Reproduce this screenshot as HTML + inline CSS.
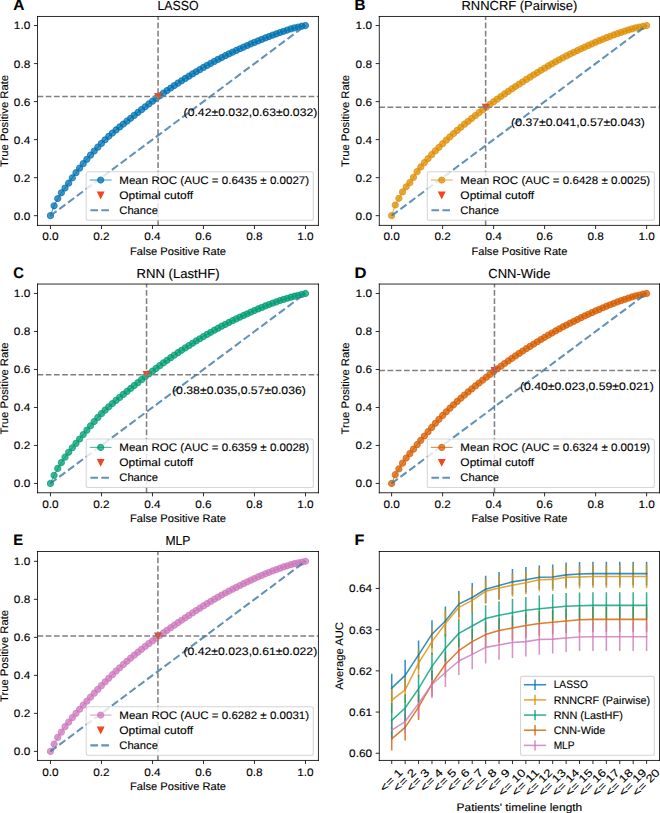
<!DOCTYPE html>
<html><head><meta charset="utf-8"><style>html,body{margin:0;padding:0;background:#fff;overflow:hidden}svg{display:block}text{stroke:#000;stroke-width:0.12px;text-rendering:geometricPrecision}</style></head><body>
<svg width="660" height="813" viewBox="0 0 660 813" version="1.1"> 
<defs> 
<style type="text/css">*{stroke-linejoin: round; stroke-linecap: butt}</style> 
</defs> 
<g id="figure_1"> 
<g id="patch_1"> 
<path d="M 0 813 L 660 813 L 660 0 L 0 0 z 
" style="fill: #ffffff"/> 
</g> 
<g id="axes_1"> 
<g id="patch_2"> 
<path d="M 37.53 225.4 L 318.45 225.4 L 318.45 16.47 L 37.53 16.47 z 
" style="fill: #ffffff"/> 
</g> 
<g id="matplotlib.axis_1"> 
<g id="xtick_1"> 
<g id="line2d_1"> 
<defs> 
<path id="m2a7deeeb55" d="M 0 0 L 0 3.6155 " style="stroke: #000000; stroke-width: 0.8264"/> 
</defs> 
<g> 
<use href="#m2a7deeeb55" x="50.459052" y="225.4" style="stroke: #000000; stroke-width: 0.8264"/> 
</g> 
</g> 
<g id="text_1"> 
<text style="font-family:&quot;Liberation Sans&quot;,sans-serif;font-size:10.929px;text-anchor:middle" x="50.459052" y="240.480186" textLength="16.43" lengthAdjust="spacingAndGlyphs">0.0</text> 
</g> 
</g> 
<g id="xtick_2"> 
<g id="line2d_2"> 
<g> 
<use href="#m2a7deeeb55" x="101.461231" y="225.4" style="stroke: #000000; stroke-width: 0.8264"/> 
</g> 
</g> 
<g id="text_2"> 
<text style="font-family:&quot;Liberation Sans&quot;,sans-serif;font-size:10.929px;text-anchor:middle" x="101.461231" y="240.480186" textLength="16.43" lengthAdjust="spacingAndGlyphs">0.2</text> 
</g> 
</g> 
<g id="xtick_3"> 
<g id="line2d_3"> 
<g> 
<use href="#m2a7deeeb55" x="152.46341" y="225.4" style="stroke: #000000; stroke-width: 0.8264"/> 
</g> 
</g> 
<g id="text_3"> 
<text style="font-family:&quot;Liberation Sans&quot;,sans-serif;font-size:10.929px;text-anchor:middle" x="152.46341" y="240.480186" textLength="16.43" lengthAdjust="spacingAndGlyphs">0.4</text> 
</g> 
</g> 
<g id="xtick_4"> 
<g id="line2d_4"> 
<g> 
<use href="#m2a7deeeb55" x="203.465588" y="225.4" style="stroke: #000000; stroke-width: 0.8264"/> 
</g> 
</g> 
<g id="text_4"> 
<text style="font-family:&quot;Liberation Sans&quot;,sans-serif;font-size:10.929px;text-anchor:middle" x="203.465588" y="240.480186" textLength="16.43" lengthAdjust="spacingAndGlyphs">0.6</text> 
</g> 
</g> 
<g id="xtick_5"> 
<g id="line2d_5"> 
<g> 
<use href="#m2a7deeeb55" x="254.467767" y="225.4" style="stroke: #000000; stroke-width: 0.8264"/> 
</g> 
</g> 
<g id="text_5"> 
<text style="font-family:&quot;Liberation Sans&quot;,sans-serif;font-size:10.929px;text-anchor:middle" x="254.467767" y="240.480186" textLength="16.43" lengthAdjust="spacingAndGlyphs">0.8</text> 
</g> 
</g> 
<g id="xtick_6"> 
<g id="line2d_6"> 
<g> 
<use href="#m2a7deeeb55" x="305.469946" y="225.4" style="stroke: #000000; stroke-width: 0.8264"/> 
</g> 
</g> 
<g id="text_6"> 
<text style="font-family:&quot;Liberation Sans&quot;,sans-serif;font-size:10.929px;text-anchor:middle" x="305.469946" y="240.480186" textLength="16.43" lengthAdjust="spacingAndGlyphs">1.0</text> 
</g> 
</g> 
<g id="text_7"> 
<text style="font-family:&quot;Liberation Sans&quot;,sans-serif;font-size:10.929px;text-anchor:middle" x="177.99" y="254.609689" textLength="96.01" lengthAdjust="spacingAndGlyphs">False Positive Rate</text> 
</g> 
</g> 
<g id="matplotlib.axis_2"> 
<g id="ytick_1"> 
<g id="line2d_7"> 
<defs> 
<path id="m3db1927b41" d="M 0 0 L -3.6155 0 " style="stroke: #000000; stroke-width: 0.8264"/> 
</defs> 
<g> 
<use href="#m3db1927b41" x="37.53" y="215.666409" style="stroke: #000000; stroke-width: 0.8264"/> 
</g> 
</g> 
<g id="text_8"> 
<text style="font-family:&quot;Liberation Sans&quot;,sans-serif;font-size:10.929px;text-anchor:end" x="30.299" y="219.591002" textLength="16.43" lengthAdjust="spacingAndGlyphs">0.0</text> 
</g> 
</g> 
<g id="ytick_2"> 
<g id="line2d_8"> 
<g> 
<use href="#m3db1927b41" x="37.53" y="177.644571" style="stroke: #000000; stroke-width: 0.8264"/> 
</g> 
</g> 
<g id="text_9"> 
<text style="font-family:&quot;Liberation Sans&quot;,sans-serif;font-size:10.929px;text-anchor:end" x="30.299" y="181.569164" textLength="16.43" lengthAdjust="spacingAndGlyphs">0.2</text> 
</g> 
</g> 
<g id="ytick_3"> 
<g id="line2d_9"> 
<g> 
<use href="#m3db1927b41" x="37.53" y="139.622733" style="stroke: #000000; stroke-width: 0.8264"/> 
</g> 
</g> 
<g id="text_10"> 
<text style="font-family:&quot;Liberation Sans&quot;,sans-serif;font-size:10.929px;text-anchor:end" x="30.299" y="143.547326" textLength="16.43" lengthAdjust="spacingAndGlyphs">0.4</text> 
</g> 
</g> 
<g id="ytick_4"> 
<g id="line2d_10"> 
<g> 
<use href="#m3db1927b41" x="37.53" y="101.600895" style="stroke: #000000; stroke-width: 0.8264"/> 
</g> 
</g> 
<g id="text_11"> 
<text style="font-family:&quot;Liberation Sans&quot;,sans-serif;font-size:10.929px;text-anchor:end" x="30.299" y="105.525488" textLength="16.43" lengthAdjust="spacingAndGlyphs">0.6</text> 
</g> 
</g> 
<g id="ytick_5"> 
<g id="line2d_11"> 
<g> 
<use href="#m3db1927b41" x="37.53" y="63.579057" style="stroke: #000000; stroke-width: 0.8264"/> 
</g> 
</g> 
<g id="text_12"> 
<text style="font-family:&quot;Liberation Sans&quot;,sans-serif;font-size:10.929px;text-anchor:end" x="30.299" y="67.50365" textLength="16.43" lengthAdjust="spacingAndGlyphs">0.8</text> 
</g> 
</g> 
<g id="ytick_6"> 
<g id="line2d_12"> 
<g> 
<use href="#m3db1927b41" x="37.53" y="25.557219" style="stroke: #000000; stroke-width: 0.8264"/> 
</g> 
</g> 
<g id="text_13"> 
<text style="font-family:&quot;Liberation Sans&quot;,sans-serif;font-size:10.929px;text-anchor:end" x="30.299" y="29.481812" textLength="16.43" lengthAdjust="spacingAndGlyphs">1.0</text> 
</g> 
</g> 
<g id="text_14"> 
<text style="font-family:&quot;Liberation Sans&quot;,sans-serif;font-size:10.929px;text-anchor:middle" x="7.590755" y="120.935" transform="rotate(-90 7.590755 120.935)" textLength="92.02" lengthAdjust="spacingAndGlyphs">True Positive Rate</text> 
</g> 
</g> 
<g id="line2d_13"> 
<path d="M 50.459052 215.666409 L 54.102065 205.78368 L 57.745078 198.505882 L 61.388091 192.792713 L 65.031103 188.013017 L 68.674116 183.131305 L 72.317129 177.911015 L 75.960142 172.739564 L 79.603154 168.101426 L 83.246167 163.61425 L 86.88918 159.269654 L 90.532193 155.069276 L 94.175205 151.014754 L 97.818218 147.107726 L 101.461231 143.349832 L 105.104244 139.742708 L 108.747256 136.300394 L 112.390269 133.051923 L 116.033282 129.958525 L 119.676295 126.975627 L 123.319308 124.058654 L 126.96232 121.163032 L 130.605333 118.26162 L 134.248346 115.368085 L 137.891359 112.487788 L 141.534371 109.625759 L 145.177384 106.787026 L 148.820397 103.976619 L 152.46341 101.199567 L 156.106422 98.460899 L 159.749435 95.765645 L 163.392448 93.118835 L 167.035461 90.525496 L 170.678473 87.99066 L 174.321486 85.519354 L 177.964499 83.116608 L 181.607512 80.771889 L 185.250524 78.461542 L 188.893537 76.186546 L 192.53655 73.948321 L 196.179563 71.748284 L 199.822575 69.587855 L 203.465588 67.468452 L 207.108601 65.391493 L 210.751614 63.358397 L 214.394627 61.370582 L 218.037639 59.429466 L 221.680652 57.536469 L 225.323665 55.693009 L 228.966678 53.900504 L 232.60969 52.152996 L 236.252703 50.438639 L 239.895716 48.757508 L 243.538729 47.109889 L 247.181741 45.496066 L 250.824754 43.916324 L 254.467767 42.370948 L 258.11078 40.860223 L 261.753792 39.384434 L 265.396805 37.943865 L 269.039818 36.538802 L 272.682831 35.16953 L 276.325843 33.836333 L 279.968856 32.539496 L 283.611869 31.273036 L 287.254882 30.049025 L 290.897894 28.906691 L 294.540907 27.885585 L 298.18392 27.002722 L 301.826933 26.224539 L 305.469946 25.557219 " clip-path="url(#p35fcb42cb3)" style="fill: none; stroke: #0173b2; stroke-opacity: 0.75; stroke-width: 1.033; stroke-linecap: square"/> 
<defs> 
<path id="mb3023d647e" d="M 0 3.099 C 0.821864 3.099 1.610178 2.77247 2.191324 2.191324 C 2.77247 1.610178 3.099 0.821864 3.099 0 C 3.099 -0.821864 2.77247 -1.610178 2.191324 -2.191324 C 1.610178 -2.77247 0.821864 -3.099 0 -3.099 C -0.821864 -3.099 -1.610178 -2.77247 -2.191324 -2.191324 C -2.77247 -1.610178 -3.099 -0.821864 -3.099 0 C -3.099 0.821864 -2.77247 1.610178 -2.191324 2.191324 C -1.610178 2.77247 -0.821864 3.099 0 3.099 z 
" style="stroke: #0173b2; stroke-opacity: 0.75; stroke-width: 1.033"/> 
</defs> 
<g clip-path="url(#p35fcb42cb3)"> 
<use href="#mb3023d647e" x="50.459052" y="215.666409" style="fill: #0173b2; fill-opacity: 0.75; stroke: #0173b2; stroke-opacity: 0.75; stroke-width: 1.033"/> 
<use href="#mb3023d647e" x="54.102065" y="205.78368" style="fill: #0173b2; fill-opacity: 0.75; stroke: #0173b2; stroke-opacity: 0.75; stroke-width: 1.033"/> 
<use href="#mb3023d647e" x="57.745078" y="198.505882" style="fill: #0173b2; fill-opacity: 0.75; stroke: #0173b2; stroke-opacity: 0.75; stroke-width: 1.033"/> 
<use href="#mb3023d647e" x="61.388091" y="192.792713" style="fill: #0173b2; fill-opacity: 0.75; stroke: #0173b2; stroke-opacity: 0.75; stroke-width: 1.033"/> 
<use href="#mb3023d647e" x="65.031103" y="188.013017" style="fill: #0173b2; fill-opacity: 0.75; stroke: #0173b2; stroke-opacity: 0.75; stroke-width: 1.033"/> 
<use href="#mb3023d647e" x="68.674116" y="183.131305" style="fill: #0173b2; fill-opacity: 0.75; stroke: #0173b2; stroke-opacity: 0.75; stroke-width: 1.033"/> 
<use href="#mb3023d647e" x="72.317129" y="177.911015" style="fill: #0173b2; fill-opacity: 0.75; stroke: #0173b2; stroke-opacity: 0.75; stroke-width: 1.033"/> 
<use href="#mb3023d647e" x="75.960142" y="172.739564" style="fill: #0173b2; fill-opacity: 0.75; stroke: #0173b2; stroke-opacity: 0.75; stroke-width: 1.033"/> 
<use href="#mb3023d647e" x="79.603154" y="168.101426" style="fill: #0173b2; fill-opacity: 0.75; stroke: #0173b2; stroke-opacity: 0.75; stroke-width: 1.033"/> 
<use href="#mb3023d647e" x="83.246167" y="163.61425" style="fill: #0173b2; fill-opacity: 0.75; stroke: #0173b2; stroke-opacity: 0.75; stroke-width: 1.033"/> 
<use href="#mb3023d647e" x="86.88918" y="159.269654" style="fill: #0173b2; fill-opacity: 0.75; stroke: #0173b2; stroke-opacity: 0.75; stroke-width: 1.033"/> 
<use href="#mb3023d647e" x="90.532193" y="155.069276" style="fill: #0173b2; fill-opacity: 0.75; stroke: #0173b2; stroke-opacity: 0.75; stroke-width: 1.033"/> 
<use href="#mb3023d647e" x="94.175205" y="151.014754" style="fill: #0173b2; fill-opacity: 0.75; stroke: #0173b2; stroke-opacity: 0.75; stroke-width: 1.033"/> 
<use href="#mb3023d647e" x="97.818218" y="147.107726" style="fill: #0173b2; fill-opacity: 0.75; stroke: #0173b2; stroke-opacity: 0.75; stroke-width: 1.033"/> 
<use href="#mb3023d647e" x="101.461231" y="143.349832" style="fill: #0173b2; fill-opacity: 0.75; stroke: #0173b2; stroke-opacity: 0.75; stroke-width: 1.033"/> 
<use href="#mb3023d647e" x="105.104244" y="139.742708" style="fill: #0173b2; fill-opacity: 0.75; stroke: #0173b2; stroke-opacity: 0.75; stroke-width: 1.033"/> 
<use href="#mb3023d647e" x="108.747256" y="136.300394" style="fill: #0173b2; fill-opacity: 0.75; stroke: #0173b2; stroke-opacity: 0.75; stroke-width: 1.033"/> 
<use href="#mb3023d647e" x="112.390269" y="133.051923" style="fill: #0173b2; fill-opacity: 0.75; stroke: #0173b2; stroke-opacity: 0.75; stroke-width: 1.033"/> 
<use href="#mb3023d647e" x="116.033282" y="129.958525" style="fill: #0173b2; fill-opacity: 0.75; stroke: #0173b2; stroke-opacity: 0.75; stroke-width: 1.033"/> 
<use href="#mb3023d647e" x="119.676295" y="126.975627" style="fill: #0173b2; fill-opacity: 0.75; stroke: #0173b2; stroke-opacity: 0.75; stroke-width: 1.033"/> 
<use href="#mb3023d647e" x="123.319308" y="124.058654" style="fill: #0173b2; fill-opacity: 0.75; stroke: #0173b2; stroke-opacity: 0.75; stroke-width: 1.033"/> 
<use href="#mb3023d647e" x="126.96232" y="121.163032" style="fill: #0173b2; fill-opacity: 0.75; stroke: #0173b2; stroke-opacity: 0.75; stroke-width: 1.033"/> 
<use href="#mb3023d647e" x="130.605333" y="118.26162" style="fill: #0173b2; fill-opacity: 0.75; stroke: #0173b2; stroke-opacity: 0.75; stroke-width: 1.033"/> 
<use href="#mb3023d647e" x="134.248346" y="115.368085" style="fill: #0173b2; fill-opacity: 0.75; stroke: #0173b2; stroke-opacity: 0.75; stroke-width: 1.033"/> 
<use href="#mb3023d647e" x="137.891359" y="112.487788" style="fill: #0173b2; fill-opacity: 0.75; stroke: #0173b2; stroke-opacity: 0.75; stroke-width: 1.033"/> 
<use href="#mb3023d647e" x="141.534371" y="109.625759" style="fill: #0173b2; fill-opacity: 0.75; stroke: #0173b2; stroke-opacity: 0.75; stroke-width: 1.033"/> 
<use href="#mb3023d647e" x="145.177384" y="106.787026" style="fill: #0173b2; fill-opacity: 0.75; stroke: #0173b2; stroke-opacity: 0.75; stroke-width: 1.033"/> 
<use href="#mb3023d647e" x="148.820397" y="103.976619" style="fill: #0173b2; fill-opacity: 0.75; stroke: #0173b2; stroke-opacity: 0.75; stroke-width: 1.033"/> 
<use href="#mb3023d647e" x="152.46341" y="101.199567" style="fill: #0173b2; fill-opacity: 0.75; stroke: #0173b2; stroke-opacity: 0.75; stroke-width: 1.033"/> 
<use href="#mb3023d647e" x="156.106422" y="98.460899" style="fill: #0173b2; fill-opacity: 0.75; stroke: #0173b2; stroke-opacity: 0.75; stroke-width: 1.033"/> 
<use href="#mb3023d647e" x="159.749435" y="95.765645" style="fill: #0173b2; fill-opacity: 0.75; stroke: #0173b2; stroke-opacity: 0.75; stroke-width: 1.033"/> 
<use href="#mb3023d647e" x="163.392448" y="93.118835" style="fill: #0173b2; fill-opacity: 0.75; stroke: #0173b2; stroke-opacity: 0.75; stroke-width: 1.033"/> 
<use href="#mb3023d647e" x="167.035461" y="90.525496" style="fill: #0173b2; fill-opacity: 0.75; stroke: #0173b2; stroke-opacity: 0.75; stroke-width: 1.033"/> 
<use href="#mb3023d647e" x="170.678473" y="87.99066" style="fill: #0173b2; fill-opacity: 0.75; stroke: #0173b2; stroke-opacity: 0.75; stroke-width: 1.033"/> 
<use href="#mb3023d647e" x="174.321486" y="85.519354" style="fill: #0173b2; fill-opacity: 0.75; stroke: #0173b2; stroke-opacity: 0.75; stroke-width: 1.033"/> 
<use href="#mb3023d647e" x="177.964499" y="83.116608" style="fill: #0173b2; fill-opacity: 0.75; stroke: #0173b2; stroke-opacity: 0.75; stroke-width: 1.033"/> 
<use href="#mb3023d647e" x="181.607512" y="80.771889" style="fill: #0173b2; fill-opacity: 0.75; stroke: #0173b2; stroke-opacity: 0.75; stroke-width: 1.033"/> 
<use href="#mb3023d647e" x="185.250524" y="78.461542" style="fill: #0173b2; fill-opacity: 0.75; stroke: #0173b2; stroke-opacity: 0.75; stroke-width: 1.033"/> 
<use href="#mb3023d647e" x="188.893537" y="76.186546" style="fill: #0173b2; fill-opacity: 0.75; stroke: #0173b2; stroke-opacity: 0.75; stroke-width: 1.033"/> 
<use href="#mb3023d647e" x="192.53655" y="73.948321" style="fill: #0173b2; fill-opacity: 0.75; stroke: #0173b2; stroke-opacity: 0.75; stroke-width: 1.033"/> 
<use href="#mb3023d647e" x="196.179563" y="71.748284" style="fill: #0173b2; fill-opacity: 0.75; stroke: #0173b2; stroke-opacity: 0.75; stroke-width: 1.033"/> 
<use href="#mb3023d647e" x="199.822575" y="69.587855" style="fill: #0173b2; fill-opacity: 0.75; stroke: #0173b2; stroke-opacity: 0.75; stroke-width: 1.033"/> 
<use href="#mb3023d647e" x="203.465588" y="67.468452" style="fill: #0173b2; fill-opacity: 0.75; stroke: #0173b2; stroke-opacity: 0.75; stroke-width: 1.033"/> 
<use href="#mb3023d647e" x="207.108601" y="65.391493" style="fill: #0173b2; fill-opacity: 0.75; stroke: #0173b2; stroke-opacity: 0.75; stroke-width: 1.033"/> 
<use href="#mb3023d647e" x="210.751614" y="63.358397" style="fill: #0173b2; fill-opacity: 0.75; stroke: #0173b2; stroke-opacity: 0.75; stroke-width: 1.033"/> 
<use href="#mb3023d647e" x="214.394627" y="61.370582" style="fill: #0173b2; fill-opacity: 0.75; stroke: #0173b2; stroke-opacity: 0.75; stroke-width: 1.033"/> 
<use href="#mb3023d647e" x="218.037639" y="59.429466" style="fill: #0173b2; fill-opacity: 0.75; stroke: #0173b2; stroke-opacity: 0.75; stroke-width: 1.033"/> 
<use href="#mb3023d647e" x="221.680652" y="57.536469" style="fill: #0173b2; fill-opacity: 0.75; stroke: #0173b2; stroke-opacity: 0.75; stroke-width: 1.033"/> 
<use href="#mb3023d647e" x="225.323665" y="55.693009" style="fill: #0173b2; fill-opacity: 0.75; stroke: #0173b2; stroke-opacity: 0.75; stroke-width: 1.033"/> 
<use href="#mb3023d647e" x="228.966678" y="53.900504" style="fill: #0173b2; fill-opacity: 0.75; stroke: #0173b2; stroke-opacity: 0.75; stroke-width: 1.033"/> 
<use href="#mb3023d647e" x="232.60969" y="52.152996" style="fill: #0173b2; fill-opacity: 0.75; stroke: #0173b2; stroke-opacity: 0.75; stroke-width: 1.033"/> 
<use href="#mb3023d647e" x="236.252703" y="50.438639" style="fill: #0173b2; fill-opacity: 0.75; stroke: #0173b2; stroke-opacity: 0.75; stroke-width: 1.033"/> 
<use href="#mb3023d647e" x="239.895716" y="48.757508" style="fill: #0173b2; fill-opacity: 0.75; stroke: #0173b2; stroke-opacity: 0.75; stroke-width: 1.033"/> 
<use href="#mb3023d647e" x="243.538729" y="47.109889" style="fill: #0173b2; fill-opacity: 0.75; stroke: #0173b2; stroke-opacity: 0.75; stroke-width: 1.033"/> 
<use href="#mb3023d647e" x="247.181741" y="45.496066" style="fill: #0173b2; fill-opacity: 0.75; stroke: #0173b2; stroke-opacity: 0.75; stroke-width: 1.033"/> 
<use href="#mb3023d647e" x="250.824754" y="43.916324" style="fill: #0173b2; fill-opacity: 0.75; stroke: #0173b2; stroke-opacity: 0.75; stroke-width: 1.033"/> 
<use href="#mb3023d647e" x="254.467767" y="42.370948" style="fill: #0173b2; fill-opacity: 0.75; stroke: #0173b2; stroke-opacity: 0.75; stroke-width: 1.033"/> 
<use href="#mb3023d647e" x="258.11078" y="40.860223" style="fill: #0173b2; fill-opacity: 0.75; stroke: #0173b2; stroke-opacity: 0.75; stroke-width: 1.033"/> 
<use href="#mb3023d647e" x="261.753792" y="39.384434" style="fill: #0173b2; fill-opacity: 0.75; stroke: #0173b2; stroke-opacity: 0.75; stroke-width: 1.033"/> 
<use href="#mb3023d647e" x="265.396805" y="37.943865" style="fill: #0173b2; fill-opacity: 0.75; stroke: #0173b2; stroke-opacity: 0.75; stroke-width: 1.033"/> 
<use href="#mb3023d647e" x="269.039818" y="36.538802" style="fill: #0173b2; fill-opacity: 0.75; stroke: #0173b2; stroke-opacity: 0.75; stroke-width: 1.033"/> 
<use href="#mb3023d647e" x="272.682831" y="35.16953" style="fill: #0173b2; fill-opacity: 0.75; stroke: #0173b2; stroke-opacity: 0.75; stroke-width: 1.033"/> 
<use href="#mb3023d647e" x="276.325843" y="33.836333" style="fill: #0173b2; fill-opacity: 0.75; stroke: #0173b2; stroke-opacity: 0.75; stroke-width: 1.033"/> 
<use href="#mb3023d647e" x="279.968856" y="32.539496" style="fill: #0173b2; fill-opacity: 0.75; stroke: #0173b2; stroke-opacity: 0.75; stroke-width: 1.033"/> 
<use href="#mb3023d647e" x="283.611869" y="31.273036" style="fill: #0173b2; fill-opacity: 0.75; stroke: #0173b2; stroke-opacity: 0.75; stroke-width: 1.033"/> 
<use href="#mb3023d647e" x="287.254882" y="30.049025" style="fill: #0173b2; fill-opacity: 0.75; stroke: #0173b2; stroke-opacity: 0.75; stroke-width: 1.033"/> 
<use href="#mb3023d647e" x="290.897894" y="28.906691" style="fill: #0173b2; fill-opacity: 0.75; stroke: #0173b2; stroke-opacity: 0.75; stroke-width: 1.033"/> 
<use href="#mb3023d647e" x="294.540907" y="27.885585" style="fill: #0173b2; fill-opacity: 0.75; stroke: #0173b2; stroke-opacity: 0.75; stroke-width: 1.033"/> 
<use href="#mb3023d647e" x="298.18392" y="27.002722" style="fill: #0173b2; fill-opacity: 0.75; stroke: #0173b2; stroke-opacity: 0.75; stroke-width: 1.033"/> 
<use href="#mb3023d647e" x="301.826933" y="26.224539" style="fill: #0173b2; fill-opacity: 0.75; stroke: #0173b2; stroke-opacity: 0.75; stroke-width: 1.033"/> 
<use href="#mb3023d647e" x="305.469946" y="25.557219" style="fill: #0173b2; fill-opacity: 0.75; stroke: #0173b2; stroke-opacity: 0.75; stroke-width: 1.033"/> 
</g> 
</g> 
<g id="line2d_14"> 
<defs> 
<path id="m56142252ae" d="M -0 3.099 L 3.099 -3.099 L -3.099 -3.099 z 
" style="stroke: #f0461e; stroke-width: 1.033; stroke-linejoin: miter"/> 
</defs> 
<g clip-path="url(#p35fcb42cb3)"> 
<use href="#m56142252ae" x="158.073649" y="96.582013" style="fill: #f0461e; stroke: #f0461e; stroke-width: 1.033; stroke-linejoin: miter"/> 
</g> 
</g> 
<g id="line2d_15"> 
<path d="M 158.073649 225.4 L 158.073649 16.47 " clip-path="url(#p35fcb42cb3)" style="fill: none; stroke-dasharray: 5.73315,2.4792; stroke-dashoffset: 0; stroke: #808080; stroke-width: 1.5495"/> 
</g> 
<g id="line2d_16"> 
<path d="M 37.53 96.582013 L 318.45 96.582013 " clip-path="url(#p35fcb42cb3)" style="fill: none; stroke-dasharray: 5.73315,2.4792; stroke-dashoffset: 0; stroke: #808080; stroke-width: 1.5495"/> 
</g> 
<g id="line2d_17"> 
<path d="M 50.459052 215.666409 L 305.469946 25.557219 " clip-path="url(#p35fcb42cb3)" style="fill: none; stroke-dasharray: 7.6442,3.3056; stroke-dashoffset: 0; stroke: #3a77a5; stroke-opacity: 0.8; stroke-width: 2.066"/> 
</g> 
<g id="patch_3"> 
<path d="M 37.53 225.4 L 37.53 16.47 " style="fill: none; stroke: #000000; stroke-width: 0.8264; stroke-linejoin: miter; stroke-linecap: square"/> 
</g> 
<g id="patch_4"> 
<path d="M 318.45 225.4 L 318.45 16.47 " style="fill: none; stroke: #000000; stroke-width: 0.8264; stroke-linejoin: miter; stroke-linecap: square"/> 
</g> 
<g id="patch_5"> 
<path d="M 37.53 225.4 L 318.45 225.4 " style="fill: none; stroke: #000000; stroke-width: 0.8264; stroke-linejoin: miter; stroke-linecap: square"/> 
</g> 
<g id="patch_6"> 
<path d="M 37.53 16.47 L 318.45 16.47 " style="fill: none; stroke: #000000; stroke-width: 0.8264; stroke-linejoin: miter; stroke-linecap: square"/> 
</g> 
<g id="text_15"> 
<text style="font-family:&quot;Liberation Sans&quot;,sans-serif;font-size:10.929px;text-anchor:start" x="183.574739" y="115.592932" textLength="133.80" lengthAdjust="spacingAndGlyphs">(0.42±0.032,0.63±0.032)</text> 
</g> 
<g id="text_16"> 
<text style="font-family:&quot;Liberation Sans&quot;,sans-serif;font-size:13.115px;text-anchor:middle" x="177.99" y="10.272" textLength="41.16" lengthAdjust="spacingAndGlyphs">LASSO</text> 
</g> 
<g id="legend_1"> 
<g id="patch_7"> 
<path d="M 88.292758 220.235 L 311.219 220.235 Q 313.285 220.235 313.285 218.169 L 313.285 173.714491 Q 313.285 171.648491 311.219 171.648491 L 88.292758 171.648491 Q 86.226758 171.648491 86.226758 173.714491 L 86.226758 218.169 Q 86.226758 220.235 88.292758 220.235 z 
" style="fill: #ffffff; opacity: 0.8; stroke: #cccccc; stroke-width: 1.033; stroke-linejoin: miter"/> 
</g> 
<g id="line2d_18"> 
<path d="M 90.358758 180.014177 L 100.688758 180.014177 L 111.018758 180.014177 " style="fill: none; stroke: #0173b2; stroke-opacity: 0.75; stroke-width: 1.033; stroke-linecap: square"/> 
<g> 
<use href="#mb3023d647e" x="100.688758" y="180.014177" style="fill: #0173b2; fill-opacity: 0.75; stroke: #0173b2; stroke-opacity: 0.75; stroke-width: 1.033"/> 
</g> 
</g> 
<g id="text_17"> 
<text style="font-family:&quot;Liberation Sans&quot;,sans-serif;font-size:10.929px;text-anchor:start" x="119.282758" y="183.629677" textLength="189.87" lengthAdjust="spacingAndGlyphs">Mean ROC (AUC = 0.6435 ± 0.0027)</text> 
</g> 
<g id="line2d_19"> 
<g> 
<use href="#m56142252ae" x="100.688758" y="195.17668" style="fill: #f0461e; stroke: #f0461e; stroke-width: 1.033; stroke-linejoin: miter"/> 
</g> 
</g> 
<g id="text_18"> 
<text style="font-family:&quot;Liberation Sans&quot;,sans-serif;font-size:10.929px;text-anchor:start" x="119.282758" y="198.79218" textLength="73.87" lengthAdjust="spacingAndGlyphs">Optimal cutoff</text> 
</g> 
<g id="line2d_20"> 
<path d="M 90.358758 210.339183 L 100.688758 210.339183 L 111.018758 210.339183 " style="fill: none; stroke-dasharray: 7.6442,3.3056; stroke-dashoffset: 0; stroke: #3a77a5; stroke-opacity: 0.8; stroke-width: 2.066"/> 
</g> 
<g id="text_19"> 
<text style="font-family:&quot;Liberation Sans&quot;,sans-serif;font-size:10.929px;text-anchor:start" x="119.282758" y="213.954683" textLength="38.67" lengthAdjust="spacingAndGlyphs">Chance</text> 
</g> 
</g> 
</g> 
<g id="axes_2"> 
<g id="patch_8"> 
<path d="M 379.3 225.4 L 659.5 225.4 L 659.5 16.47 L 379.3 16.47 z 
" style="fill: #ffffff"/> 
</g> 
<g id="matplotlib.axis_3"> 
<g id="xtick_7"> 
<g id="line2d_21"> 
<g> 
<use href="#m2a7deeeb55" x="391.616764" y="225.4" style="stroke: #000000; stroke-width: 0.8264"/> 
</g> 
</g> 
<g id="text_20"> 
<text style="font-family:&quot;Liberation Sans&quot;,sans-serif;font-size:10.929px;text-anchor:middle" x="391.616764" y="240.480186" textLength="16.43" lengthAdjust="spacingAndGlyphs">0.0</text> 
</g> 
</g> 
<g id="xtick_8"> 
<g id="line2d_22"> 
<g> 
<use href="#m2a7deeeb55" x="442.617856" y="225.4" style="stroke: #000000; stroke-width: 0.8264"/> 
</g> 
</g> 
<g id="text_21"> 
<text style="font-family:&quot;Liberation Sans&quot;,sans-serif;font-size:10.929px;text-anchor:middle" x="442.617856" y="240.480186" textLength="16.43" lengthAdjust="spacingAndGlyphs">0.2</text> 
</g> 
</g> 
<g id="xtick_9"> 
<g id="line2d_23"> 
<g> 
<use href="#m2a7deeeb55" x="493.618948" y="225.4" style="stroke: #000000; stroke-width: 0.8264"/> 
</g> 
</g> 
<g id="text_22"> 
<text style="font-family:&quot;Liberation Sans&quot;,sans-serif;font-size:10.929px;text-anchor:middle" x="493.618948" y="240.480186" textLength="16.43" lengthAdjust="spacingAndGlyphs">0.4</text> 
</g> 
</g> 
<g id="xtick_10"> 
<g id="line2d_24"> 
<g> 
<use href="#m2a7deeeb55" x="544.62004" y="225.4" style="stroke: #000000; stroke-width: 0.8264"/> 
</g> 
</g> 
<g id="text_23"> 
<text style="font-family:&quot;Liberation Sans&quot;,sans-serif;font-size:10.929px;text-anchor:middle" x="544.62004" y="240.480186" textLength="16.43" lengthAdjust="spacingAndGlyphs">0.6</text> 
</g> 
</g> 
<g id="xtick_11"> 
<g id="line2d_25"> 
<g> 
<use href="#m2a7deeeb55" x="595.621132" y="225.4" style="stroke: #000000; stroke-width: 0.8264"/> 
</g> 
</g> 
<g id="text_24"> 
<text style="font-family:&quot;Liberation Sans&quot;,sans-serif;font-size:10.929px;text-anchor:middle" x="595.621132" y="240.480186" textLength="16.43" lengthAdjust="spacingAndGlyphs">0.8</text> 
</g> 
</g> 
<g id="xtick_12"> 
<g id="line2d_26"> 
<g> 
<use href="#m2a7deeeb55" x="646.622224" y="225.4" style="stroke: #000000; stroke-width: 0.8264"/> 
</g> 
</g> 
<g id="text_25"> 
<text style="font-family:&quot;Liberation Sans&quot;,sans-serif;font-size:10.929px;text-anchor:middle" x="646.622224" y="240.480186" textLength="16.43" lengthAdjust="spacingAndGlyphs">1.0</text> 
</g> 
</g> 
<g id="text_26"> 
<text style="font-family:&quot;Liberation Sans&quot;,sans-serif;font-size:10.929px;text-anchor:middle" x="519.4" y="254.609689" textLength="96.01" lengthAdjust="spacingAndGlyphs">False Positive Rate</text> 
</g> 
</g> 
<g id="matplotlib.axis_4"> 
<g id="ytick_7"> 
<g id="line2d_27"> 
<g> 
<use href="#m3db1927b41" x="379.3" y="215.666409" style="stroke: #000000; stroke-width: 0.8264"/> 
</g> 
</g> 
<g id="text_27"> 
<text style="font-family:&quot;Liberation Sans&quot;,sans-serif;font-size:10.929px;text-anchor:end" x="372.069" y="219.591002" textLength="16.43" lengthAdjust="spacingAndGlyphs">0.0</text> 
</g> 
</g> 
<g id="ytick_8"> 
<g id="line2d_28"> 
<g> 
<use href="#m3db1927b41" x="379.3" y="177.644571" style="stroke: #000000; stroke-width: 0.8264"/> 
</g> 
</g> 
<g id="text_28"> 
<text style="font-family:&quot;Liberation Sans&quot;,sans-serif;font-size:10.929px;text-anchor:end" x="372.069" y="181.569164" textLength="16.43" lengthAdjust="spacingAndGlyphs">0.2</text> 
</g> 
</g> 
<g id="ytick_9"> 
<g id="line2d_29"> 
<g> 
<use href="#m3db1927b41" x="379.3" y="139.622733" style="stroke: #000000; stroke-width: 0.8264"/> 
</g> 
</g> 
<g id="text_29"> 
<text style="font-family:&quot;Liberation Sans&quot;,sans-serif;font-size:10.929px;text-anchor:end" x="372.069" y="143.547326" textLength="16.43" lengthAdjust="spacingAndGlyphs">0.4</text> 
</g> 
</g> 
<g id="ytick_10"> 
<g id="line2d_30"> 
<g> 
<use href="#m3db1927b41" x="379.3" y="101.600895" style="stroke: #000000; stroke-width: 0.8264"/> 
</g> 
</g> 
<g id="text_30"> 
<text style="font-family:&quot;Liberation Sans&quot;,sans-serif;font-size:10.929px;text-anchor:end" x="372.069" y="105.525488" textLength="16.43" lengthAdjust="spacingAndGlyphs">0.6</text> 
</g> 
</g> 
<g id="ytick_11"> 
<g id="line2d_31"> 
<g> 
<use href="#m3db1927b41" x="379.3" y="63.579057" style="stroke: #000000; stroke-width: 0.8264"/> 
</g> 
</g> 
<g id="text_31"> 
<text style="font-family:&quot;Liberation Sans&quot;,sans-serif;font-size:10.929px;text-anchor:end" x="372.069" y="67.50365" textLength="16.43" lengthAdjust="spacingAndGlyphs">0.8</text> 
</g> 
</g> 
<g id="ytick_12"> 
<g id="line2d_32"> 
<g> 
<use href="#m3db1927b41" x="379.3" y="25.557219" style="stroke: #000000; stroke-width: 0.8264"/> 
</g> 
</g> 
<g id="text_32"> 
<text style="font-family:&quot;Liberation Sans&quot;,sans-serif;font-size:10.929px;text-anchor:end" x="372.069" y="29.481812" textLength="16.43" lengthAdjust="spacingAndGlyphs">1.0</text> 
</g> 
</g> 
<g id="text_33"> 
<text style="font-family:&quot;Liberation Sans&quot;,sans-serif;font-size:10.929px;text-anchor:middle" x="349.360755" y="120.935" transform="rotate(-90 349.360755 120.935)" textLength="92.02" lengthAdjust="spacingAndGlyphs">True Positive Rate</text> 
</g> 
</g> 
<g id="line2d_33"> 
<path d="M 391.616764 215.666409 L 395.259699 205.020971 L 398.902634 198.282568 L 402.545569 191.979802 L 406.188504 186.794924 L 409.831439 182.679438 L 413.474375 177.343578 L 417.11731 171.629995 L 420.760245 166.967446 L 424.40318 162.616288 L 428.046115 158.51844 L 431.68905 154.62715 L 435.331986 150.895662 L 438.974921 147.277225 L 442.617856 143.725083 L 446.260791 140.227701 L 449.903726 136.841072 L 453.546661 133.558685 L 457.189596 130.37082 L 460.832532 127.267753 L 464.475467 124.239764 L 468.118402 121.27713 L 471.761337 118.365419 L 475.404272 115.493743 L 479.047207 112.661987 L 482.690142 109.870118 L 486.333078 107.118101 L 489.976013 104.405902 L 493.618948 101.733487 L 497.261883 99.100823 L 500.904818 96.507875 L 504.547753 93.95461 L 508.190689 91.440994 L 511.833624 88.966993 L 515.476559 86.532572 L 519.119494 84.137699 L 522.762429 81.773175 L 526.405364 79.427594 L 530.048299 77.104435 L 533.691235 74.807309 L 537.33417 72.539828 L 540.977105 70.3056 L 544.62004 68.108239 L 548.262975 65.951353 L 551.90591 63.838553 L 555.548845 61.773452 L 559.191781 59.759658 L 562.834716 57.800783 L 566.477651 55.900438 L 570.120586 54.062233 L 573.763521 52.274477 L 577.406456 50.516944 L 581.049392 48.791038 L 584.692327 47.098366 L 588.335262 45.440538 L 591.978197 43.819161 L 595.621132 42.235844 L 599.264067 40.692194 L 602.907002 39.18982 L 606.549938 37.73033 L 610.192873 36.315333 L 613.835808 34.946435 L 617.478743 33.625246 L 621.121678 32.353374 L 624.764613 31.134838 L 628.407548 29.98228 L 632.050484 28.909779 L 635.693419 27.931406 L 639.336354 27.052067 L 642.979289 26.259791 L 646.622224 25.557219 " clip-path="url(#pb8ad8e4391)" style="fill: none; stroke: #de8f05; stroke-opacity: 0.75; stroke-width: 1.033; stroke-linecap: square"/> 
<defs> 
<path id="m3898667962" d="M 0 3.099 C 0.821864 3.099 1.610178 2.77247 2.191324 2.191324 C 2.77247 1.610178 3.099 0.821864 3.099 0 C 3.099 -0.821864 2.77247 -1.610178 2.191324 -2.191324 C 1.610178 -2.77247 0.821864 -3.099 0 -3.099 C -0.821864 -3.099 -1.610178 -2.77247 -2.191324 -2.191324 C -2.77247 -1.610178 -3.099 -0.821864 -3.099 0 C -3.099 0.821864 -2.77247 1.610178 -2.191324 2.191324 C -1.610178 2.77247 -0.821864 3.099 0 3.099 z 
" style="stroke: #de8f05; stroke-opacity: 0.75; stroke-width: 1.033"/> 
</defs> 
<g clip-path="url(#pb8ad8e4391)"> 
<use href="#m3898667962" x="391.616764" y="215.666409" style="fill: #de8f05; fill-opacity: 0.75; stroke: #de8f05; stroke-opacity: 0.75; stroke-width: 1.033"/> 
<use href="#m3898667962" x="395.259699" y="205.020971" style="fill: #de8f05; fill-opacity: 0.75; stroke: #de8f05; stroke-opacity: 0.75; stroke-width: 1.033"/> 
<use href="#m3898667962" x="398.902634" y="198.282568" style="fill: #de8f05; fill-opacity: 0.75; stroke: #de8f05; stroke-opacity: 0.75; stroke-width: 1.033"/> 
<use href="#m3898667962" x="402.545569" y="191.979802" style="fill: #de8f05; fill-opacity: 0.75; stroke: #de8f05; stroke-opacity: 0.75; stroke-width: 1.033"/> 
<use href="#m3898667962" x="406.188504" y="186.794924" style="fill: #de8f05; fill-opacity: 0.75; stroke: #de8f05; stroke-opacity: 0.75; stroke-width: 1.033"/> 
<use href="#m3898667962" x="409.831439" y="182.679438" style="fill: #de8f05; fill-opacity: 0.75; stroke: #de8f05; stroke-opacity: 0.75; stroke-width: 1.033"/> 
<use href="#m3898667962" x="413.474375" y="177.343578" style="fill: #de8f05; fill-opacity: 0.75; stroke: #de8f05; stroke-opacity: 0.75; stroke-width: 1.033"/> 
<use href="#m3898667962" x="417.11731" y="171.629995" style="fill: #de8f05; fill-opacity: 0.75; stroke: #de8f05; stroke-opacity: 0.75; stroke-width: 1.033"/> 
<use href="#m3898667962" x="420.760245" y="166.967446" style="fill: #de8f05; fill-opacity: 0.75; stroke: #de8f05; stroke-opacity: 0.75; stroke-width: 1.033"/> 
<use href="#m3898667962" x="424.40318" y="162.616288" style="fill: #de8f05; fill-opacity: 0.75; stroke: #de8f05; stroke-opacity: 0.75; stroke-width: 1.033"/> 
<use href="#m3898667962" x="428.046115" y="158.51844" style="fill: #de8f05; fill-opacity: 0.75; stroke: #de8f05; stroke-opacity: 0.75; stroke-width: 1.033"/> 
<use href="#m3898667962" x="431.68905" y="154.62715" style="fill: #de8f05; fill-opacity: 0.75; stroke: #de8f05; stroke-opacity: 0.75; stroke-width: 1.033"/> 
<use href="#m3898667962" x="435.331986" y="150.895662" style="fill: #de8f05; fill-opacity: 0.75; stroke: #de8f05; stroke-opacity: 0.75; stroke-width: 1.033"/> 
<use href="#m3898667962" x="438.974921" y="147.277225" style="fill: #de8f05; fill-opacity: 0.75; stroke: #de8f05; stroke-opacity: 0.75; stroke-width: 1.033"/> 
<use href="#m3898667962" x="442.617856" y="143.725083" style="fill: #de8f05; fill-opacity: 0.75; stroke: #de8f05; stroke-opacity: 0.75; stroke-width: 1.033"/> 
<use href="#m3898667962" x="446.260791" y="140.227701" style="fill: #de8f05; fill-opacity: 0.75; stroke: #de8f05; stroke-opacity: 0.75; stroke-width: 1.033"/> 
<use href="#m3898667962" x="449.903726" y="136.841072" style="fill: #de8f05; fill-opacity: 0.75; stroke: #de8f05; stroke-opacity: 0.75; stroke-width: 1.033"/> 
<use href="#m3898667962" x="453.546661" y="133.558685" style="fill: #de8f05; fill-opacity: 0.75; stroke: #de8f05; stroke-opacity: 0.75; stroke-width: 1.033"/> 
<use href="#m3898667962" x="457.189596" y="130.37082" style="fill: #de8f05; fill-opacity: 0.75; stroke: #de8f05; stroke-opacity: 0.75; stroke-width: 1.033"/> 
<use href="#m3898667962" x="460.832532" y="127.267753" style="fill: #de8f05; fill-opacity: 0.75; stroke: #de8f05; stroke-opacity: 0.75; stroke-width: 1.033"/> 
<use href="#m3898667962" x="464.475467" y="124.239764" style="fill: #de8f05; fill-opacity: 0.75; stroke: #de8f05; stroke-opacity: 0.75; stroke-width: 1.033"/> 
<use href="#m3898667962" x="468.118402" y="121.27713" style="fill: #de8f05; fill-opacity: 0.75; stroke: #de8f05; stroke-opacity: 0.75; stroke-width: 1.033"/> 
<use href="#m3898667962" x="471.761337" y="118.365419" style="fill: #de8f05; fill-opacity: 0.75; stroke: #de8f05; stroke-opacity: 0.75; stroke-width: 1.033"/> 
<use href="#m3898667962" x="475.404272" y="115.493743" style="fill: #de8f05; fill-opacity: 0.75; stroke: #de8f05; stroke-opacity: 0.75; stroke-width: 1.033"/> 
<use href="#m3898667962" x="479.047207" y="112.661987" style="fill: #de8f05; fill-opacity: 0.75; stroke: #de8f05; stroke-opacity: 0.75; stroke-width: 1.033"/> 
<use href="#m3898667962" x="482.690142" y="109.870118" style="fill: #de8f05; fill-opacity: 0.75; stroke: #de8f05; stroke-opacity: 0.75; stroke-width: 1.033"/> 
<use href="#m3898667962" x="486.333078" y="107.118101" style="fill: #de8f05; fill-opacity: 0.75; stroke: #de8f05; stroke-opacity: 0.75; stroke-width: 1.033"/> 
<use href="#m3898667962" x="489.976013" y="104.405902" style="fill: #de8f05; fill-opacity: 0.75; stroke: #de8f05; stroke-opacity: 0.75; stroke-width: 1.033"/> 
<use href="#m3898667962" x="493.618948" y="101.733487" style="fill: #de8f05; fill-opacity: 0.75; stroke: #de8f05; stroke-opacity: 0.75; stroke-width: 1.033"/> 
<use href="#m3898667962" x="497.261883" y="99.100823" style="fill: #de8f05; fill-opacity: 0.75; stroke: #de8f05; stroke-opacity: 0.75; stroke-width: 1.033"/> 
<use href="#m3898667962" x="500.904818" y="96.507875" style="fill: #de8f05; fill-opacity: 0.75; stroke: #de8f05; stroke-opacity: 0.75; stroke-width: 1.033"/> 
<use href="#m3898667962" x="504.547753" y="93.95461" style="fill: #de8f05; fill-opacity: 0.75; stroke: #de8f05; stroke-opacity: 0.75; stroke-width: 1.033"/> 
<use href="#m3898667962" x="508.190689" y="91.440994" style="fill: #de8f05; fill-opacity: 0.75; stroke: #de8f05; stroke-opacity: 0.75; stroke-width: 1.033"/> 
<use href="#m3898667962" x="511.833624" y="88.966993" style="fill: #de8f05; fill-opacity: 0.75; stroke: #de8f05; stroke-opacity: 0.75; stroke-width: 1.033"/> 
<use href="#m3898667962" x="515.476559" y="86.532572" style="fill: #de8f05; fill-opacity: 0.75; stroke: #de8f05; stroke-opacity: 0.75; stroke-width: 1.033"/> 
<use href="#m3898667962" x="519.119494" y="84.137699" style="fill: #de8f05; fill-opacity: 0.75; stroke: #de8f05; stroke-opacity: 0.75; stroke-width: 1.033"/> 
<use href="#m3898667962" x="522.762429" y="81.773175" style="fill: #de8f05; fill-opacity: 0.75; stroke: #de8f05; stroke-opacity: 0.75; stroke-width: 1.033"/> 
<use href="#m3898667962" x="526.405364" y="79.427594" style="fill: #de8f05; fill-opacity: 0.75; stroke: #de8f05; stroke-opacity: 0.75; stroke-width: 1.033"/> 
<use href="#m3898667962" x="530.048299" y="77.104435" style="fill: #de8f05; fill-opacity: 0.75; stroke: #de8f05; stroke-opacity: 0.75; stroke-width: 1.033"/> 
<use href="#m3898667962" x="533.691235" y="74.807309" style="fill: #de8f05; fill-opacity: 0.75; stroke: #de8f05; stroke-opacity: 0.75; stroke-width: 1.033"/> 
<use href="#m3898667962" x="537.33417" y="72.539828" style="fill: #de8f05; fill-opacity: 0.75; stroke: #de8f05; stroke-opacity: 0.75; stroke-width: 1.033"/> 
<use href="#m3898667962" x="540.977105" y="70.3056" style="fill: #de8f05; fill-opacity: 0.75; stroke: #de8f05; stroke-opacity: 0.75; stroke-width: 1.033"/> 
<use href="#m3898667962" x="544.62004" y="68.108239" style="fill: #de8f05; fill-opacity: 0.75; stroke: #de8f05; stroke-opacity: 0.75; stroke-width: 1.033"/> 
<use href="#m3898667962" x="548.262975" y="65.951353" style="fill: #de8f05; fill-opacity: 0.75; stroke: #de8f05; stroke-opacity: 0.75; stroke-width: 1.033"/> 
<use href="#m3898667962" x="551.90591" y="63.838553" style="fill: #de8f05; fill-opacity: 0.75; stroke: #de8f05; stroke-opacity: 0.75; stroke-width: 1.033"/> 
<use href="#m3898667962" x="555.548845" y="61.773452" style="fill: #de8f05; fill-opacity: 0.75; stroke: #de8f05; stroke-opacity: 0.75; stroke-width: 1.033"/> 
<use href="#m3898667962" x="559.191781" y="59.759658" style="fill: #de8f05; fill-opacity: 0.75; stroke: #de8f05; stroke-opacity: 0.75; stroke-width: 1.033"/> 
<use href="#m3898667962" x="562.834716" y="57.800783" style="fill: #de8f05; fill-opacity: 0.75; stroke: #de8f05; stroke-opacity: 0.75; stroke-width: 1.033"/> 
<use href="#m3898667962" x="566.477651" y="55.900438" style="fill: #de8f05; fill-opacity: 0.75; stroke: #de8f05; stroke-opacity: 0.75; stroke-width: 1.033"/> 
<use href="#m3898667962" x="570.120586" y="54.062233" style="fill: #de8f05; fill-opacity: 0.75; stroke: #de8f05; stroke-opacity: 0.75; stroke-width: 1.033"/> 
<use href="#m3898667962" x="573.763521" y="52.274477" style="fill: #de8f05; fill-opacity: 0.75; stroke: #de8f05; stroke-opacity: 0.75; stroke-width: 1.033"/> 
<use href="#m3898667962" x="577.406456" y="50.516944" style="fill: #de8f05; fill-opacity: 0.75; stroke: #de8f05; stroke-opacity: 0.75; stroke-width: 1.033"/> 
<use href="#m3898667962" x="581.049392" y="48.791038" style="fill: #de8f05; fill-opacity: 0.75; stroke: #de8f05; stroke-opacity: 0.75; stroke-width: 1.033"/> 
<use href="#m3898667962" x="584.692327" y="47.098366" style="fill: #de8f05; fill-opacity: 0.75; stroke: #de8f05; stroke-opacity: 0.75; stroke-width: 1.033"/> 
<use href="#m3898667962" x="588.335262" y="45.440538" style="fill: #de8f05; fill-opacity: 0.75; stroke: #de8f05; stroke-opacity: 0.75; stroke-width: 1.033"/> 
<use href="#m3898667962" x="591.978197" y="43.819161" style="fill: #de8f05; fill-opacity: 0.75; stroke: #de8f05; stroke-opacity: 0.75; stroke-width: 1.033"/> 
<use href="#m3898667962" x="595.621132" y="42.235844" style="fill: #de8f05; fill-opacity: 0.75; stroke: #de8f05; stroke-opacity: 0.75; stroke-width: 1.033"/> 
<use href="#m3898667962" x="599.264067" y="40.692194" style="fill: #de8f05; fill-opacity: 0.75; stroke: #de8f05; stroke-opacity: 0.75; stroke-width: 1.033"/> 
<use href="#m3898667962" x="602.907002" y="39.18982" style="fill: #de8f05; fill-opacity: 0.75; stroke: #de8f05; stroke-opacity: 0.75; stroke-width: 1.033"/> 
<use href="#m3898667962" x="606.549938" y="37.73033" style="fill: #de8f05; fill-opacity: 0.75; stroke: #de8f05; stroke-opacity: 0.75; stroke-width: 1.033"/> 
<use href="#m3898667962" x="610.192873" y="36.315333" style="fill: #de8f05; fill-opacity: 0.75; stroke: #de8f05; stroke-opacity: 0.75; stroke-width: 1.033"/> 
<use href="#m3898667962" x="613.835808" y="34.946435" style="fill: #de8f05; fill-opacity: 0.75; stroke: #de8f05; stroke-opacity: 0.75; stroke-width: 1.033"/> 
<use href="#m3898667962" x="617.478743" y="33.625246" style="fill: #de8f05; fill-opacity: 0.75; stroke: #de8f05; stroke-opacity: 0.75; stroke-width: 1.033"/> 
<use href="#m3898667962" x="621.121678" y="32.353374" style="fill: #de8f05; fill-opacity: 0.75; stroke: #de8f05; stroke-opacity: 0.75; stroke-width: 1.033"/> 
<use href="#m3898667962" x="624.764613" y="31.134838" style="fill: #de8f05; fill-opacity: 0.75; stroke: #de8f05; stroke-opacity: 0.75; stroke-width: 1.033"/> 
<use href="#m3898667962" x="628.407548" y="29.98228" style="fill: #de8f05; fill-opacity: 0.75; stroke: #de8f05; stroke-opacity: 0.75; stroke-width: 1.033"/> 
<use href="#m3898667962" x="632.050484" y="28.909779" style="fill: #de8f05; fill-opacity: 0.75; stroke: #de8f05; stroke-opacity: 0.75; stroke-width: 1.033"/> 
<use href="#m3898667962" x="635.693419" y="27.931406" style="fill: #de8f05; fill-opacity: 0.75; stroke: #de8f05; stroke-opacity: 0.75; stroke-width: 1.033"/> 
<use href="#m3898667962" x="639.336354" y="27.052067" style="fill: #de8f05; fill-opacity: 0.75; stroke: #de8f05; stroke-opacity: 0.75; stroke-width: 1.033"/> 
<use href="#m3898667962" x="642.979289" y="26.259791" style="fill: #de8f05; fill-opacity: 0.75; stroke: #de8f05; stroke-opacity: 0.75; stroke-width: 1.033"/> 
<use href="#m3898667962" x="646.622224" y="25.557219" style="fill: #de8f05; fill-opacity: 0.75; stroke: #de8f05; stroke-opacity: 0.75; stroke-width: 1.033"/> 
</g> 
</g> 
<g id="line2d_34"> 
<g clip-path="url(#pb8ad8e4391)"> 
<use href="#m56142252ae" x="485.637277" y="107.266149" style="fill: #f0461e; stroke: #f0461e; stroke-width: 1.033; stroke-linejoin: miter"/> 
</g> 
</g> 
<g id="line2d_35"> 
<path d="M 485.637277 225.4 L 485.637277 16.47 " clip-path="url(#pb8ad8e4391)" style="fill: none; stroke-dasharray: 5.73315,2.4792; stroke-dashoffset: 0; stroke: #808080; stroke-width: 1.5495"/> 
</g> 
<g id="line2d_36"> 
<path d="M 379.3 107.266149 L 659.5 107.266149 " clip-path="url(#pb8ad8e4391)" style="fill: none; stroke-dasharray: 5.73315,2.4792; stroke-dashoffset: 0; stroke: #808080; stroke-width: 1.5495"/> 
</g> 
<g id="line2d_37"> 
<path d="M 391.616764 215.666409 L 646.622224 25.557219 " clip-path="url(#pb8ad8e4391)" style="fill: none; stroke-dasharray: 7.6442,3.3056; stroke-dashoffset: 0; stroke: #3a77a5; stroke-opacity: 0.8; stroke-width: 2.066"/> 
</g> 
<g id="patch_9"> 
<path d="M 379.3 225.4 L 379.3 16.47 " style="fill: none; stroke: #000000; stroke-width: 0.8264; stroke-linejoin: miter; stroke-linecap: square"/> 
</g> 
<g id="patch_10"> 
<path d="M 659.5 225.4 L 659.5 16.47 " style="fill: none; stroke: #000000; stroke-width: 0.8264; stroke-linejoin: miter; stroke-linecap: square"/> 
</g> 
<g id="patch_11"> 
<path d="M 379.3 225.4 L 659.5 225.4 " style="fill: none; stroke: #000000; stroke-width: 0.8264; stroke-linejoin: miter; stroke-linecap: square"/> 
</g> 
<g id="patch_12"> 
<path d="M 379.3 16.47 L 659.5 16.47 " style="fill: none; stroke: #000000; stroke-width: 0.8264; stroke-linejoin: miter; stroke-linecap: square"/> 
</g> 
<g id="text_34"> 
<text style="font-family:&quot;Liberation Sans&quot;,sans-serif;font-size:10.929px;text-anchor:start" x="511.137823" y="126.277068" textLength="133.80" lengthAdjust="spacingAndGlyphs">(0.37±0.041,0.57±0.043)</text> 
</g> 
<g id="text_35"> 
<text style="font-family:&quot;Liberation Sans&quot;,sans-serif;font-size:13.115px;text-anchor:middle" x="519.4" y="10.272" textLength="115.89" lengthAdjust="spacingAndGlyphs">RNNCRF (Pairwise)</text> 
</g> 
<g id="legend_2"> 
<g id="patch_13"> 
<path d="M 429.342758 220.235 L 652.269 220.235 Q 654.335 220.235 654.335 218.169 L 654.335 173.714491 Q 654.335 171.648491 652.269 171.648491 L 429.342758 171.648491 Q 427.276758 171.648491 427.276758 173.714491 L 427.276758 218.169 Q 427.276758 220.235 429.342758 220.235 z 
" style="fill: #ffffff; opacity: 0.8; stroke: #cccccc; stroke-width: 1.033; stroke-linejoin: miter"/> 
</g> 
<g id="line2d_38"> 
<path d="M 431.408758 180.014177 L 441.738758 180.014177 L 452.068758 180.014177 " style="fill: none; stroke: #de8f05; stroke-opacity: 0.75; stroke-width: 1.033; stroke-linecap: square"/> 
<g> 
<use href="#m3898667962" x="441.738758" y="180.014177" style="fill: #de8f05; fill-opacity: 0.75; stroke: #de8f05; stroke-opacity: 0.75; stroke-width: 1.033"/> 
</g> 
</g> 
<g id="text_36"> 
<text style="font-family:&quot;Liberation Sans&quot;,sans-serif;font-size:10.929px;text-anchor:start" x="460.332758" y="183.629677" textLength="189.87" lengthAdjust="spacingAndGlyphs">Mean ROC (AUC = 0.6428 ± 0.0025)</text> 
</g> 
<g id="line2d_39"> 
<g> 
<use href="#m56142252ae" x="441.738758" y="195.17668" style="fill: #f0461e; stroke: #f0461e; stroke-width: 1.033; stroke-linejoin: miter"/> 
</g> 
</g> 
<g id="text_37"> 
<text style="font-family:&quot;Liberation Sans&quot;,sans-serif;font-size:10.929px;text-anchor:start" x="460.332758" y="198.79218" textLength="73.87" lengthAdjust="spacingAndGlyphs">Optimal cutoff</text> 
</g> 
<g id="line2d_40"> 
<path d="M 431.408758 210.339183 L 441.738758 210.339183 L 452.068758 210.339183 " style="fill: none; stroke-dasharray: 7.6442,3.3056; stroke-dashoffset: 0; stroke: #3a77a5; stroke-opacity: 0.8; stroke-width: 2.066"/> 
</g> 
<g id="text_38"> 
<text style="font-family:&quot;Liberation Sans&quot;,sans-serif;font-size:10.929px;text-anchor:start" x="460.332758" y="213.954683" textLength="38.67" lengthAdjust="spacingAndGlyphs">Chance</text> 
</g> 
</g> 
</g> 
<g id="axes_3"> 
<g id="patch_14"> 
<path d="M 37.53 492.76 L 318.45 492.76 L 318.45 284.06 L 37.53 284.06 z 
" style="fill: #ffffff"/> 
</g> 
<g id="matplotlib.axis_5"> 
<g id="xtick_13"> 
<g id="line2d_41"> 
<g> 
<use href="#m2a7deeeb55" x="50.459052" y="492.76" style="stroke: #000000; stroke-width: 0.8264"/> 
</g> 
</g> 
<g id="text_39"> 
<text style="font-family:&quot;Liberation Sans&quot;,sans-serif;font-size:10.929px;text-anchor:middle" x="50.459052" y="507.840186" textLength="16.43" lengthAdjust="spacingAndGlyphs">0.0</text> 
</g> 
</g> 
<g id="xtick_14"> 
<g id="line2d_42"> 
<g> 
<use href="#m2a7deeeb55" x="101.461231" y="492.76" style="stroke: #000000; stroke-width: 0.8264"/> 
</g> 
</g> 
<g id="text_40"> 
<text style="font-family:&quot;Liberation Sans&quot;,sans-serif;font-size:10.929px;text-anchor:middle" x="101.461231" y="507.840186" textLength="16.43" lengthAdjust="spacingAndGlyphs">0.2</text> 
</g> 
</g> 
<g id="xtick_15"> 
<g id="line2d_43"> 
<g> 
<use href="#m2a7deeeb55" x="152.46341" y="492.76" style="stroke: #000000; stroke-width: 0.8264"/> 
</g> 
</g> 
<g id="text_41"> 
<text style="font-family:&quot;Liberation Sans&quot;,sans-serif;font-size:10.929px;text-anchor:middle" x="152.46341" y="507.840186" textLength="16.43" lengthAdjust="spacingAndGlyphs">0.4</text> 
</g> 
</g> 
<g id="xtick_16"> 
<g id="line2d_44"> 
<g> 
<use href="#m2a7deeeb55" x="203.465588" y="492.76" style="stroke: #000000; stroke-width: 0.8264"/> 
</g> 
</g> 
<g id="text_42"> 
<text style="font-family:&quot;Liberation Sans&quot;,sans-serif;font-size:10.929px;text-anchor:middle" x="203.465588" y="507.840186" textLength="16.43" lengthAdjust="spacingAndGlyphs">0.6</text> 
</g> 
</g> 
<g id="xtick_17"> 
<g id="line2d_45"> 
<g> 
<use href="#m2a7deeeb55" x="254.467767" y="492.76" style="stroke: #000000; stroke-width: 0.8264"/> 
</g> 
</g> 
<g id="text_43"> 
<text style="font-family:&quot;Liberation Sans&quot;,sans-serif;font-size:10.929px;text-anchor:middle" x="254.467767" y="507.840186" textLength="16.43" lengthAdjust="spacingAndGlyphs">0.8</text> 
</g> 
</g> 
<g id="xtick_18"> 
<g id="line2d_46"> 
<g> 
<use href="#m2a7deeeb55" x="305.469946" y="492.76" style="stroke: #000000; stroke-width: 0.8264"/> 
</g> 
</g> 
<g id="text_44"> 
<text style="font-family:&quot;Liberation Sans&quot;,sans-serif;font-size:10.929px;text-anchor:middle" x="305.469946" y="507.840186" textLength="16.43" lengthAdjust="spacingAndGlyphs">1.0</text> 
</g> 
</g> 
<g id="text_45"> 
<text style="font-family:&quot;Liberation Sans&quot;,sans-serif;font-size:10.929px;text-anchor:middle" x="177.99" y="521.969689" textLength="96.01" lengthAdjust="spacingAndGlyphs">False Positive Rate</text> 
</g> 
</g> 
<g id="matplotlib.axis_6"> 
<g id="ytick_13"> 
<g id="line2d_47"> 
<g> 
<use href="#m3db1927b41" x="37.53" y="483.451516" style="stroke: #000000; stroke-width: 0.8264"/> 
</g> 
</g> 
<g id="text_46"> 
<text style="font-family:&quot;Liberation Sans&quot;,sans-serif;font-size:10.929px;text-anchor:end" x="30.299" y="487.376109" textLength="16.43" lengthAdjust="spacingAndGlyphs">0.0</text> 
</g> 
</g> 
<g id="ytick_14"> 
<g id="line2d_48"> 
<g> 
<use href="#m3db1927b41" x="37.53" y="445.457706" style="stroke: #000000; stroke-width: 0.8264"/> 
</g> 
</g> 
<g id="text_47"> 
<text style="font-family:&quot;Liberation Sans&quot;,sans-serif;font-size:10.929px;text-anchor:end" x="30.299" y="449.382299" textLength="16.43" lengthAdjust="spacingAndGlyphs">0.2</text> 
</g> 
</g> 
<g id="ytick_15"> 
<g id="line2d_49"> 
<g> 
<use href="#m3db1927b41" x="37.53" y="407.463896" style="stroke: #000000; stroke-width: 0.8264"/> 
</g> 
</g> 
<g id="text_48"> 
<text style="font-family:&quot;Liberation Sans&quot;,sans-serif;font-size:10.929px;text-anchor:end" x="30.299" y="411.388489" textLength="16.43" lengthAdjust="spacingAndGlyphs">0.4</text> 
</g> 
</g> 
<g id="ytick_16"> 
<g id="line2d_50"> 
<g> 
<use href="#m3db1927b41" x="37.53" y="369.470086" style="stroke: #000000; stroke-width: 0.8264"/> 
</g> 
</g> 
<g id="text_49"> 
<text style="font-family:&quot;Liberation Sans&quot;,sans-serif;font-size:10.929px;text-anchor:end" x="30.299" y="373.394679" textLength="16.43" lengthAdjust="spacingAndGlyphs">0.6</text> 
</g> 
</g> 
<g id="ytick_17"> 
<g id="line2d_51"> 
<g> 
<use href="#m3db1927b41" x="37.53" y="331.476275" style="stroke: #000000; stroke-width: 0.8264"/> 
</g> 
</g> 
<g id="text_50"> 
<text style="font-family:&quot;Liberation Sans&quot;,sans-serif;font-size:10.929px;text-anchor:end" x="30.299" y="335.400868" textLength="16.43" lengthAdjust="spacingAndGlyphs">0.8</text> 
</g> 
</g> 
<g id="ytick_18"> 
<g id="line2d_52"> 
<g> 
<use href="#m3db1927b41" x="37.53" y="293.482465" style="stroke: #000000; stroke-width: 0.8264"/> 
</g> 
</g> 
<g id="text_51"> 
<text style="font-family:&quot;Liberation Sans&quot;,sans-serif;font-size:10.929px;text-anchor:end" x="30.299" y="297.407058" textLength="16.43" lengthAdjust="spacingAndGlyphs">1.0</text> 
</g> 
</g> 
<g id="text_52"> 
<text style="font-family:&quot;Liberation Sans&quot;,sans-serif;font-size:10.929px;text-anchor:middle" x="7.590755" y="388.41" transform="rotate(-90 7.590755 388.41)" textLength="92.02" lengthAdjust="spacingAndGlyphs">True Positive Rate</text> 
</g> 
</g> 
<g id="line2d_53"> 
<path d="M 50.459052 483.451516 L 54.102065 475.260442 L 57.745078 468.387344 L 61.388091 462.538593 L 65.031103 457.172112 L 68.674116 452.288094 L 72.317129 447.761326 L 75.960142 443.403623 L 79.603154 439.015648 L 83.246167 434.566909 L 86.88918 430.121336 L 90.532193 425.743441 L 94.175205 421.497733 L 97.818218 417.448725 L 101.461231 413.660928 L 105.104244 410.123828 L 108.747256 406.760796 L 112.390269 403.540118 L 116.033282 400.430083 L 119.676295 397.398981 L 123.319308 394.415102 L 126.96232 391.446738 L 130.605333 388.477954 L 134.248346 385.52443 L 137.891359 382.590395 L 141.534371 379.679747 L 145.177384 376.796382 L 148.820397 373.944197 L 152.46341 371.127089 L 156.106422 368.348955 L 159.749435 365.613692 L 163.392448 362.925197 L 167.035461 360.287367 L 170.678473 357.704099 L 174.321486 355.17929 L 177.964499 352.716837 L 181.607512 350.306075 L 185.250524 347.925089 L 188.893537 345.575775 L 192.53655 343.260443 L 196.179563 340.981403 L 199.822575 338.740967 L 203.465588 336.541446 L 207.108601 334.385149 L 210.751614 332.274388 L 214.394627 330.211474 L 218.037639 328.198717 L 221.680652 326.238428 L 225.323665 324.332918 L 228.966678 322.484498 L 232.60969 320.682772 L 236.252703 318.908333 L 239.895716 317.163146 L 243.538729 315.449542 L 247.181741 313.769854 L 250.824754 312.126414 L 254.467767 310.521553 L 258.11078 308.957605 L 261.753792 307.4369 L 265.396805 305.961772 L 269.039818 304.534552 L 272.682831 303.157572 L 276.325843 301.833164 L 279.968856 300.563661 L 283.611869 299.365839 L 287.254882 298.253952 L 290.897894 297.208528 L 294.540907 296.2096 L 298.18392 295.248004 L 301.826933 294.339706 L 305.469946 293.482465 " clip-path="url(#p4486cd3914)" style="fill: none; stroke: #029e73; stroke-opacity: 0.75; stroke-width: 1.033; stroke-linecap: square"/> 
<defs> 
<path id="m4864f01f19" d="M 0 3.099 C 0.821864 3.099 1.610178 2.77247 2.191324 2.191324 C 2.77247 1.610178 3.099 0.821864 3.099 0 C 3.099 -0.821864 2.77247 -1.610178 2.191324 -2.191324 C 1.610178 -2.77247 0.821864 -3.099 0 -3.099 C -0.821864 -3.099 -1.610178 -2.77247 -2.191324 -2.191324 C -2.77247 -1.610178 -3.099 -0.821864 -3.099 0 C -3.099 0.821864 -2.77247 1.610178 -2.191324 2.191324 C -1.610178 2.77247 -0.821864 3.099 0 3.099 z 
" style="stroke: #029e73; stroke-opacity: 0.75; stroke-width: 1.033"/> 
</defs> 
<g clip-path="url(#p4486cd3914)"> 
<use href="#m4864f01f19" x="50.459052" y="483.451516" style="fill: #029e73; fill-opacity: 0.75; stroke: #029e73; stroke-opacity: 0.75; stroke-width: 1.033"/> 
<use href="#m4864f01f19" x="54.102065" y="475.260442" style="fill: #029e73; fill-opacity: 0.75; stroke: #029e73; stroke-opacity: 0.75; stroke-width: 1.033"/> 
<use href="#m4864f01f19" x="57.745078" y="468.387344" style="fill: #029e73; fill-opacity: 0.75; stroke: #029e73; stroke-opacity: 0.75; stroke-width: 1.033"/> 
<use href="#m4864f01f19" x="61.388091" y="462.538593" style="fill: #029e73; fill-opacity: 0.75; stroke: #029e73; stroke-opacity: 0.75; stroke-width: 1.033"/> 
<use href="#m4864f01f19" x="65.031103" y="457.172112" style="fill: #029e73; fill-opacity: 0.75; stroke: #029e73; stroke-opacity: 0.75; stroke-width: 1.033"/> 
<use href="#m4864f01f19" x="68.674116" y="452.288094" style="fill: #029e73; fill-opacity: 0.75; stroke: #029e73; stroke-opacity: 0.75; stroke-width: 1.033"/> 
<use href="#m4864f01f19" x="72.317129" y="447.761326" style="fill: #029e73; fill-opacity: 0.75; stroke: #029e73; stroke-opacity: 0.75; stroke-width: 1.033"/> 
<use href="#m4864f01f19" x="75.960142" y="443.403623" style="fill: #029e73; fill-opacity: 0.75; stroke: #029e73; stroke-opacity: 0.75; stroke-width: 1.033"/> 
<use href="#m4864f01f19" x="79.603154" y="439.015648" style="fill: #029e73; fill-opacity: 0.75; stroke: #029e73; stroke-opacity: 0.75; stroke-width: 1.033"/> 
<use href="#m4864f01f19" x="83.246167" y="434.566909" style="fill: #029e73; fill-opacity: 0.75; stroke: #029e73; stroke-opacity: 0.75; stroke-width: 1.033"/> 
<use href="#m4864f01f19" x="86.88918" y="430.121336" style="fill: #029e73; fill-opacity: 0.75; stroke: #029e73; stroke-opacity: 0.75; stroke-width: 1.033"/> 
<use href="#m4864f01f19" x="90.532193" y="425.743441" style="fill: #029e73; fill-opacity: 0.75; stroke: #029e73; stroke-opacity: 0.75; stroke-width: 1.033"/> 
<use href="#m4864f01f19" x="94.175205" y="421.497733" style="fill: #029e73; fill-opacity: 0.75; stroke: #029e73; stroke-opacity: 0.75; stroke-width: 1.033"/> 
<use href="#m4864f01f19" x="97.818218" y="417.448725" style="fill: #029e73; fill-opacity: 0.75; stroke: #029e73; stroke-opacity: 0.75; stroke-width: 1.033"/> 
<use href="#m4864f01f19" x="101.461231" y="413.660928" style="fill: #029e73; fill-opacity: 0.75; stroke: #029e73; stroke-opacity: 0.75; stroke-width: 1.033"/> 
<use href="#m4864f01f19" x="105.104244" y="410.123828" style="fill: #029e73; fill-opacity: 0.75; stroke: #029e73; stroke-opacity: 0.75; stroke-width: 1.033"/> 
<use href="#m4864f01f19" x="108.747256" y="406.760796" style="fill: #029e73; fill-opacity: 0.75; stroke: #029e73; stroke-opacity: 0.75; stroke-width: 1.033"/> 
<use href="#m4864f01f19" x="112.390269" y="403.540118" style="fill: #029e73; fill-opacity: 0.75; stroke: #029e73; stroke-opacity: 0.75; stroke-width: 1.033"/> 
<use href="#m4864f01f19" x="116.033282" y="400.430083" style="fill: #029e73; fill-opacity: 0.75; stroke: #029e73; stroke-opacity: 0.75; stroke-width: 1.033"/> 
<use href="#m4864f01f19" x="119.676295" y="397.398981" style="fill: #029e73; fill-opacity: 0.75; stroke: #029e73; stroke-opacity: 0.75; stroke-width: 1.033"/> 
<use href="#m4864f01f19" x="123.319308" y="394.415102" style="fill: #029e73; fill-opacity: 0.75; stroke: #029e73; stroke-opacity: 0.75; stroke-width: 1.033"/> 
<use href="#m4864f01f19" x="126.96232" y="391.446738" style="fill: #029e73; fill-opacity: 0.75; stroke: #029e73; stroke-opacity: 0.75; stroke-width: 1.033"/> 
<use href="#m4864f01f19" x="130.605333" y="388.477954" style="fill: #029e73; fill-opacity: 0.75; stroke: #029e73; stroke-opacity: 0.75; stroke-width: 1.033"/> 
<use href="#m4864f01f19" x="134.248346" y="385.52443" style="fill: #029e73; fill-opacity: 0.75; stroke: #029e73; stroke-opacity: 0.75; stroke-width: 1.033"/> 
<use href="#m4864f01f19" x="137.891359" y="382.590395" style="fill: #029e73; fill-opacity: 0.75; stroke: #029e73; stroke-opacity: 0.75; stroke-width: 1.033"/> 
<use href="#m4864f01f19" x="141.534371" y="379.679747" style="fill: #029e73; fill-opacity: 0.75; stroke: #029e73; stroke-opacity: 0.75; stroke-width: 1.033"/> 
<use href="#m4864f01f19" x="145.177384" y="376.796382" style="fill: #029e73; fill-opacity: 0.75; stroke: #029e73; stroke-opacity: 0.75; stroke-width: 1.033"/> 
<use href="#m4864f01f19" x="148.820397" y="373.944197" style="fill: #029e73; fill-opacity: 0.75; stroke: #029e73; stroke-opacity: 0.75; stroke-width: 1.033"/> 
<use href="#m4864f01f19" x="152.46341" y="371.127089" style="fill: #029e73; fill-opacity: 0.75; stroke: #029e73; stroke-opacity: 0.75; stroke-width: 1.033"/> 
<use href="#m4864f01f19" x="156.106422" y="368.348955" style="fill: #029e73; fill-opacity: 0.75; stroke: #029e73; stroke-opacity: 0.75; stroke-width: 1.033"/> 
<use href="#m4864f01f19" x="159.749435" y="365.613692" style="fill: #029e73; fill-opacity: 0.75; stroke: #029e73; stroke-opacity: 0.75; stroke-width: 1.033"/> 
<use href="#m4864f01f19" x="163.392448" y="362.925197" style="fill: #029e73; fill-opacity: 0.75; stroke: #029e73; stroke-opacity: 0.75; stroke-width: 1.033"/> 
<use href="#m4864f01f19" x="167.035461" y="360.287367" style="fill: #029e73; fill-opacity: 0.75; stroke: #029e73; stroke-opacity: 0.75; stroke-width: 1.033"/> 
<use href="#m4864f01f19" x="170.678473" y="357.704099" style="fill: #029e73; fill-opacity: 0.75; stroke: #029e73; stroke-opacity: 0.75; stroke-width: 1.033"/> 
<use href="#m4864f01f19" x="174.321486" y="355.17929" style="fill: #029e73; fill-opacity: 0.75; stroke: #029e73; stroke-opacity: 0.75; stroke-width: 1.033"/> 
<use href="#m4864f01f19" x="177.964499" y="352.716837" style="fill: #029e73; fill-opacity: 0.75; stroke: #029e73; stroke-opacity: 0.75; stroke-width: 1.033"/> 
<use href="#m4864f01f19" x="181.607512" y="350.306075" style="fill: #029e73; fill-opacity: 0.75; stroke: #029e73; stroke-opacity: 0.75; stroke-width: 1.033"/> 
<use href="#m4864f01f19" x="185.250524" y="347.925089" style="fill: #029e73; fill-opacity: 0.75; stroke: #029e73; stroke-opacity: 0.75; stroke-width: 1.033"/> 
<use href="#m4864f01f19" x="188.893537" y="345.575775" style="fill: #029e73; fill-opacity: 0.75; stroke: #029e73; stroke-opacity: 0.75; stroke-width: 1.033"/> 
<use href="#m4864f01f19" x="192.53655" y="343.260443" style="fill: #029e73; fill-opacity: 0.75; stroke: #029e73; stroke-opacity: 0.75; stroke-width: 1.033"/> 
<use href="#m4864f01f19" x="196.179563" y="340.981403" style="fill: #029e73; fill-opacity: 0.75; stroke: #029e73; stroke-opacity: 0.75; stroke-width: 1.033"/> 
<use href="#m4864f01f19" x="199.822575" y="338.740967" style="fill: #029e73; fill-opacity: 0.75; stroke: #029e73; stroke-opacity: 0.75; stroke-width: 1.033"/> 
<use href="#m4864f01f19" x="203.465588" y="336.541446" style="fill: #029e73; fill-opacity: 0.75; stroke: #029e73; stroke-opacity: 0.75; stroke-width: 1.033"/> 
<use href="#m4864f01f19" x="207.108601" y="334.385149" style="fill: #029e73; fill-opacity: 0.75; stroke: #029e73; stroke-opacity: 0.75; stroke-width: 1.033"/> 
<use href="#m4864f01f19" x="210.751614" y="332.274388" style="fill: #029e73; fill-opacity: 0.75; stroke: #029e73; stroke-opacity: 0.75; stroke-width: 1.033"/> 
<use href="#m4864f01f19" x="214.394627" y="330.211474" style="fill: #029e73; fill-opacity: 0.75; stroke: #029e73; stroke-opacity: 0.75; stroke-width: 1.033"/> 
<use href="#m4864f01f19" x="218.037639" y="328.198717" style="fill: #029e73; fill-opacity: 0.75; stroke: #029e73; stroke-opacity: 0.75; stroke-width: 1.033"/> 
<use href="#m4864f01f19" x="221.680652" y="326.238428" style="fill: #029e73; fill-opacity: 0.75; stroke: #029e73; stroke-opacity: 0.75; stroke-width: 1.033"/> 
<use href="#m4864f01f19" x="225.323665" y="324.332918" style="fill: #029e73; fill-opacity: 0.75; stroke: #029e73; stroke-opacity: 0.75; stroke-width: 1.033"/> 
<use href="#m4864f01f19" x="228.966678" y="322.484498" style="fill: #029e73; fill-opacity: 0.75; stroke: #029e73; stroke-opacity: 0.75; stroke-width: 1.033"/> 
<use href="#m4864f01f19" x="232.60969" y="320.682772" style="fill: #029e73; fill-opacity: 0.75; stroke: #029e73; stroke-opacity: 0.75; stroke-width: 1.033"/> 
<use href="#m4864f01f19" x="236.252703" y="318.908333" style="fill: #029e73; fill-opacity: 0.75; stroke: #029e73; stroke-opacity: 0.75; stroke-width: 1.033"/> 
<use href="#m4864f01f19" x="239.895716" y="317.163146" style="fill: #029e73; fill-opacity: 0.75; stroke: #029e73; stroke-opacity: 0.75; stroke-width: 1.033"/> 
<use href="#m4864f01f19" x="243.538729" y="315.449542" style="fill: #029e73; fill-opacity: 0.75; stroke: #029e73; stroke-opacity: 0.75; stroke-width: 1.033"/> 
<use href="#m4864f01f19" x="247.181741" y="313.769854" style="fill: #029e73; fill-opacity: 0.75; stroke: #029e73; stroke-opacity: 0.75; stroke-width: 1.033"/> 
<use href="#m4864f01f19" x="250.824754" y="312.126414" style="fill: #029e73; fill-opacity: 0.75; stroke: #029e73; stroke-opacity: 0.75; stroke-width: 1.033"/> 
<use href="#m4864f01f19" x="254.467767" y="310.521553" style="fill: #029e73; fill-opacity: 0.75; stroke: #029e73; stroke-opacity: 0.75; stroke-width: 1.033"/> 
<use href="#m4864f01f19" x="258.11078" y="308.957605" style="fill: #029e73; fill-opacity: 0.75; stroke: #029e73; stroke-opacity: 0.75; stroke-width: 1.033"/> 
<use href="#m4864f01f19" x="261.753792" y="307.4369" style="fill: #029e73; fill-opacity: 0.75; stroke: #029e73; stroke-opacity: 0.75; stroke-width: 1.033"/> 
<use href="#m4864f01f19" x="265.396805" y="305.961772" style="fill: #029e73; fill-opacity: 0.75; stroke: #029e73; stroke-opacity: 0.75; stroke-width: 1.033"/> 
<use href="#m4864f01f19" x="269.039818" y="304.534552" style="fill: #029e73; fill-opacity: 0.75; stroke: #029e73; stroke-opacity: 0.75; stroke-width: 1.033"/> 
<use href="#m4864f01f19" x="272.682831" y="303.157572" style="fill: #029e73; fill-opacity: 0.75; stroke: #029e73; stroke-opacity: 0.75; stroke-width: 1.033"/> 
<use href="#m4864f01f19" x="276.325843" y="301.833164" style="fill: #029e73; fill-opacity: 0.75; stroke: #029e73; stroke-opacity: 0.75; stroke-width: 1.033"/> 
<use href="#m4864f01f19" x="279.968856" y="300.563661" style="fill: #029e73; fill-opacity: 0.75; stroke: #029e73; stroke-opacity: 0.75; stroke-width: 1.033"/> 
<use href="#m4864f01f19" x="283.611869" y="299.365839" style="fill: #029e73; fill-opacity: 0.75; stroke: #029e73; stroke-opacity: 0.75; stroke-width: 1.033"/> 
<use href="#m4864f01f19" x="287.254882" y="298.253952" style="fill: #029e73; fill-opacity: 0.75; stroke: #029e73; stroke-opacity: 0.75; stroke-width: 1.033"/> 
<use href="#m4864f01f19" x="290.897894" y="297.208528" style="fill: #029e73; fill-opacity: 0.75; stroke: #029e73; stroke-opacity: 0.75; stroke-width: 1.033"/> 
<use href="#m4864f01f19" x="294.540907" y="296.2096" style="fill: #029e73; fill-opacity: 0.75; stroke: #029e73; stroke-opacity: 0.75; stroke-width: 1.033"/> 
<use href="#m4864f01f19" x="298.18392" y="295.248004" style="fill: #029e73; fill-opacity: 0.75; stroke: #029e73; stroke-opacity: 0.75; stroke-width: 1.033"/> 
<use href="#m4864f01f19" x="301.826933" y="294.339706" style="fill: #029e73; fill-opacity: 0.75; stroke: #029e73; stroke-opacity: 0.75; stroke-width: 1.033"/> 
<use href="#m4864f01f19" x="305.469946" y="293.482465" style="fill: #029e73; fill-opacity: 0.75; stroke: #029e73; stroke-opacity: 0.75; stroke-width: 1.033"/> 
</g> 
</g> 
<g id="line2d_54"> 
<g clip-path="url(#p4486cd3914)"> 
<use href="#m56142252ae" x="146.547157" y="374.675238" style="fill: #f0461e; stroke: #f0461e; stroke-width: 1.033; stroke-linejoin: miter"/> 
</g> 
</g> 
<g id="line2d_55"> 
<path d="M 146.547157 492.76 L 146.547157 284.06 " clip-path="url(#p4486cd3914)" style="fill: none; stroke-dasharray: 5.73315,2.4792; stroke-dashoffset: 0; stroke: #808080; stroke-width: 1.5495"/> 
</g> 
<g id="line2d_56"> 
<path d="M 37.53 374.675238 L 318.45 374.675238 " clip-path="url(#p4486cd3914)" style="fill: none; stroke-dasharray: 5.73315,2.4792; stroke-dashoffset: 0; stroke: #808080; stroke-width: 1.5495"/> 
</g> 
<g id="line2d_57"> 
<path d="M 50.459052 483.451516 L 305.469946 293.482465 " clip-path="url(#p4486cd3914)" style="fill: none; stroke-dasharray: 7.6442,3.3056; stroke-dashoffset: 0; stroke: #3a77a5; stroke-opacity: 0.8; stroke-width: 2.066"/> 
</g> 
<g id="patch_15"> 
<path d="M 37.53 492.76 L 37.53 284.06 " style="fill: none; stroke: #000000; stroke-width: 0.8264; stroke-linejoin: miter; stroke-linecap: square"/> 
</g> 
<g id="patch_16"> 
<path d="M 318.45 492.76 L 318.45 284.06 " style="fill: none; stroke: #000000; stroke-width: 0.8264; stroke-linejoin: miter; stroke-linecap: square"/> 
</g> 
<g id="patch_17"> 
<path d="M 37.53 492.76 L 318.45 492.76 " style="fill: none; stroke: #000000; stroke-width: 0.8264; stroke-linejoin: miter; stroke-linecap: square"/> 
</g> 
<g id="patch_18"> 
<path d="M 37.53 284.06 L 318.45 284.06 " style="fill: none; stroke: #000000; stroke-width: 0.8264; stroke-linejoin: miter; stroke-linecap: square"/> 
</g> 
<g id="text_53"> 
<text style="font-family:&quot;Liberation Sans&quot;,sans-serif;font-size:10.929px;text-anchor:start" x="172.048246" y="393.672143" textLength="133.80" lengthAdjust="spacingAndGlyphs">(0.38±0.035,0.57±0.036)</text> 
</g> 
<g id="text_54"> 
<text style="font-family:&quot;Liberation Sans&quot;,sans-serif;font-size:13.115px;text-anchor:middle" x="177.99" y="277.862" textLength="83.04" lengthAdjust="spacingAndGlyphs">RNN (LastHF)</text> 
</g> 
<g id="legend_3"> 
<g id="patch_19"> 
<path d="M 88.292758 487.595 L 311.219 487.595 Q 313.285 487.595 313.285 485.529 L 313.285 441.074491 Q 313.285 439.008491 311.219 439.008491 L 88.292758 439.008491 Q 86.226758 439.008491 86.226758 441.074491 L 86.226758 485.529 Q 86.226758 487.595 88.292758 487.595 z 
" style="fill: #ffffff; opacity: 0.8; stroke: #cccccc; stroke-width: 1.033; stroke-linejoin: miter"/> 
</g> 
<g id="line2d_58"> 
<path d="M 90.358758 447.374177 L 100.688758 447.374177 L 111.018758 447.374177 " style="fill: none; stroke: #029e73; stroke-opacity: 0.75; stroke-width: 1.033; stroke-linecap: square"/> 
<g> 
<use href="#m4864f01f19" x="100.688758" y="447.374177" style="fill: #029e73; fill-opacity: 0.75; stroke: #029e73; stroke-opacity: 0.75; stroke-width: 1.033"/> 
</g> 
</g> 
<g id="text_55"> 
<text style="font-family:&quot;Liberation Sans&quot;,sans-serif;font-size:10.929px;text-anchor:start" x="119.282758" y="450.989677" textLength="189.87" lengthAdjust="spacingAndGlyphs">Mean ROC (AUC = 0.6359 ± 0.0028)</text> 
</g> 
<g id="line2d_59"> 
<g> 
<use href="#m56142252ae" x="100.688758" y="462.53668" style="fill: #f0461e; stroke: #f0461e; stroke-width: 1.033; stroke-linejoin: miter"/> 
</g> 
</g> 
<g id="text_56"> 
<text style="font-family:&quot;Liberation Sans&quot;,sans-serif;font-size:10.929px;text-anchor:start" x="119.282758" y="466.15218" textLength="73.87" lengthAdjust="spacingAndGlyphs">Optimal cutoff</text> 
</g> 
<g id="line2d_60"> 
<path d="M 90.358758 477.699183 L 100.688758 477.699183 L 111.018758 477.699183 " style="fill: none; stroke-dasharray: 7.6442,3.3056; stroke-dashoffset: 0; stroke: #3a77a5; stroke-opacity: 0.8; stroke-width: 2.066"/> 
</g> 
<g id="text_57"> 
<text style="font-family:&quot;Liberation Sans&quot;,sans-serif;font-size:10.929px;text-anchor:start" x="119.282758" y="481.314683" textLength="38.67" lengthAdjust="spacingAndGlyphs">Chance</text> 
</g> 
</g> 
</g> 
<g id="axes_4"> 
<g id="patch_20"> 
<path d="M 379.3 492.76 L 659.5 492.76 L 659.5 284.06 L 379.3 284.06 z 
" style="fill: #ffffff"/> 
</g> 
<g id="matplotlib.axis_7"> 
<g id="xtick_19"> 
<g id="line2d_61"> 
<g> 
<use href="#m2a7deeeb55" x="391.616764" y="492.76" style="stroke: #000000; stroke-width: 0.8264"/> 
</g> 
</g> 
<g id="text_58"> 
<text style="font-family:&quot;Liberation Sans&quot;,sans-serif;font-size:10.929px;text-anchor:middle" x="391.616764" y="507.840186" textLength="16.43" lengthAdjust="spacingAndGlyphs">0.0</text> 
</g> 
</g> 
<g id="xtick_20"> 
<g id="line2d_62"> 
<g> 
<use href="#m2a7deeeb55" x="442.617856" y="492.76" style="stroke: #000000; stroke-width: 0.8264"/> 
</g> 
</g> 
<g id="text_59"> 
<text style="font-family:&quot;Liberation Sans&quot;,sans-serif;font-size:10.929px;text-anchor:middle" x="442.617856" y="507.840186" textLength="16.43" lengthAdjust="spacingAndGlyphs">0.2</text> 
</g> 
</g> 
<g id="xtick_21"> 
<g id="line2d_63"> 
<g> 
<use href="#m2a7deeeb55" x="493.618948" y="492.76" style="stroke: #000000; stroke-width: 0.8264"/> 
</g> 
</g> 
<g id="text_60"> 
<text style="font-family:&quot;Liberation Sans&quot;,sans-serif;font-size:10.929px;text-anchor:middle" x="493.618948" y="507.840186" textLength="16.43" lengthAdjust="spacingAndGlyphs">0.4</text> 
</g> 
</g> 
<g id="xtick_22"> 
<g id="line2d_64"> 
<g> 
<use href="#m2a7deeeb55" x="544.62004" y="492.76" style="stroke: #000000; stroke-width: 0.8264"/> 
</g> 
</g> 
<g id="text_61"> 
<text style="font-family:&quot;Liberation Sans&quot;,sans-serif;font-size:10.929px;text-anchor:middle" x="544.62004" y="507.840186" textLength="16.43" lengthAdjust="spacingAndGlyphs">0.6</text> 
</g> 
</g> 
<g id="xtick_23"> 
<g id="line2d_65"> 
<g> 
<use href="#m2a7deeeb55" x="595.621132" y="492.76" style="stroke: #000000; stroke-width: 0.8264"/> 
</g> 
</g> 
<g id="text_62"> 
<text style="font-family:&quot;Liberation Sans&quot;,sans-serif;font-size:10.929px;text-anchor:middle" x="595.621132" y="507.840186" textLength="16.43" lengthAdjust="spacingAndGlyphs">0.8</text> 
</g> 
</g> 
<g id="xtick_24"> 
<g id="line2d_66"> 
<g> 
<use href="#m2a7deeeb55" x="646.622224" y="492.76" style="stroke: #000000; stroke-width: 0.8264"/> 
</g> 
</g> 
<g id="text_63"> 
<text style="font-family:&quot;Liberation Sans&quot;,sans-serif;font-size:10.929px;text-anchor:middle" x="646.622224" y="507.840186" textLength="16.43" lengthAdjust="spacingAndGlyphs">1.0</text> 
</g> 
</g> 
<g id="text_64"> 
<text style="font-family:&quot;Liberation Sans&quot;,sans-serif;font-size:10.929px;text-anchor:middle" x="519.4" y="521.969689" textLength="96.01" lengthAdjust="spacingAndGlyphs">False Positive Rate</text> 
</g> 
</g> 
<g id="matplotlib.axis_8"> 
<g id="ytick_19"> 
<g id="line2d_67"> 
<g> 
<use href="#m3db1927b41" x="379.3" y="483.451516" style="stroke: #000000; stroke-width: 0.8264"/> 
</g> 
</g> 
<g id="text_65"> 
<text style="font-family:&quot;Liberation Sans&quot;,sans-serif;font-size:10.929px;text-anchor:end" x="372.069" y="487.376109" textLength="16.43" lengthAdjust="spacingAndGlyphs">0.0</text> 
</g> 
</g> 
<g id="ytick_20"> 
<g id="line2d_68"> 
<g> 
<use href="#m3db1927b41" x="379.3" y="445.457706" style="stroke: #000000; stroke-width: 0.8264"/> 
</g> 
</g> 
<g id="text_66"> 
<text style="font-family:&quot;Liberation Sans&quot;,sans-serif;font-size:10.929px;text-anchor:end" x="372.069" y="449.382299" textLength="16.43" lengthAdjust="spacingAndGlyphs">0.2</text> 
</g> 
</g> 
<g id="ytick_21"> 
<g id="line2d_69"> 
<g> 
<use href="#m3db1927b41" x="379.3" y="407.463896" style="stroke: #000000; stroke-width: 0.8264"/> 
</g> 
</g> 
<g id="text_67"> 
<text style="font-family:&quot;Liberation Sans&quot;,sans-serif;font-size:10.929px;text-anchor:end" x="372.069" y="411.388489" textLength="16.43" lengthAdjust="spacingAndGlyphs">0.4</text> 
</g> 
</g> 
<g id="ytick_22"> 
<g id="line2d_70"> 
<g> 
<use href="#m3db1927b41" x="379.3" y="369.470086" style="stroke: #000000; stroke-width: 0.8264"/> 
</g> 
</g> 
<g id="text_68"> 
<text style="font-family:&quot;Liberation Sans&quot;,sans-serif;font-size:10.929px;text-anchor:end" x="372.069" y="373.394679" textLength="16.43" lengthAdjust="spacingAndGlyphs">0.6</text> 
</g> 
</g> 
<g id="ytick_23"> 
<g id="line2d_71"> 
<g> 
<use href="#m3db1927b41" x="379.3" y="331.476275" style="stroke: #000000; stroke-width: 0.8264"/> 
</g> 
</g> 
<g id="text_69"> 
<text style="font-family:&quot;Liberation Sans&quot;,sans-serif;font-size:10.929px;text-anchor:end" x="372.069" y="335.400868" textLength="16.43" lengthAdjust="spacingAndGlyphs">0.8</text> 
</g> 
</g> 
<g id="ytick_24"> 
<g id="line2d_72"> 
<g> 
<use href="#m3db1927b41" x="379.3" y="293.482465" style="stroke: #000000; stroke-width: 0.8264"/> 
</g> 
</g> 
<g id="text_70"> 
<text style="font-family:&quot;Liberation Sans&quot;,sans-serif;font-size:10.929px;text-anchor:end" x="372.069" y="297.407058" textLength="16.43" lengthAdjust="spacingAndGlyphs">1.0</text> 
</g> 
</g> 
<g id="text_71"> 
<text style="font-family:&quot;Liberation Sans&quot;,sans-serif;font-size:10.929px;text-anchor:middle" x="349.360755" y="388.41" transform="rotate(-90 349.360755 388.41)" textLength="92.02" lengthAdjust="spacingAndGlyphs">True Positive Rate</text> 
</g> 
</g> 
<g id="line2d_73"> 
<path d="M 391.616764 483.451516 L 395.259699 474.683176 L 398.902634 468.92306 L 402.545569 463.17108 L 406.188504 458.017224 L 409.831439 453.636231 L 413.474375 449.174213 L 417.11731 444.70326 L 420.760245 440.353055 L 424.40318 436.004641 L 428.046115 431.689741 L 431.68905 427.441969 L 435.331986 423.294944 L 438.974921 419.28228 L 442.617856 415.437594 L 446.260791 411.768422 L 449.903726 408.223847 L 453.546661 404.791464 L 457.189596 401.461084 L 460.832532 398.222521 L 464.475467 395.065586 L 468.118402 391.980094 L 471.761337 388.948587 L 475.404272 385.956744 L 479.047207 383.005314 L 482.690142 380.09516 L 486.333078 377.227147 L 489.976013 374.402141 L 493.618948 371.621006 L 497.261883 368.884608 L 500.904818 366.193812 L 504.547753 363.549483 L 508.190689 360.952486 L 511.833624 358.403685 L 515.476559 355.903947 L 519.119494 353.454136 L 522.762429 351.046526 L 526.405364 348.669766 L 530.048299 346.325427 L 533.691235 344.015198 L 537.33417 341.740768 L 540.977105 339.503826 L 544.62004 337.30606 L 548.262975 335.149159 L 551.90591 333.034813 L 555.548845 330.96471 L 559.191781 328.940538 L 562.834716 326.963988 L 566.477651 325.036747 L 570.120586 323.160505 L 573.763521 321.325276 L 577.406456 319.515786 L 581.049392 317.734071 L 584.692327 315.982328 L 588.335262 314.262754 L 591.978197 312.577545 L 595.621132 310.928898 L 599.264067 309.31901 L 602.907002 307.750078 L 606.549938 306.224298 L 610.192873 304.743867 L 613.835808 303.310981 L 617.478743 301.927838 L 621.121678 300.596634 L 624.764613 299.319415 L 628.407548 298.107746 L 632.050484 296.979807 L 635.693419 295.953811 L 639.336354 295.036101 L 642.979289 294.211178 L 646.622224 293.482465 " clip-path="url(#p6d5fb98dcd)" style="fill: none; stroke: #d55e00; stroke-opacity: 0.75; stroke-width: 1.033; stroke-linecap: square"/> 
<defs> 
<path id="m82abea8178" d="M 0 3.099 C 0.821864 3.099 1.610178 2.77247 2.191324 2.191324 C 2.77247 1.610178 3.099 0.821864 3.099 0 C 3.099 -0.821864 2.77247 -1.610178 2.191324 -2.191324 C 1.610178 -2.77247 0.821864 -3.099 0 -3.099 C -0.821864 -3.099 -1.610178 -2.77247 -2.191324 -2.191324 C -2.77247 -1.610178 -3.099 -0.821864 -3.099 0 C -3.099 0.821864 -2.77247 1.610178 -2.191324 2.191324 C -1.610178 2.77247 -0.821864 3.099 0 3.099 z 
" style="stroke: #d55e00; stroke-opacity: 0.75; stroke-width: 1.033"/> 
</defs> 
<g clip-path="url(#p6d5fb98dcd)"> 
<use href="#m82abea8178" x="391.616764" y="483.451516" style="fill: #d55e00; fill-opacity: 0.75; stroke: #d55e00; stroke-opacity: 0.75; stroke-width: 1.033"/> 
<use href="#m82abea8178" x="395.259699" y="474.683176" style="fill: #d55e00; fill-opacity: 0.75; stroke: #d55e00; stroke-opacity: 0.75; stroke-width: 1.033"/> 
<use href="#m82abea8178" x="398.902634" y="468.92306" style="fill: #d55e00; fill-opacity: 0.75; stroke: #d55e00; stroke-opacity: 0.75; stroke-width: 1.033"/> 
<use href="#m82abea8178" x="402.545569" y="463.17108" style="fill: #d55e00; fill-opacity: 0.75; stroke: #d55e00; stroke-opacity: 0.75; stroke-width: 1.033"/> 
<use href="#m82abea8178" x="406.188504" y="458.017224" style="fill: #d55e00; fill-opacity: 0.75; stroke: #d55e00; stroke-opacity: 0.75; stroke-width: 1.033"/> 
<use href="#m82abea8178" x="409.831439" y="453.636231" style="fill: #d55e00; fill-opacity: 0.75; stroke: #d55e00; stroke-opacity: 0.75; stroke-width: 1.033"/> 
<use href="#m82abea8178" x="413.474375" y="449.174213" style="fill: #d55e00; fill-opacity: 0.75; stroke: #d55e00; stroke-opacity: 0.75; stroke-width: 1.033"/> 
<use href="#m82abea8178" x="417.11731" y="444.70326" style="fill: #d55e00; fill-opacity: 0.75; stroke: #d55e00; stroke-opacity: 0.75; stroke-width: 1.033"/> 
<use href="#m82abea8178" x="420.760245" y="440.353055" style="fill: #d55e00; fill-opacity: 0.75; stroke: #d55e00; stroke-opacity: 0.75; stroke-width: 1.033"/> 
<use href="#m82abea8178" x="424.40318" y="436.004641" style="fill: #d55e00; fill-opacity: 0.75; stroke: #d55e00; stroke-opacity: 0.75; stroke-width: 1.033"/> 
<use href="#m82abea8178" x="428.046115" y="431.689741" style="fill: #d55e00; fill-opacity: 0.75; stroke: #d55e00; stroke-opacity: 0.75; stroke-width: 1.033"/> 
<use href="#m82abea8178" x="431.68905" y="427.441969" style="fill: #d55e00; fill-opacity: 0.75; stroke: #d55e00; stroke-opacity: 0.75; stroke-width: 1.033"/> 
<use href="#m82abea8178" x="435.331986" y="423.294944" style="fill: #d55e00; fill-opacity: 0.75; stroke: #d55e00; stroke-opacity: 0.75; stroke-width: 1.033"/> 
<use href="#m82abea8178" x="438.974921" y="419.28228" style="fill: #d55e00; fill-opacity: 0.75; stroke: #d55e00; stroke-opacity: 0.75; stroke-width: 1.033"/> 
<use href="#m82abea8178" x="442.617856" y="415.437594" style="fill: #d55e00; fill-opacity: 0.75; stroke: #d55e00; stroke-opacity: 0.75; stroke-width: 1.033"/> 
<use href="#m82abea8178" x="446.260791" y="411.768422" style="fill: #d55e00; fill-opacity: 0.75; stroke: #d55e00; stroke-opacity: 0.75; stroke-width: 1.033"/> 
<use href="#m82abea8178" x="449.903726" y="408.223847" style="fill: #d55e00; fill-opacity: 0.75; stroke: #d55e00; stroke-opacity: 0.75; stroke-width: 1.033"/> 
<use href="#m82abea8178" x="453.546661" y="404.791464" style="fill: #d55e00; fill-opacity: 0.75; stroke: #d55e00; stroke-opacity: 0.75; stroke-width: 1.033"/> 
<use href="#m82abea8178" x="457.189596" y="401.461084" style="fill: #d55e00; fill-opacity: 0.75; stroke: #d55e00; stroke-opacity: 0.75; stroke-width: 1.033"/> 
<use href="#m82abea8178" x="460.832532" y="398.222521" style="fill: #d55e00; fill-opacity: 0.75; stroke: #d55e00; stroke-opacity: 0.75; stroke-width: 1.033"/> 
<use href="#m82abea8178" x="464.475467" y="395.065586" style="fill: #d55e00; fill-opacity: 0.75; stroke: #d55e00; stroke-opacity: 0.75; stroke-width: 1.033"/> 
<use href="#m82abea8178" x="468.118402" y="391.980094" style="fill: #d55e00; fill-opacity: 0.75; stroke: #d55e00; stroke-opacity: 0.75; stroke-width: 1.033"/> 
<use href="#m82abea8178" x="471.761337" y="388.948587" style="fill: #d55e00; fill-opacity: 0.75; stroke: #d55e00; stroke-opacity: 0.75; stroke-width: 1.033"/> 
<use href="#m82abea8178" x="475.404272" y="385.956744" style="fill: #d55e00; fill-opacity: 0.75; stroke: #d55e00; stroke-opacity: 0.75; stroke-width: 1.033"/> 
<use href="#m82abea8178" x="479.047207" y="383.005314" style="fill: #d55e00; fill-opacity: 0.75; stroke: #d55e00; stroke-opacity: 0.75; stroke-width: 1.033"/> 
<use href="#m82abea8178" x="482.690142" y="380.09516" style="fill: #d55e00; fill-opacity: 0.75; stroke: #d55e00; stroke-opacity: 0.75; stroke-width: 1.033"/> 
<use href="#m82abea8178" x="486.333078" y="377.227147" style="fill: #d55e00; fill-opacity: 0.75; stroke: #d55e00; stroke-opacity: 0.75; stroke-width: 1.033"/> 
<use href="#m82abea8178" x="489.976013" y="374.402141" style="fill: #d55e00; fill-opacity: 0.75; stroke: #d55e00; stroke-opacity: 0.75; stroke-width: 1.033"/> 
<use href="#m82abea8178" x="493.618948" y="371.621006" style="fill: #d55e00; fill-opacity: 0.75; stroke: #d55e00; stroke-opacity: 0.75; stroke-width: 1.033"/> 
<use href="#m82abea8178" x="497.261883" y="368.884608" style="fill: #d55e00; fill-opacity: 0.75; stroke: #d55e00; stroke-opacity: 0.75; stroke-width: 1.033"/> 
<use href="#m82abea8178" x="500.904818" y="366.193812" style="fill: #d55e00; fill-opacity: 0.75; stroke: #d55e00; stroke-opacity: 0.75; stroke-width: 1.033"/> 
<use href="#m82abea8178" x="504.547753" y="363.549483" style="fill: #d55e00; fill-opacity: 0.75; stroke: #d55e00; stroke-opacity: 0.75; stroke-width: 1.033"/> 
<use href="#m82abea8178" x="508.190689" y="360.952486" style="fill: #d55e00; fill-opacity: 0.75; stroke: #d55e00; stroke-opacity: 0.75; stroke-width: 1.033"/> 
<use href="#m82abea8178" x="511.833624" y="358.403685" style="fill: #d55e00; fill-opacity: 0.75; stroke: #d55e00; stroke-opacity: 0.75; stroke-width: 1.033"/> 
<use href="#m82abea8178" x="515.476559" y="355.903947" style="fill: #d55e00; fill-opacity: 0.75; stroke: #d55e00; stroke-opacity: 0.75; stroke-width: 1.033"/> 
<use href="#m82abea8178" x="519.119494" y="353.454136" style="fill: #d55e00; fill-opacity: 0.75; stroke: #d55e00; stroke-opacity: 0.75; stroke-width: 1.033"/> 
<use href="#m82abea8178" x="522.762429" y="351.046526" style="fill: #d55e00; fill-opacity: 0.75; stroke: #d55e00; stroke-opacity: 0.75; stroke-width: 1.033"/> 
<use href="#m82abea8178" x="526.405364" y="348.669766" style="fill: #d55e00; fill-opacity: 0.75; stroke: #d55e00; stroke-opacity: 0.75; stroke-width: 1.033"/> 
<use href="#m82abea8178" x="530.048299" y="346.325427" style="fill: #d55e00; fill-opacity: 0.75; stroke: #d55e00; stroke-opacity: 0.75; stroke-width: 1.033"/> 
<use href="#m82abea8178" x="533.691235" y="344.015198" style="fill: #d55e00; fill-opacity: 0.75; stroke: #d55e00; stroke-opacity: 0.75; stroke-width: 1.033"/> 
<use href="#m82abea8178" x="537.33417" y="341.740768" style="fill: #d55e00; fill-opacity: 0.75; stroke: #d55e00; stroke-opacity: 0.75; stroke-width: 1.033"/> 
<use href="#m82abea8178" x="540.977105" y="339.503826" style="fill: #d55e00; fill-opacity: 0.75; stroke: #d55e00; stroke-opacity: 0.75; stroke-width: 1.033"/> 
<use href="#m82abea8178" x="544.62004" y="337.30606" style="fill: #d55e00; fill-opacity: 0.75; stroke: #d55e00; stroke-opacity: 0.75; stroke-width: 1.033"/> 
<use href="#m82abea8178" x="548.262975" y="335.149159" style="fill: #d55e00; fill-opacity: 0.75; stroke: #d55e00; stroke-opacity: 0.75; stroke-width: 1.033"/> 
<use href="#m82abea8178" x="551.90591" y="333.034813" style="fill: #d55e00; fill-opacity: 0.75; stroke: #d55e00; stroke-opacity: 0.75; stroke-width: 1.033"/> 
<use href="#m82abea8178" x="555.548845" y="330.96471" style="fill: #d55e00; fill-opacity: 0.75; stroke: #d55e00; stroke-opacity: 0.75; stroke-width: 1.033"/> 
<use href="#m82abea8178" x="559.191781" y="328.940538" style="fill: #d55e00; fill-opacity: 0.75; stroke: #d55e00; stroke-opacity: 0.75; stroke-width: 1.033"/> 
<use href="#m82abea8178" x="562.834716" y="326.963988" style="fill: #d55e00; fill-opacity: 0.75; stroke: #d55e00; stroke-opacity: 0.75; stroke-width: 1.033"/> 
<use href="#m82abea8178" x="566.477651" y="325.036747" style="fill: #d55e00; fill-opacity: 0.75; stroke: #d55e00; stroke-opacity: 0.75; stroke-width: 1.033"/> 
<use href="#m82abea8178" x="570.120586" y="323.160505" style="fill: #d55e00; fill-opacity: 0.75; stroke: #d55e00; stroke-opacity: 0.75; stroke-width: 1.033"/> 
<use href="#m82abea8178" x="573.763521" y="321.325276" style="fill: #d55e00; fill-opacity: 0.75; stroke: #d55e00; stroke-opacity: 0.75; stroke-width: 1.033"/> 
<use href="#m82abea8178" x="577.406456" y="319.515786" style="fill: #d55e00; fill-opacity: 0.75; stroke: #d55e00; stroke-opacity: 0.75; stroke-width: 1.033"/> 
<use href="#m82abea8178" x="581.049392" y="317.734071" style="fill: #d55e00; fill-opacity: 0.75; stroke: #d55e00; stroke-opacity: 0.75; stroke-width: 1.033"/> 
<use href="#m82abea8178" x="584.692327" y="315.982328" style="fill: #d55e00; fill-opacity: 0.75; stroke: #d55e00; stroke-opacity: 0.75; stroke-width: 1.033"/> 
<use href="#m82abea8178" x="588.335262" y="314.262754" style="fill: #d55e00; fill-opacity: 0.75; stroke: #d55e00; stroke-opacity: 0.75; stroke-width: 1.033"/> 
<use href="#m82abea8178" x="591.978197" y="312.577545" style="fill: #d55e00; fill-opacity: 0.75; stroke: #d55e00; stroke-opacity: 0.75; stroke-width: 1.033"/> 
<use href="#m82abea8178" x="595.621132" y="310.928898" style="fill: #d55e00; fill-opacity: 0.75; stroke: #d55e00; stroke-opacity: 0.75; stroke-width: 1.033"/> 
<use href="#m82abea8178" x="599.264067" y="309.31901" style="fill: #d55e00; fill-opacity: 0.75; stroke: #d55e00; stroke-opacity: 0.75; stroke-width: 1.033"/> 
<use href="#m82abea8178" x="602.907002" y="307.750078" style="fill: #d55e00; fill-opacity: 0.75; stroke: #d55e00; stroke-opacity: 0.75; stroke-width: 1.033"/> 
<use href="#m82abea8178" x="606.549938" y="306.224298" style="fill: #d55e00; fill-opacity: 0.75; stroke: #d55e00; stroke-opacity: 0.75; stroke-width: 1.033"/> 
<use href="#m82abea8178" x="610.192873" y="304.743867" style="fill: #d55e00; fill-opacity: 0.75; stroke: #d55e00; stroke-opacity: 0.75; stroke-width: 1.033"/> 
<use href="#m82abea8178" x="613.835808" y="303.310981" style="fill: #d55e00; fill-opacity: 0.75; stroke: #d55e00; stroke-opacity: 0.75; stroke-width: 1.033"/> 
<use href="#m82abea8178" x="617.478743" y="301.927838" style="fill: #d55e00; fill-opacity: 0.75; stroke: #d55e00; stroke-opacity: 0.75; stroke-width: 1.033"/> 
<use href="#m82abea8178" x="621.121678" y="300.596634" style="fill: #d55e00; fill-opacity: 0.75; stroke: #d55e00; stroke-opacity: 0.75; stroke-width: 1.033"/> 
<use href="#m82abea8178" x="624.764613" y="299.319415" style="fill: #d55e00; fill-opacity: 0.75; stroke: #d55e00; stroke-opacity: 0.75; stroke-width: 1.033"/> 
<use href="#m82abea8178" x="628.407548" y="298.107746" style="fill: #d55e00; fill-opacity: 0.75; stroke: #d55e00; stroke-opacity: 0.75; stroke-width: 1.033"/> 
<use href="#m82abea8178" x="632.050484" y="296.979807" style="fill: #d55e00; fill-opacity: 0.75; stroke: #d55e00; stroke-opacity: 0.75; stroke-width: 1.033"/> 
<use href="#m82abea8178" x="635.693419" y="295.953811" style="fill: #d55e00; fill-opacity: 0.75; stroke: #d55e00; stroke-opacity: 0.75; stroke-width: 1.033"/> 
<use href="#m82abea8178" x="639.336354" y="295.036101" style="fill: #d55e00; fill-opacity: 0.75; stroke: #d55e00; stroke-opacity: 0.75; stroke-width: 1.033"/> 
<use href="#m82abea8178" x="642.979289" y="294.211178" style="fill: #d55e00; fill-opacity: 0.75; stroke: #d55e00; stroke-opacity: 0.75; stroke-width: 1.033"/> 
<use href="#m82abea8178" x="646.622224" y="293.482465" style="fill: #d55e00; fill-opacity: 0.75; stroke: #d55e00; stroke-opacity: 0.75; stroke-width: 1.033"/> 
</g> 
</g> 
<g id="line2d_74"> 
<g clip-path="url(#p6d5fb98dcd)"> 
<use href="#m56142252ae" x="494.460466" y="370.571906" style="fill: #f0461e; stroke: #f0461e; stroke-width: 1.033; stroke-linejoin: miter"/> 
</g> 
</g> 
<g id="line2d_75"> 
<path d="M 494.460466 492.76 L 494.460466 284.06 " clip-path="url(#p6d5fb98dcd)" style="fill: none; stroke-dasharray: 5.73315,2.4792; stroke-dashoffset: 0; stroke: #808080; stroke-width: 1.5495"/> 
</g> 
<g id="line2d_76"> 
<path d="M 379.3 370.571906 L 659.5 370.571906 " clip-path="url(#p6d5fb98dcd)" style="fill: none; stroke-dasharray: 5.73315,2.4792; stroke-dashoffset: 0; stroke: #808080; stroke-width: 1.5495"/> 
</g> 
<g id="line2d_77"> 
<path d="M 391.616764 483.451516 L 646.622224 293.482465 " clip-path="url(#p6d5fb98dcd)" style="fill: none; stroke-dasharray: 7.6442,3.3056; stroke-dashoffset: 0; stroke: #3a77a5; stroke-opacity: 0.8; stroke-width: 2.066"/> 
</g> 
<g id="patch_21"> 
<path d="M 379.3 492.76 L 379.3 284.06 " style="fill: none; stroke: #000000; stroke-width: 0.8264; stroke-linejoin: miter; stroke-linecap: square"/> 
</g> 
<g id="patch_22"> 
<path d="M 659.5 492.76 L 659.5 284.06 " style="fill: none; stroke: #000000; stroke-width: 0.8264; stroke-linejoin: miter; stroke-linecap: square"/> 
</g> 
<g id="patch_23"> 
<path d="M 379.3 492.76 L 659.5 492.76 " style="fill: none; stroke: #000000; stroke-width: 0.8264; stroke-linejoin: miter; stroke-linecap: square"/> 
</g> 
<g id="patch_24"> 
<path d="M 379.3 284.06 L 659.5 284.06 " style="fill: none; stroke: #000000; stroke-width: 0.8264; stroke-linejoin: miter; stroke-linecap: square"/> 
</g> 
<g id="text_72"> 
<text style="font-family:&quot;Liberation Sans&quot;,sans-serif;font-size:10.929px;text-anchor:start" x="519.961012" y="389.568811" textLength="133.80" lengthAdjust="spacingAndGlyphs">(0.40±0.023,0.59±0.021)</text> 
</g> 
<g id="text_73"> 
<text style="font-family:&quot;Liberation Sans&quot;,sans-serif;font-size:13.115px;text-anchor:middle" x="519.4" y="277.862" textLength="62.10" lengthAdjust="spacingAndGlyphs">CNN-Wide</text> 
</g> 
<g id="legend_4"> 
<g id="patch_25"> 
<path d="M 429.342758 487.595 L 652.269 487.595 Q 654.335 487.595 654.335 485.529 L 654.335 441.074491 Q 654.335 439.008491 652.269 439.008491 L 429.342758 439.008491 Q 427.276758 439.008491 427.276758 441.074491 L 427.276758 485.529 Q 427.276758 487.595 429.342758 487.595 z 
" style="fill: #ffffff; opacity: 0.8; stroke: #cccccc; stroke-width: 1.033; stroke-linejoin: miter"/> 
</g> 
<g id="line2d_78"> 
<path d="M 431.408758 447.374177 L 441.738758 447.374177 L 452.068758 447.374177 " style="fill: none; stroke: #d55e00; stroke-opacity: 0.75; stroke-width: 1.033; stroke-linecap: square"/> 
<g> 
<use href="#m82abea8178" x="441.738758" y="447.374177" style="fill: #d55e00; fill-opacity: 0.75; stroke: #d55e00; stroke-opacity: 0.75; stroke-width: 1.033"/> 
</g> 
</g> 
<g id="text_74"> 
<text style="font-family:&quot;Liberation Sans&quot;,sans-serif;font-size:10.929px;text-anchor:start" x="460.332758" y="450.989677" textLength="189.87" lengthAdjust="spacingAndGlyphs">Mean ROC (AUC = 0.6324 ± 0.0019)</text> 
</g> 
<g id="line2d_79"> 
<g> 
<use href="#m56142252ae" x="441.738758" y="462.53668" style="fill: #f0461e; stroke: #f0461e; stroke-width: 1.033; stroke-linejoin: miter"/> 
</g> 
</g> 
<g id="text_75"> 
<text style="font-family:&quot;Liberation Sans&quot;,sans-serif;font-size:10.929px;text-anchor:start" x="460.332758" y="466.15218" textLength="73.87" lengthAdjust="spacingAndGlyphs">Optimal cutoff</text> 
</g> 
<g id="line2d_80"> 
<path d="M 431.408758 477.699183 L 441.738758 477.699183 L 452.068758 477.699183 " style="fill: none; stroke-dasharray: 7.6442,3.3056; stroke-dashoffset: 0; stroke: #3a77a5; stroke-opacity: 0.8; stroke-width: 2.066"/> 
</g> 
<g id="text_76"> 
<text style="font-family:&quot;Liberation Sans&quot;,sans-serif;font-size:10.929px;text-anchor:start" x="460.332758" y="481.314683" textLength="38.67" lengthAdjust="spacingAndGlyphs">Chance</text> 
</g> 
</g> 
</g> 
<g id="axes_5"> 
<g id="patch_26"> 
<path d="M 37.53 760.45 L 318.45 760.45 L 318.45 551.5 L 37.53 551.5 z 
" style="fill: #ffffff"/> 
</g> 
<g id="matplotlib.axis_9"> 
<g id="xtick_25"> 
<g id="line2d_81"> 
<g> 
<use href="#m2a7deeeb55" x="50.459052" y="760.45" style="stroke: #000000; stroke-width: 0.8264"/> 
</g> 
</g> 
<g id="text_77"> 
<text style="font-family:&quot;Liberation Sans&quot;,sans-serif;font-size:10.929px;text-anchor:middle" x="50.459052" y="775.530186" textLength="16.43" lengthAdjust="spacingAndGlyphs">0.0</text> 
</g> 
</g> 
<g id="xtick_26"> 
<g id="line2d_82"> 
<g> 
<use href="#m2a7deeeb55" x="101.461231" y="760.45" style="stroke: #000000; stroke-width: 0.8264"/> 
</g> 
</g> 
<g id="text_78"> 
<text style="font-family:&quot;Liberation Sans&quot;,sans-serif;font-size:10.929px;text-anchor:middle" x="101.461231" y="775.530186" textLength="16.43" lengthAdjust="spacingAndGlyphs">0.2</text> 
</g> 
</g> 
<g id="xtick_27"> 
<g id="line2d_83"> 
<g> 
<use href="#m2a7deeeb55" x="152.46341" y="760.45" style="stroke: #000000; stroke-width: 0.8264"/> 
</g> 
</g> 
<g id="text_79"> 
<text style="font-family:&quot;Liberation Sans&quot;,sans-serif;font-size:10.929px;text-anchor:middle" x="152.46341" y="775.530186" textLength="16.43" lengthAdjust="spacingAndGlyphs">0.4</text> 
</g> 
</g> 
<g id="xtick_28"> 
<g id="line2d_84"> 
<g> 
<use href="#m2a7deeeb55" x="203.465588" y="760.45" style="stroke: #000000; stroke-width: 0.8264"/> 
</g> 
</g> 
<g id="text_80"> 
<text style="font-family:&quot;Liberation Sans&quot;,sans-serif;font-size:10.929px;text-anchor:middle" x="203.465588" y="775.530186" textLength="16.43" lengthAdjust="spacingAndGlyphs">0.6</text> 
</g> 
</g> 
<g id="xtick_29"> 
<g id="line2d_85"> 
<g> 
<use href="#m2a7deeeb55" x="254.467767" y="760.45" style="stroke: #000000; stroke-width: 0.8264"/> 
</g> 
</g> 
<g id="text_81"> 
<text style="font-family:&quot;Liberation Sans&quot;,sans-serif;font-size:10.929px;text-anchor:middle" x="254.467767" y="775.530186" textLength="16.43" lengthAdjust="spacingAndGlyphs">0.8</text> 
</g> 
</g> 
<g id="xtick_30"> 
<g id="line2d_86"> 
<g> 
<use href="#m2a7deeeb55" x="305.469946" y="760.45" style="stroke: #000000; stroke-width: 0.8264"/> 
</g> 
</g> 
<g id="text_82"> 
<text style="font-family:&quot;Liberation Sans&quot;,sans-serif;font-size:10.929px;text-anchor:middle" x="305.469946" y="775.530186" textLength="16.43" lengthAdjust="spacingAndGlyphs">1.0</text> 
</g> 
</g> 
<g id="text_83"> 
<text style="font-family:&quot;Liberation Sans&quot;,sans-serif;font-size:10.929px;text-anchor:middle" x="177.99" y="789.659689" textLength="96.01" lengthAdjust="spacingAndGlyphs">False Positive Rate</text> 
</g> 
</g> 
<g id="matplotlib.axis_10"> 
<g id="ytick_25"> 
<g id="line2d_87"> 
<g> 
<use href="#m3db1927b41" x="37.53" y="751.401583" style="stroke: #000000; stroke-width: 0.8264"/> 
</g> 
</g> 
<g id="text_84"> 
<text style="font-family:&quot;Liberation Sans&quot;,sans-serif;font-size:10.929px;text-anchor:end" x="30.299" y="755.326176" textLength="16.43" lengthAdjust="spacingAndGlyphs">0.0</text> 
</g> 
</g> 
<g id="ytick_26"> 
<g id="line2d_88"> 
<g> 
<use href="#m3db1927b41" x="37.53" y="713.383024" style="stroke: #000000; stroke-width: 0.8264"/> 
</g> 
</g> 
<g id="text_85"> 
<text style="font-family:&quot;Liberation Sans&quot;,sans-serif;font-size:10.929px;text-anchor:end" x="30.299" y="717.307617" textLength="16.43" lengthAdjust="spacingAndGlyphs">0.2</text> 
</g> 
</g> 
<g id="ytick_27"> 
<g id="line2d_89"> 
<g> 
<use href="#m3db1927b41" x="37.53" y="675.364465" style="stroke: #000000; stroke-width: 0.8264"/> 
</g> 
</g> 
<g id="text_86"> 
<text style="font-family:&quot;Liberation Sans&quot;,sans-serif;font-size:10.929px;text-anchor:end" x="30.299" y="679.289058" textLength="16.43" lengthAdjust="spacingAndGlyphs">0.4</text> 
</g> 
</g> 
<g id="ytick_28"> 
<g id="line2d_90"> 
<g> 
<use href="#m3db1927b41" x="37.53" y="637.345906" style="stroke: #000000; stroke-width: 0.8264"/> 
</g> 
</g> 
<g id="text_87"> 
<text style="font-family:&quot;Liberation Sans&quot;,sans-serif;font-size:10.929px;text-anchor:end" x="30.299" y="641.270499" textLength="16.43" lengthAdjust="spacingAndGlyphs">0.6</text> 
</g> 
</g> 
<g id="ytick_29"> 
<g id="line2d_91"> 
<g> 
<use href="#m3db1927b41" x="37.53" y="599.327347" style="stroke: #000000; stroke-width: 0.8264"/> 
</g> 
</g> 
<g id="text_88"> 
<text style="font-family:&quot;Liberation Sans&quot;,sans-serif;font-size:10.929px;text-anchor:end" x="30.299" y="603.25194" textLength="16.43" lengthAdjust="spacingAndGlyphs">0.8</text> 
</g> 
</g> 
<g id="ytick_30"> 
<g id="line2d_92"> 
<g> 
<use href="#m3db1927b41" x="37.53" y="561.308788" style="stroke: #000000; stroke-width: 0.8264"/> 
</g> 
</g> 
<g id="text_89"> 
<text style="font-family:&quot;Liberation Sans&quot;,sans-serif;font-size:10.929px;text-anchor:end" x="30.299" y="565.233381" textLength="16.43" lengthAdjust="spacingAndGlyphs">1.0</text> 
</g> 
</g> 
<g id="text_90"> 
<text style="font-family:&quot;Liberation Sans&quot;,sans-serif;font-size:10.929px;text-anchor:middle" x="7.590755" y="655.975" transform="rotate(-90 7.590755 655.975)" textLength="92.02" lengthAdjust="spacingAndGlyphs">True Positive Rate</text> 
</g> 
</g> 
<g id="line2d_93"> 
<path d="M 50.459052 751.401583 L 54.102065 744.028923 L 57.745078 737.415194 L 61.388091 732.07691 L 65.031103 726.712042 L 68.674116 722.069618 L 72.317129 717.660437 L 75.960142 713.402903 L 79.603154 709.249233 L 83.246167 705.143063 L 86.88918 701.091588 L 90.532193 697.103005 L 94.175205 693.185511 L 97.818218 689.347302 L 101.461231 685.596575 L 105.104244 681.910113 L 108.747256 678.26827 L 112.390269 674.686225 L 116.033282 671.179163 L 119.676295 667.762264 L 123.319308 664.450712 L 126.96232 661.25969 L 130.605333 658.175584 L 134.248346 655.15406 L 137.891359 652.191598 L 141.534371 649.285449 L 145.177384 646.432866 L 148.820397 643.631099 L 152.46341 640.877402 L 156.106422 638.169025 L 159.749435 635.50322 L 163.392448 632.877239 L 167.035461 630.288334 L 170.678473 627.733757 L 174.321486 625.210758 L 177.964499 622.716591 L 181.607512 620.244103 L 185.250524 617.787071 L 188.893537 615.349659 L 192.53655 612.936187 L 196.179563 610.550973 L 199.822575 608.198337 L 203.465588 605.882596 L 207.108601 603.608071 L 210.751614 601.379079 L 214.394627 599.19994 L 218.037639 597.074972 L 221.680652 595.008494 L 225.323665 593.004825 L 228.966678 591.068283 L 232.60969 589.18575 L 236.252703 587.330842 L 239.895716 585.505847 L 243.538729 583.713549 L 247.181741 581.956734 L 250.824754 580.238189 L 254.467767 578.560698 L 258.11078 576.927047 L 261.753792 575.340023 L 265.396805 573.802411 L 269.039818 572.316996 L 272.682831 570.886564 L 276.325843 569.513901 L 279.968856 568.201793 L 283.611869 566.955516 L 287.254882 565.785764 L 290.897894 564.701736 L 294.540907 563.712582 L 298.18392 562.821474 L 301.826933 562.01934 L 305.469946 561.308788 " clip-path="url(#pd3f62446b9)" style="fill: none; stroke: #cc78bc; stroke-opacity: 0.75; stroke-width: 1.033; stroke-linecap: square"/> 
<defs> 
<path id="m24a4fdad94" d="M 0 3.099 C 0.821864 3.099 1.610178 2.77247 2.191324 2.191324 C 2.77247 1.610178 3.099 0.821864 3.099 0 C 3.099 -0.821864 2.77247 -1.610178 2.191324 -2.191324 C 1.610178 -2.77247 0.821864 -3.099 0 -3.099 C -0.821864 -3.099 -1.610178 -2.77247 -2.191324 -2.191324 C -2.77247 -1.610178 -3.099 -0.821864 -3.099 0 C -3.099 0.821864 -2.77247 1.610178 -2.191324 2.191324 C -1.610178 2.77247 -0.821864 3.099 0 3.099 z 
" style="stroke: #cc78bc; stroke-opacity: 0.75; stroke-width: 1.033"/> 
</defs> 
<g clip-path="url(#pd3f62446b9)"> 
<use href="#m24a4fdad94" x="50.459052" y="751.401583" style="fill: #cc78bc; fill-opacity: 0.75; stroke: #cc78bc; stroke-opacity: 0.75; stroke-width: 1.033"/> 
<use href="#m24a4fdad94" x="54.102065" y="744.028923" style="fill: #cc78bc; fill-opacity: 0.75; stroke: #cc78bc; stroke-opacity: 0.75; stroke-width: 1.033"/> 
<use href="#m24a4fdad94" x="57.745078" y="737.415194" style="fill: #cc78bc; fill-opacity: 0.75; stroke: #cc78bc; stroke-opacity: 0.75; stroke-width: 1.033"/> 
<use href="#m24a4fdad94" x="61.388091" y="732.07691" style="fill: #cc78bc; fill-opacity: 0.75; stroke: #cc78bc; stroke-opacity: 0.75; stroke-width: 1.033"/> 
<use href="#m24a4fdad94" x="65.031103" y="726.712042" style="fill: #cc78bc; fill-opacity: 0.75; stroke: #cc78bc; stroke-opacity: 0.75; stroke-width: 1.033"/> 
<use href="#m24a4fdad94" x="68.674116" y="722.069618" style="fill: #cc78bc; fill-opacity: 0.75; stroke: #cc78bc; stroke-opacity: 0.75; stroke-width: 1.033"/> 
<use href="#m24a4fdad94" x="72.317129" y="717.660437" style="fill: #cc78bc; fill-opacity: 0.75; stroke: #cc78bc; stroke-opacity: 0.75; stroke-width: 1.033"/> 
<use href="#m24a4fdad94" x="75.960142" y="713.402903" style="fill: #cc78bc; fill-opacity: 0.75; stroke: #cc78bc; stroke-opacity: 0.75; stroke-width: 1.033"/> 
<use href="#m24a4fdad94" x="79.603154" y="709.249233" style="fill: #cc78bc; fill-opacity: 0.75; stroke: #cc78bc; stroke-opacity: 0.75; stroke-width: 1.033"/> 
<use href="#m24a4fdad94" x="83.246167" y="705.143063" style="fill: #cc78bc; fill-opacity: 0.75; stroke: #cc78bc; stroke-opacity: 0.75; stroke-width: 1.033"/> 
<use href="#m24a4fdad94" x="86.88918" y="701.091588" style="fill: #cc78bc; fill-opacity: 0.75; stroke: #cc78bc; stroke-opacity: 0.75; stroke-width: 1.033"/> 
<use href="#m24a4fdad94" x="90.532193" y="697.103005" style="fill: #cc78bc; fill-opacity: 0.75; stroke: #cc78bc; stroke-opacity: 0.75; stroke-width: 1.033"/> 
<use href="#m24a4fdad94" x="94.175205" y="693.185511" style="fill: #cc78bc; fill-opacity: 0.75; stroke: #cc78bc; stroke-opacity: 0.75; stroke-width: 1.033"/> 
<use href="#m24a4fdad94" x="97.818218" y="689.347302" style="fill: #cc78bc; fill-opacity: 0.75; stroke: #cc78bc; stroke-opacity: 0.75; stroke-width: 1.033"/> 
<use href="#m24a4fdad94" x="101.461231" y="685.596575" style="fill: #cc78bc; fill-opacity: 0.75; stroke: #cc78bc; stroke-opacity: 0.75; stroke-width: 1.033"/> 
<use href="#m24a4fdad94" x="105.104244" y="681.910113" style="fill: #cc78bc; fill-opacity: 0.75; stroke: #cc78bc; stroke-opacity: 0.75; stroke-width: 1.033"/> 
<use href="#m24a4fdad94" x="108.747256" y="678.26827" style="fill: #cc78bc; fill-opacity: 0.75; stroke: #cc78bc; stroke-opacity: 0.75; stroke-width: 1.033"/> 
<use href="#m24a4fdad94" x="112.390269" y="674.686225" style="fill: #cc78bc; fill-opacity: 0.75; stroke: #cc78bc; stroke-opacity: 0.75; stroke-width: 1.033"/> 
<use href="#m24a4fdad94" x="116.033282" y="671.179163" style="fill: #cc78bc; fill-opacity: 0.75; stroke: #cc78bc; stroke-opacity: 0.75; stroke-width: 1.033"/> 
<use href="#m24a4fdad94" x="119.676295" y="667.762264" style="fill: #cc78bc; fill-opacity: 0.75; stroke: #cc78bc; stroke-opacity: 0.75; stroke-width: 1.033"/> 
<use href="#m24a4fdad94" x="123.319308" y="664.450712" style="fill: #cc78bc; fill-opacity: 0.75; stroke: #cc78bc; stroke-opacity: 0.75; stroke-width: 1.033"/> 
<use href="#m24a4fdad94" x="126.96232" y="661.25969" style="fill: #cc78bc; fill-opacity: 0.75; stroke: #cc78bc; stroke-opacity: 0.75; stroke-width: 1.033"/> 
<use href="#m24a4fdad94" x="130.605333" y="658.175584" style="fill: #cc78bc; fill-opacity: 0.75; stroke: #cc78bc; stroke-opacity: 0.75; stroke-width: 1.033"/> 
<use href="#m24a4fdad94" x="134.248346" y="655.15406" style="fill: #cc78bc; fill-opacity: 0.75; stroke: #cc78bc; stroke-opacity: 0.75; stroke-width: 1.033"/> 
<use href="#m24a4fdad94" x="137.891359" y="652.191598" style="fill: #cc78bc; fill-opacity: 0.75; stroke: #cc78bc; stroke-opacity: 0.75; stroke-width: 1.033"/> 
<use href="#m24a4fdad94" x="141.534371" y="649.285449" style="fill: #cc78bc; fill-opacity: 0.75; stroke: #cc78bc; stroke-opacity: 0.75; stroke-width: 1.033"/> 
<use href="#m24a4fdad94" x="145.177384" y="646.432866" style="fill: #cc78bc; fill-opacity: 0.75; stroke: #cc78bc; stroke-opacity: 0.75; stroke-width: 1.033"/> 
<use href="#m24a4fdad94" x="148.820397" y="643.631099" style="fill: #cc78bc; fill-opacity: 0.75; stroke: #cc78bc; stroke-opacity: 0.75; stroke-width: 1.033"/> 
<use href="#m24a4fdad94" x="152.46341" y="640.877402" style="fill: #cc78bc; fill-opacity: 0.75; stroke: #cc78bc; stroke-opacity: 0.75; stroke-width: 1.033"/> 
<use href="#m24a4fdad94" x="156.106422" y="638.169025" style="fill: #cc78bc; fill-opacity: 0.75; stroke: #cc78bc; stroke-opacity: 0.75; stroke-width: 1.033"/> 
<use href="#m24a4fdad94" x="159.749435" y="635.50322" style="fill: #cc78bc; fill-opacity: 0.75; stroke: #cc78bc; stroke-opacity: 0.75; stroke-width: 1.033"/> 
<use href="#m24a4fdad94" x="163.392448" y="632.877239" style="fill: #cc78bc; fill-opacity: 0.75; stroke: #cc78bc; stroke-opacity: 0.75; stroke-width: 1.033"/> 
<use href="#m24a4fdad94" x="167.035461" y="630.288334" style="fill: #cc78bc; fill-opacity: 0.75; stroke: #cc78bc; stroke-opacity: 0.75; stroke-width: 1.033"/> 
<use href="#m24a4fdad94" x="170.678473" y="627.733757" style="fill: #cc78bc; fill-opacity: 0.75; stroke: #cc78bc; stroke-opacity: 0.75; stroke-width: 1.033"/> 
<use href="#m24a4fdad94" x="174.321486" y="625.210758" style="fill: #cc78bc; fill-opacity: 0.75; stroke: #cc78bc; stroke-opacity: 0.75; stroke-width: 1.033"/> 
<use href="#m24a4fdad94" x="177.964499" y="622.716591" style="fill: #cc78bc; fill-opacity: 0.75; stroke: #cc78bc; stroke-opacity: 0.75; stroke-width: 1.033"/> 
<use href="#m24a4fdad94" x="181.607512" y="620.244103" style="fill: #cc78bc; fill-opacity: 0.75; stroke: #cc78bc; stroke-opacity: 0.75; stroke-width: 1.033"/> 
<use href="#m24a4fdad94" x="185.250524" y="617.787071" style="fill: #cc78bc; fill-opacity: 0.75; stroke: #cc78bc; stroke-opacity: 0.75; stroke-width: 1.033"/> 
<use href="#m24a4fdad94" x="188.893537" y="615.349659" style="fill: #cc78bc; fill-opacity: 0.75; stroke: #cc78bc; stroke-opacity: 0.75; stroke-width: 1.033"/> 
<use href="#m24a4fdad94" x="192.53655" y="612.936187" style="fill: #cc78bc; fill-opacity: 0.75; stroke: #cc78bc; stroke-opacity: 0.75; stroke-width: 1.033"/> 
<use href="#m24a4fdad94" x="196.179563" y="610.550973" style="fill: #cc78bc; fill-opacity: 0.75; stroke: #cc78bc; stroke-opacity: 0.75; stroke-width: 1.033"/> 
<use href="#m24a4fdad94" x="199.822575" y="608.198337" style="fill: #cc78bc; fill-opacity: 0.75; stroke: #cc78bc; stroke-opacity: 0.75; stroke-width: 1.033"/> 
<use href="#m24a4fdad94" x="203.465588" y="605.882596" style="fill: #cc78bc; fill-opacity: 0.75; stroke: #cc78bc; stroke-opacity: 0.75; stroke-width: 1.033"/> 
<use href="#m24a4fdad94" x="207.108601" y="603.608071" style="fill: #cc78bc; fill-opacity: 0.75; stroke: #cc78bc; stroke-opacity: 0.75; stroke-width: 1.033"/> 
<use href="#m24a4fdad94" x="210.751614" y="601.379079" style="fill: #cc78bc; fill-opacity: 0.75; stroke: #cc78bc; stroke-opacity: 0.75; stroke-width: 1.033"/> 
<use href="#m24a4fdad94" x="214.394627" y="599.19994" style="fill: #cc78bc; fill-opacity: 0.75; stroke: #cc78bc; stroke-opacity: 0.75; stroke-width: 1.033"/> 
<use href="#m24a4fdad94" x="218.037639" y="597.074972" style="fill: #cc78bc; fill-opacity: 0.75; stroke: #cc78bc; stroke-opacity: 0.75; stroke-width: 1.033"/> 
<use href="#m24a4fdad94" x="221.680652" y="595.008494" style="fill: #cc78bc; fill-opacity: 0.75; stroke: #cc78bc; stroke-opacity: 0.75; stroke-width: 1.033"/> 
<use href="#m24a4fdad94" x="225.323665" y="593.004825" style="fill: #cc78bc; fill-opacity: 0.75; stroke: #cc78bc; stroke-opacity: 0.75; stroke-width: 1.033"/> 
<use href="#m24a4fdad94" x="228.966678" y="591.068283" style="fill: #cc78bc; fill-opacity: 0.75; stroke: #cc78bc; stroke-opacity: 0.75; stroke-width: 1.033"/> 
<use href="#m24a4fdad94" x="232.60969" y="589.18575" style="fill: #cc78bc; fill-opacity: 0.75; stroke: #cc78bc; stroke-opacity: 0.75; stroke-width: 1.033"/> 
<use href="#m24a4fdad94" x="236.252703" y="587.330842" style="fill: #cc78bc; fill-opacity: 0.75; stroke: #cc78bc; stroke-opacity: 0.75; stroke-width: 1.033"/> 
<use href="#m24a4fdad94" x="239.895716" y="585.505847" style="fill: #cc78bc; fill-opacity: 0.75; stroke: #cc78bc; stroke-opacity: 0.75; stroke-width: 1.033"/> 
<use href="#m24a4fdad94" x="243.538729" y="583.713549" style="fill: #cc78bc; fill-opacity: 0.75; stroke: #cc78bc; stroke-opacity: 0.75; stroke-width: 1.033"/> 
<use href="#m24a4fdad94" x="247.181741" y="581.956734" style="fill: #cc78bc; fill-opacity: 0.75; stroke: #cc78bc; stroke-opacity: 0.75; stroke-width: 1.033"/> 
<use href="#m24a4fdad94" x="250.824754" y="580.238189" style="fill: #cc78bc; fill-opacity: 0.75; stroke: #cc78bc; stroke-opacity: 0.75; stroke-width: 1.033"/> 
<use href="#m24a4fdad94" x="254.467767" y="578.560698" style="fill: #cc78bc; fill-opacity: 0.75; stroke: #cc78bc; stroke-opacity: 0.75; stroke-width: 1.033"/> 
<use href="#m24a4fdad94" x="258.11078" y="576.927047" style="fill: #cc78bc; fill-opacity: 0.75; stroke: #cc78bc; stroke-opacity: 0.75; stroke-width: 1.033"/> 
<use href="#m24a4fdad94" x="261.753792" y="575.340023" style="fill: #cc78bc; fill-opacity: 0.75; stroke: #cc78bc; stroke-opacity: 0.75; stroke-width: 1.033"/> 
<use href="#m24a4fdad94" x="265.396805" y="573.802411" style="fill: #cc78bc; fill-opacity: 0.75; stroke: #cc78bc; stroke-opacity: 0.75; stroke-width: 1.033"/> 
<use href="#m24a4fdad94" x="269.039818" y="572.316996" style="fill: #cc78bc; fill-opacity: 0.75; stroke: #cc78bc; stroke-opacity: 0.75; stroke-width: 1.033"/> 
<use href="#m24a4fdad94" x="272.682831" y="570.886564" style="fill: #cc78bc; fill-opacity: 0.75; stroke: #cc78bc; stroke-opacity: 0.75; stroke-width: 1.033"/> 
<use href="#m24a4fdad94" x="276.325843" y="569.513901" style="fill: #cc78bc; fill-opacity: 0.75; stroke: #cc78bc; stroke-opacity: 0.75; stroke-width: 1.033"/> 
<use href="#m24a4fdad94" x="279.968856" y="568.201793" style="fill: #cc78bc; fill-opacity: 0.75; stroke: #cc78bc; stroke-opacity: 0.75; stroke-width: 1.033"/> 
<use href="#m24a4fdad94" x="283.611869" y="566.955516" style="fill: #cc78bc; fill-opacity: 0.75; stroke: #cc78bc; stroke-opacity: 0.75; stroke-width: 1.033"/> 
<use href="#m24a4fdad94" x="287.254882" y="565.785764" style="fill: #cc78bc; fill-opacity: 0.75; stroke: #cc78bc; stroke-opacity: 0.75; stroke-width: 1.033"/> 
<use href="#m24a4fdad94" x="290.897894" y="564.701736" style="fill: #cc78bc; fill-opacity: 0.75; stroke: #cc78bc; stroke-opacity: 0.75; stroke-width: 1.033"/> 
<use href="#m24a4fdad94" x="294.540907" y="563.712582" style="fill: #cc78bc; fill-opacity: 0.75; stroke: #cc78bc; stroke-opacity: 0.75; stroke-width: 1.033"/> 
<use href="#m24a4fdad94" x="298.18392" y="562.821474" style="fill: #cc78bc; fill-opacity: 0.75; stroke: #cc78bc; stroke-opacity: 0.75; stroke-width: 1.033"/> 
<use href="#m24a4fdad94" x="301.826933" y="562.01934" style="fill: #cc78bc; fill-opacity: 0.75; stroke: #cc78bc; stroke-opacity: 0.75; stroke-width: 1.033"/> 
<use href="#m24a4fdad94" x="305.469946" y="561.308788" style="fill: #cc78bc; fill-opacity: 0.75; stroke: #cc78bc; stroke-opacity: 0.75; stroke-width: 1.033"/> 
</g> 
</g> 
<g id="line2d_94"> 
<g clip-path="url(#pd3f62446b9)"> 
<use href="#m56142252ae" x="157.946144" y="636.034266" style="fill: #f0461e; stroke: #f0461e; stroke-width: 1.033; stroke-linejoin: miter"/> 
</g> 
</g> 
<g id="line2d_95"> 
<path d="M 157.946144 760.45 L 157.946144 551.5 " clip-path="url(#pd3f62446b9)" style="fill: none; stroke-dasharray: 5.73315,2.4792; stroke-dashoffset: 0; stroke: #808080; stroke-width: 1.5495"/> 
</g> 
<g id="line2d_96"> 
<path d="M 37.53 636.034266 L 318.45 636.034266 " clip-path="url(#pd3f62446b9)" style="fill: none; stroke-dasharray: 5.73315,2.4792; stroke-dashoffset: 0; stroke: #808080; stroke-width: 1.5495"/> 
</g> 
<g id="line2d_97"> 
<path d="M 50.459052 751.401583 L 305.469946 561.308788 " clip-path="url(#pd3f62446b9)" style="fill: none; stroke-dasharray: 7.6442,3.3056; stroke-dashoffset: 0; stroke: #3a77a5; stroke-opacity: 0.8; stroke-width: 2.066"/> 
</g> 
<g id="patch_27"> 
<path d="M 37.53 760.45 L 37.53 551.5 " style="fill: none; stroke: #000000; stroke-width: 0.8264; stroke-linejoin: miter; stroke-linecap: square"/> 
</g> 
<g id="patch_28"> 
<path d="M 318.45 760.45 L 318.45 551.5 " style="fill: none; stroke: #000000; stroke-width: 0.8264; stroke-linejoin: miter; stroke-linecap: square"/> 
</g> 
<g id="patch_29"> 
<path d="M 37.53 760.45 L 318.45 760.45 " style="fill: none; stroke: #000000; stroke-width: 0.8264; stroke-linejoin: miter; stroke-linecap: square"/> 
</g> 
<g id="patch_30"> 
<path d="M 37.53 551.5 L 318.45 551.5 " style="fill: none; stroke: #000000; stroke-width: 0.8264; stroke-linejoin: miter; stroke-linecap: square"/> 
</g> 
<g id="text_91"> 
<text style="font-family:&quot;Liberation Sans&quot;,sans-serif;font-size:10.929px;text-anchor:start" x="183.447233" y="655.043545" textLength="133.80" lengthAdjust="spacingAndGlyphs">(0.42±0.023,0.61±0.022)</text> 
</g> 
<g id="text_92"> 
<text style="font-family:&quot;Liberation Sans&quot;,sans-serif;font-size:13.115px;text-anchor:middle" x="177.99" y="545.302" textLength="25.08" lengthAdjust="spacingAndGlyphs">MLP</text> 
</g> 
<g id="legend_5"> 
<g id="patch_31"> 
<path d="M 88.292758 755.285 L 311.219 755.285 Q 313.285 755.285 313.285 753.219 L 313.285 708.764491 Q 313.285 706.698491 311.219 706.698491 L 88.292758 706.698491 Q 86.226758 706.698491 86.226758 708.764491 L 86.226758 753.219 Q 86.226758 755.285 88.292758 755.285 z 
" style="fill: #ffffff; opacity: 0.8; stroke: #cccccc; stroke-width: 1.033; stroke-linejoin: miter"/> 
</g> 
<g id="line2d_98"> 
<path d="M 90.358758 715.064177 L 100.688758 715.064177 L 111.018758 715.064177 " style="fill: none; stroke: #cc78bc; stroke-opacity: 0.75; stroke-width: 1.033; stroke-linecap: square"/> 
<g> 
<use href="#m24a4fdad94" x="100.688758" y="715.064177" style="fill: #cc78bc; fill-opacity: 0.75; stroke: #cc78bc; stroke-opacity: 0.75; stroke-width: 1.033"/> 
</g> 
</g> 
<g id="text_93"> 
<text style="font-family:&quot;Liberation Sans&quot;,sans-serif;font-size:10.929px;text-anchor:start" x="119.282758" y="718.679677" textLength="189.87" lengthAdjust="spacingAndGlyphs">Mean ROC (AUC = 0.6282 ± 0.0031)</text> 
</g> 
<g id="line2d_99"> 
<g> 
<use href="#m56142252ae" x="100.688758" y="730.22668" style="fill: #f0461e; stroke: #f0461e; stroke-width: 1.033; stroke-linejoin: miter"/> 
</g> 
</g> 
<g id="text_94"> 
<text style="font-family:&quot;Liberation Sans&quot;,sans-serif;font-size:10.929px;text-anchor:start" x="119.282758" y="733.84218" textLength="73.87" lengthAdjust="spacingAndGlyphs">Optimal cutoff</text> 
</g> 
<g id="line2d_100"> 
<path d="M 90.358758 745.389183 L 100.688758 745.389183 L 111.018758 745.389183 " style="fill: none; stroke-dasharray: 7.6442,3.3056; stroke-dashoffset: 0; stroke: #3a77a5; stroke-opacity: 0.8; stroke-width: 2.066"/> 
</g> 
<g id="text_95"> 
<text style="font-family:&quot;Liberation Sans&quot;,sans-serif;font-size:10.929px;text-anchor:start" x="119.282758" y="749.004683" textLength="38.67" lengthAdjust="spacingAndGlyphs">Chance</text> 
</g> 
</g> 
</g> 
<g id="axes_6"> 
<g id="patch_32"> 
<path d="M 379.3 760.45 L 659.5 760.45 L 659.5 551.5 L 379.3 551.5 z 
" style="fill: #ffffff"/> 
</g> 
<g id="matplotlib.axis_11"> 
<g id="xtick_31"> 
<g id="line2d_101"> 
<g> 
<use href="#m2a7deeeb55" x="391.734554" y="760.45" style="stroke: #000000; stroke-width: 0.8264"/> 
</g> 
</g> 
<g id="text_96"> 
<text style="font-family:&quot;Liberation Sans&quot;,sans-serif;font-size:10.929px;text-anchor:start" transform="translate(384.144812 792.441819) rotate(-45)" textLength="27.17" lengthAdjust="spacingAndGlyphs">&lt;= 1</text> 
</g> 
</g> 
<g id="xtick_32"> 
<g id="line2d_102"> 
<g> 
<use href="#m2a7deeeb55" x="405.148313" y="760.45" style="stroke: #000000; stroke-width: 0.8264"/> 
</g> 
</g> 
<g id="text_97"> 
<text style="font-family:&quot;Liberation Sans&quot;,sans-serif;font-size:10.929px;text-anchor:start" transform="translate(397.558571 792.441819) rotate(-45)" textLength="27.17" lengthAdjust="spacingAndGlyphs">&lt;= 2</text> 
</g> 
</g> 
<g id="xtick_33"> 
<g id="line2d_103"> 
<g> 
<use href="#m2a7deeeb55" x="418.562071" y="760.45" style="stroke: #000000; stroke-width: 0.8264"/> 
</g> 
</g> 
<g id="text_98"> 
<text style="font-family:&quot;Liberation Sans&quot;,sans-serif;font-size:10.929px;text-anchor:start" transform="translate(410.972329 792.441819) rotate(-45)" textLength="27.17" lengthAdjust="spacingAndGlyphs">&lt;= 3</text> 
</g> 
</g> 
<g id="xtick_34"> 
<g id="line2d_104"> 
<g> 
<use href="#m2a7deeeb55" x="431.975829" y="760.45" style="stroke: #000000; stroke-width: 0.8264"/> 
</g> 
</g> 
<g id="text_99"> 
<text style="font-family:&quot;Liberation Sans&quot;,sans-serif;font-size:10.929px;text-anchor:start" transform="translate(424.386088 792.441819) rotate(-45)" textLength="27.17" lengthAdjust="spacingAndGlyphs">&lt;= 4</text> 
</g> 
</g> 
<g id="xtick_35"> 
<g id="line2d_105"> 
<g> 
<use href="#m2a7deeeb55" x="445.389588" y="760.45" style="stroke: #000000; stroke-width: 0.8264"/> 
</g> 
</g> 
<g id="text_100"> 
<text style="font-family:&quot;Liberation Sans&quot;,sans-serif;font-size:10.929px;text-anchor:start" transform="translate(437.799846 792.441819) rotate(-45)" textLength="27.17" lengthAdjust="spacingAndGlyphs">&lt;= 5</text> 
</g> 
</g> 
<g id="xtick_36"> 
<g id="line2d_106"> 
<g> 
<use href="#m2a7deeeb55" x="458.803346" y="760.45" style="stroke: #000000; stroke-width: 0.8264"/> 
</g> 
</g> 
<g id="text_101"> 
<text style="font-family:&quot;Liberation Sans&quot;,sans-serif;font-size:10.929px;text-anchor:start" transform="translate(451.213605 792.441819) rotate(-45)" textLength="27.17" lengthAdjust="spacingAndGlyphs">&lt;= 6</text> 
</g> 
</g> 
<g id="xtick_37"> 
<g id="line2d_107"> 
<g> 
<use href="#m2a7deeeb55" x="472.217105" y="760.45" style="stroke: #000000; stroke-width: 0.8264"/> 
</g> 
</g> 
<g id="text_102"> 
<text style="font-family:&quot;Liberation Sans&quot;,sans-serif;font-size:10.929px;text-anchor:start" transform="translate(464.627363 792.441819) rotate(-45)" textLength="27.17" lengthAdjust="spacingAndGlyphs">&lt;= 7</text> 
</g> 
</g> 
<g id="xtick_38"> 
<g id="line2d_108"> 
<g> 
<use href="#m2a7deeeb55" x="485.630863" y="760.45" style="stroke: #000000; stroke-width: 0.8264"/> 
</g> 
</g> 
<g id="text_103"> 
<text style="font-family:&quot;Liberation Sans&quot;,sans-serif;font-size:10.929px;text-anchor:start" transform="translate(478.041121 792.441819) rotate(-45)" textLength="27.17" lengthAdjust="spacingAndGlyphs">&lt;= 8</text> 
</g> 
</g> 
<g id="xtick_39"> 
<g id="line2d_109"> 
<g> 
<use href="#m2a7deeeb55" x="499.044622" y="760.45" style="stroke: #000000; stroke-width: 0.8264"/> 
</g> 
</g> 
<g id="text_104"> 
<text style="font-family:&quot;Liberation Sans&quot;,sans-serif;font-size:10.929px;text-anchor:start" transform="translate(491.45488 792.441819) rotate(-45)" textLength="27.17" lengthAdjust="spacingAndGlyphs">&lt;= 9</text> 
</g> 
</g> 
<g id="xtick_40"> 
<g id="line2d_110"> 
<g> 
<use href="#m2a7deeeb55" x="512.45838" y="760.45" style="stroke: #000000; stroke-width: 0.8264"/> 
</g> 
</g> 
<g id="text_105"> 
<text style="font-family:&quot;Liberation Sans&quot;,sans-serif;font-size:10.929px;text-anchor:start" transform="translate(502.544922 797.089252) rotate(-45)" textLength="33.74" lengthAdjust="spacingAndGlyphs">&lt;= 10</text> 
</g> 
</g> 
<g id="xtick_41"> 
<g id="line2d_111"> 
<g> 
<use href="#m2a7deeeb55" x="525.872138" y="760.45" style="stroke: #000000; stroke-width: 0.8264"/> 
</g> 
</g> 
<g id="text_106"> 
<text style="font-family:&quot;Liberation Sans&quot;,sans-serif;font-size:10.929px;text-anchor:start" transform="translate(515.95868 797.089252) rotate(-45)" textLength="33.74" lengthAdjust="spacingAndGlyphs">&lt;= 11</text> 
</g> 
</g> 
<g id="xtick_42"> 
<g id="line2d_112"> 
<g> 
<use href="#m2a7deeeb55" x="539.285897" y="760.45" style="stroke: #000000; stroke-width: 0.8264"/> 
</g> 
</g> 
<g id="text_107"> 
<text style="font-family:&quot;Liberation Sans&quot;,sans-serif;font-size:10.929px;text-anchor:start" transform="translate(529.372439 797.089252) rotate(-45)" textLength="33.74" lengthAdjust="spacingAndGlyphs">&lt;= 12</text> 
</g> 
</g> 
<g id="xtick_43"> 
<g id="line2d_113"> 
<g> 
<use href="#m2a7deeeb55" x="552.699655" y="760.45" style="stroke: #000000; stroke-width: 0.8264"/> 
</g> 
</g> 
<g id="text_108"> 
<text style="font-family:&quot;Liberation Sans&quot;,sans-serif;font-size:10.929px;text-anchor:start" transform="translate(542.786197 797.089252) rotate(-45)" textLength="33.74" lengthAdjust="spacingAndGlyphs">&lt;= 13</text> 
</g> 
</g> 
<g id="xtick_44"> 
<g id="line2d_114"> 
<g> 
<use href="#m2a7deeeb55" x="566.113414" y="760.45" style="stroke: #000000; stroke-width: 0.8264"/> 
</g> 
</g> 
<g id="text_109"> 
<text style="font-family:&quot;Liberation Sans&quot;,sans-serif;font-size:10.929px;text-anchor:start" transform="translate(556.199956 797.089252) rotate(-45)" textLength="33.74" lengthAdjust="spacingAndGlyphs">&lt;= 14</text> 
</g> 
</g> 
<g id="xtick_45"> 
<g id="line2d_115"> 
<g> 
<use href="#m2a7deeeb55" x="579.527172" y="760.45" style="stroke: #000000; stroke-width: 0.8264"/> 
</g> 
</g> 
<g id="text_110"> 
<text style="font-family:&quot;Liberation Sans&quot;,sans-serif;font-size:10.929px;text-anchor:start" transform="translate(569.613714 797.089252) rotate(-45)" textLength="33.74" lengthAdjust="spacingAndGlyphs">&lt;= 15</text> 
</g> 
</g> 
<g id="xtick_46"> 
<g id="line2d_116"> 
<g> 
<use href="#m2a7deeeb55" x="592.940931" y="760.45" style="stroke: #000000; stroke-width: 0.8264"/> 
</g> 
</g> 
<g id="text_111"> 
<text style="font-family:&quot;Liberation Sans&quot;,sans-serif;font-size:10.929px;text-anchor:start" transform="translate(583.027473 797.089252) rotate(-45)" textLength="33.74" lengthAdjust="spacingAndGlyphs">&lt;= 16</text> 
</g> 
</g> 
<g id="xtick_47"> 
<g id="line2d_117"> 
<g> 
<use href="#m2a7deeeb55" x="606.354689" y="760.45" style="stroke: #000000; stroke-width: 0.8264"/> 
</g> 
</g> 
<g id="text_112"> 
<text style="font-family:&quot;Liberation Sans&quot;,sans-serif;font-size:10.929px;text-anchor:start" transform="translate(596.441231 797.089252) rotate(-45)" textLength="33.74" lengthAdjust="spacingAndGlyphs">&lt;= 17</text> 
</g> 
</g> 
<g id="xtick_48"> 
<g id="line2d_118"> 
<g> 
<use href="#m2a7deeeb55" x="619.768448" y="760.45" style="stroke: #000000; stroke-width: 0.8264"/> 
</g> 
</g> 
<g id="text_113"> 
<text style="font-family:&quot;Liberation Sans&quot;,sans-serif;font-size:10.929px;text-anchor:start" transform="translate(609.854989 797.089252) rotate(-45)" textLength="33.74" lengthAdjust="spacingAndGlyphs">&lt;= 18</text> 
</g> 
</g> 
<g id="xtick_49"> 
<g id="line2d_119"> 
<g> 
<use href="#m2a7deeeb55" x="633.182206" y="760.45" style="stroke: #000000; stroke-width: 0.8264"/> 
</g> 
</g> 
<g id="text_114"> 
<text style="font-family:&quot;Liberation Sans&quot;,sans-serif;font-size:10.929px;text-anchor:start" transform="translate(623.268748 797.089252) rotate(-45)" textLength="33.74" lengthAdjust="spacingAndGlyphs">&lt;= 19</text> 
</g> 
</g> 
<g id="xtick_50"> 
<g id="line2d_120"> 
<g> 
<use href="#m2a7deeeb55" x="646.595964" y="760.45" style="stroke: #000000; stroke-width: 0.8264"/> 
</g> 
</g> 
<g id="text_115"> 
<text style="font-family:&quot;Liberation Sans&quot;,sans-serif;font-size:10.929px;text-anchor:start" transform="translate(636.682506 797.089252) rotate(-45)" textLength="33.74" lengthAdjust="spacingAndGlyphs">&lt;= 20</text> 
</g> 
</g> 
<g id="text_116"> 
<text style="font-family:&quot;Liberation Sans&quot;,sans-serif;font-size:10.929px;text-anchor:middle" x="519.4" y="810.589527" textLength="125.67" lengthAdjust="spacingAndGlyphs">Patients' timeline length</text> 
</g> 
</g> 
<g id="matplotlib.axis_12"> 
<g id="ytick_31"> 
<g id="line2d_121"> 
<g> 
<use href="#m3db1927b41" x="379.3" y="753.280349" style="stroke: #000000; stroke-width: 0.8264"/> 
</g> 
</g> 
<g id="text_117"> 
<text style="font-family:&quot;Liberation Sans&quot;,sans-serif;font-size:10.929px;text-anchor:end" x="372.069" y="757.204942" textLength="23.00" lengthAdjust="spacingAndGlyphs">0.60</text> 
</g> 
</g> 
<g id="ytick_32"> 
<g id="line2d_122"> 
<g> 
<use href="#m3db1927b41" x="379.3" y="712.075458" style="stroke: #000000; stroke-width: 0.8264"/> 
</g> 
</g> 
<g id="text_118"> 
<text style="font-family:&quot;Liberation Sans&quot;,sans-serif;font-size:10.929px;text-anchor:end" x="372.069" y="716.000051" textLength="23.00" lengthAdjust="spacingAndGlyphs">0.61</text> 
</g> 
</g> 
<g id="ytick_33"> 
<g id="line2d_123"> 
<g> 
<use href="#m3db1927b41" x="379.3" y="670.870568" style="stroke: #000000; stroke-width: 0.8264"/> 
</g> 
</g> 
<g id="text_119"> 
<text style="font-family:&quot;Liberation Sans&quot;,sans-serif;font-size:10.929px;text-anchor:end" x="372.069" y="674.795161" textLength="23.00" lengthAdjust="spacingAndGlyphs">0.62</text> 
</g> 
</g> 
<g id="ytick_34"> 
<g id="line2d_124"> 
<g> 
<use href="#m3db1927b41" x="379.3" y="629.665677" style="stroke: #000000; stroke-width: 0.8264"/> 
</g> 
</g> 
<g id="text_120"> 
<text style="font-family:&quot;Liberation Sans&quot;,sans-serif;font-size:10.929px;text-anchor:end" x="372.069" y="633.59027" textLength="23.00" lengthAdjust="spacingAndGlyphs">0.63</text> 
</g> 
</g> 
<g id="ytick_35"> 
<g id="line2d_125"> 
<g> 
<use href="#m3db1927b41" x="379.3" y="588.460787" style="stroke: #000000; stroke-width: 0.8264"/> 
</g> 
</g> 
<g id="text_121"> 
<text style="font-family:&quot;Liberation Sans&quot;,sans-serif;font-size:10.929px;text-anchor:end" x="372.069" y="592.38538" textLength="23.00" lengthAdjust="spacingAndGlyphs">0.64</text> 
</g> 
</g> 
<g id="text_122"> 
<text style="font-family:&quot;Liberation Sans&quot;,sans-serif;font-size:10.929px;text-anchor:middle" x="342.788292" y="655.975" transform="rotate(-90 342.788292 655.975)" textLength="67.54" lengthAdjust="spacingAndGlyphs">Average AUC</text> 
</g> 
</g> 
<g id="LineCollection_1"> 
<path d="M 391.734554 702.598334 L 391.734554 673.75491 " clip-path="url(#p88c06425a1)" style="fill: none; stroke: #0173b2; stroke-opacity: 0.8; stroke-width: 1.5495"/> 
<path d="M 405.148313 691.060964 L 405.148313 659.745247 " clip-path="url(#p88c06425a1)" style="fill: none; stroke: #0173b2; stroke-opacity: 0.8; stroke-width: 1.5495"/> 
<path d="M 418.562071 669.222372 L 418.562071 640.378949 " clip-path="url(#p88c06425a1)" style="fill: none; stroke: #0173b2; stroke-opacity: 0.8; stroke-width: 1.5495"/> 
<path d="M 431.975829 648.207878 L 431.975829 620.188553 " clip-path="url(#p88c06425a1)" style="fill: none; stroke: #0173b2; stroke-opacity: 0.8; stroke-width: 1.5495"/> 
<path d="M 445.389588 635.434362 L 445.389588 606.590939 " clip-path="url(#p88c06425a1)" style="fill: none; stroke: #0173b2; stroke-opacity: 0.8; stroke-width: 1.5495"/> 
<path d="M 458.803346 617.30421 L 458.803346 590.93308 " clip-path="url(#p88c06425a1)" style="fill: none; stroke: #0173b2; stroke-opacity: 0.8; stroke-width: 1.5495"/> 
<path d="M 472.217105 611.947574 L 472.217105 583.104151 " clip-path="url(#p88c06425a1)" style="fill: none; stroke: #0173b2; stroke-opacity: 0.8; stroke-width: 1.5495"/> 
<path d="M 485.630863 602.882499 L 485.630863 575.687271 " clip-path="url(#p88c06425a1)" style="fill: none; stroke: #0173b2; stroke-opacity: 0.8; stroke-width: 1.5495"/> 
<path d="M 499.044622 599.174058 L 499.044622 571.978831 " clip-path="url(#p88c06425a1)" style="fill: none; stroke: #0173b2; stroke-opacity: 0.8; stroke-width: 1.5495"/> 
<path d="M 512.45838 594.64152 L 512.45838 569.094488 " clip-path="url(#p88c06425a1)" style="fill: none; stroke: #0173b2; stroke-opacity: 0.8; stroke-width: 1.5495"/> 
<path d="M 525.872138 592.581276 L 525.872138 567.034244 " clip-path="url(#p88c06425a1)" style="fill: none; stroke: #0173b2; stroke-opacity: 0.8; stroke-width: 1.5495"/> 
<path d="M 539.285897 589.284885 L 539.285897 565.386048 " clip-path="url(#p88c06425a1)" style="fill: none; stroke: #0173b2; stroke-opacity: 0.8; stroke-width: 1.5495"/> 
<path d="M 552.699655 589.284885 L 552.699655 564.56195 " clip-path="url(#p88c06425a1)" style="fill: none; stroke: #0173b2; stroke-opacity: 0.8; stroke-width: 1.5495"/> 
<path d="M 566.113414 587.22464 L 566.113414 562.501706 " clip-path="url(#p88c06425a1)" style="fill: none; stroke: #0173b2; stroke-opacity: 0.8; stroke-width: 1.5495"/> 
<path d="M 579.527172 585.988493 L 579.527172 562.089657 " clip-path="url(#p88c06425a1)" style="fill: none; stroke: #0173b2; stroke-opacity: 0.8; stroke-width: 1.5495"/> 
<path d="M 592.940931 585.576444 L 592.940931 561.677608 " clip-path="url(#p88c06425a1)" style="fill: none; stroke: #0173b2; stroke-opacity: 0.8; stroke-width: 1.5495"/> 
<path d="M 606.354689 585.576444 L 606.354689 561.677608 " clip-path="url(#p88c06425a1)" style="fill: none; stroke: #0173b2; stroke-opacity: 0.8; stroke-width: 1.5495"/> 
<path d="M 619.768448 585.576444 L 619.768448 561.677608 " clip-path="url(#p88c06425a1)" style="fill: none; stroke: #0173b2; stroke-opacity: 0.8; stroke-width: 1.5495"/> 
<path d="M 633.182206 585.576444 L 633.182206 561.677608 " clip-path="url(#p88c06425a1)" style="fill: none; stroke: #0173b2; stroke-opacity: 0.8; stroke-width: 1.5495"/> 
<path d="M 646.595964 585.576444 L 646.595964 561.677608 " clip-path="url(#p88c06425a1)" style="fill: none; stroke: #0173b2; stroke-opacity: 0.8; stroke-width: 1.5495"/> 
</g> 
<g id="LineCollection_2"> 
<path d="M 391.734554 713.311605 L 391.734554 686.940475 " clip-path="url(#p88c06425a1)" style="fill: none; stroke: #de8f05; stroke-opacity: 0.8; stroke-width: 1.5495"/> 
<path d="M 405.148313 703.010383 L 405.148313 676.639253 " clip-path="url(#p88c06425a1)" style="fill: none; stroke: #de8f05; stroke-opacity: 0.8; stroke-width: 1.5495"/> 
<path d="M 418.562071 676.227204 L 418.562071 649.856074 " clip-path="url(#p88c06425a1)" style="fill: none; stroke: #de8f05; stroke-opacity: 0.8; stroke-width: 1.5495"/> 
<path d="M 431.975829 654.800661 L 431.975829 628.429531 " clip-path="url(#p88c06425a1)" style="fill: none; stroke: #de8f05; stroke-opacity: 0.8; stroke-width: 1.5495"/> 
<path d="M 445.389588 636.670509 L 445.389588 610.299379 " clip-path="url(#p88c06425a1)" style="fill: none; stroke: #de8f05; stroke-opacity: 0.8; stroke-width: 1.5495"/> 
<path d="M 458.803346 620.600601 L 458.803346 594.229472 " clip-path="url(#p88c06425a1)" style="fill: none; stroke: #de8f05; stroke-opacity: 0.8; stroke-width: 1.5495"/> 
<path d="M 472.217105 613.59577 L 472.217105 587.22464 " clip-path="url(#p88c06425a1)" style="fill: none; stroke: #de8f05; stroke-opacity: 0.8; stroke-width: 1.5495"/> 
<path d="M 485.630863 603.706596 L 485.630863 578.983662 " clip-path="url(#p88c06425a1)" style="fill: none; stroke: #de8f05; stroke-opacity: 0.8; stroke-width: 1.5495"/> 
<path d="M 499.044622 599.998156 L 499.044622 576.09932 " clip-path="url(#p88c06425a1)" style="fill: none; stroke: #de8f05; stroke-opacity: 0.8; stroke-width: 1.5495"/> 
<path d="M 512.45838 596.701765 L 512.45838 573.627026 " clip-path="url(#p88c06425a1)" style="fill: none; stroke: #de8f05; stroke-opacity: 0.8; stroke-width: 1.5495"/> 
<path d="M 525.872138 594.229472 L 525.872138 571.154733 " clip-path="url(#p88c06425a1)" style="fill: none; stroke: #de8f05; stroke-opacity: 0.8; stroke-width: 1.5495"/> 
<path d="M 539.285897 591.345129 L 539.285897 568.27039 " clip-path="url(#p88c06425a1)" style="fill: none; stroke: #de8f05; stroke-opacity: 0.8; stroke-width: 1.5495"/> 
<path d="M 552.699655 590.93308 L 552.699655 567.858342 " clip-path="url(#p88c06425a1)" style="fill: none; stroke: #de8f05; stroke-opacity: 0.8; stroke-width: 1.5495"/> 
<path d="M 566.113414 588.872836 L 566.113414 565.798097 " clip-path="url(#p88c06425a1)" style="fill: none; stroke: #de8f05; stroke-opacity: 0.8; stroke-width: 1.5495"/> 
<path d="M 579.527172 588.460787 L 579.527172 565.386048 " clip-path="url(#p88c06425a1)" style="fill: none; stroke: #de8f05; stroke-opacity: 0.8; stroke-width: 1.5495"/> 
<path d="M 592.940931 588.048738 L 592.940931 564.973999 " clip-path="url(#p88c06425a1)" style="fill: none; stroke: #de8f05; stroke-opacity: 0.8; stroke-width: 1.5495"/> 
<path d="M 606.354689 588.048738 L 606.354689 564.973999 " clip-path="url(#p88c06425a1)" style="fill: none; stroke: #de8f05; stroke-opacity: 0.8; stroke-width: 1.5495"/> 
<path d="M 619.768448 588.048738 L 619.768448 564.973999 " clip-path="url(#p88c06425a1)" style="fill: none; stroke: #de8f05; stroke-opacity: 0.8; stroke-width: 1.5495"/> 
<path d="M 633.182206 588.048738 L 633.182206 564.973999 " clip-path="url(#p88c06425a1)" style="fill: none; stroke: #de8f05; stroke-opacity: 0.8; stroke-width: 1.5495"/> 
<path d="M 646.595964 588.048738 L 646.595964 564.973999 " clip-path="url(#p88c06425a1)" style="fill: none; stroke: #de8f05; stroke-opacity: 0.8; stroke-width: 1.5495"/> 
</g> 
<g id="LineCollection_3"> 
<path d="M 391.734554 750.396007 L 391.734554 727.321268 " clip-path="url(#p88c06425a1)" style="fill: none; stroke: #d55e00; stroke-opacity: 0.8; stroke-width: 1.5495"/> 
<path d="M 405.148313 740.506833 L 405.148313 714.135703 " clip-path="url(#p88c06425a1)" style="fill: none; stroke: #d55e00; stroke-opacity: 0.8; stroke-width: 1.5495"/> 
<path d="M 418.562071 719.904388 L 418.562071 694.357356 " clip-path="url(#p88c06425a1)" style="fill: none; stroke: #d55e00; stroke-opacity: 0.8; stroke-width: 1.5495"/> 
<path d="M 431.975829 696.4176 L 431.975829 670.870568 " clip-path="url(#p88c06425a1)" style="fill: none; stroke: #d55e00; stroke-opacity: 0.8; stroke-width: 1.5495"/> 
<path d="M 445.389588 676.639253 L 445.389588 651.916318 " clip-path="url(#p88c06425a1)" style="fill: none; stroke: #d55e00; stroke-opacity: 0.8; stroke-width: 1.5495"/> 
<path d="M 458.803346 663.041639 L 458.803346 638.318704 " clip-path="url(#p88c06425a1)" style="fill: none; stroke: #d55e00; stroke-opacity: 0.8; stroke-width: 1.5495"/> 
<path d="M 472.217105 653.976563 L 472.217105 629.253628 " clip-path="url(#p88c06425a1)" style="fill: none; stroke: #d55e00; stroke-opacity: 0.8; stroke-width: 1.5495"/> 
<path d="M 485.630863 646.971731 L 485.630863 622.248797 " clip-path="url(#p88c06425a1)" style="fill: none; stroke: #d55e00; stroke-opacity: 0.8; stroke-width: 1.5495"/> 
<path d="M 499.044622 642.851242 L 499.044622 618.128308 " clip-path="url(#p88c06425a1)" style="fill: none; stroke: #d55e00; stroke-opacity: 0.8; stroke-width: 1.5495"/> 
<path d="M 512.45838 640.378949 L 512.45838 615.656015 " clip-path="url(#p88c06425a1)" style="fill: none; stroke: #d55e00; stroke-opacity: 0.8; stroke-width: 1.5495"/> 
<path d="M 525.872138 637.906655 L 525.872138 613.183721 " clip-path="url(#p88c06425a1)" style="fill: none; stroke: #d55e00; stroke-opacity: 0.8; stroke-width: 1.5495"/> 
<path d="M 539.285897 635.846411 L 539.285897 611.123477 " clip-path="url(#p88c06425a1)" style="fill: none; stroke: #d55e00; stroke-opacity: 0.8; stroke-width: 1.5495"/> 
<path d="M 552.699655 634.610264 L 552.699655 609.88733 " clip-path="url(#p88c06425a1)" style="fill: none; stroke: #d55e00; stroke-opacity: 0.8; stroke-width: 1.5495"/> 
<path d="M 566.113414 633.374118 L 566.113414 608.651183 " clip-path="url(#p88c06425a1)" style="fill: none; stroke: #d55e00; stroke-opacity: 0.8; stroke-width: 1.5495"/> 
<path d="M 579.527172 632.137971 L 579.527172 607.415036 " clip-path="url(#p88c06425a1)" style="fill: none; stroke: #d55e00; stroke-opacity: 0.8; stroke-width: 1.5495"/> 
<path d="M 592.940931 631.725922 L 592.940931 607.002988 " clip-path="url(#p88c06425a1)" style="fill: none; stroke: #d55e00; stroke-opacity: 0.8; stroke-width: 1.5495"/> 
<path d="M 606.354689 631.725922 L 606.354689 607.002988 " clip-path="url(#p88c06425a1)" style="fill: none; stroke: #d55e00; stroke-opacity: 0.8; stroke-width: 1.5495"/> 
<path d="M 619.768448 631.725922 L 619.768448 607.002988 " clip-path="url(#p88c06425a1)" style="fill: none; stroke: #d55e00; stroke-opacity: 0.8; stroke-width: 1.5495"/> 
<path d="M 633.182206 631.725922 L 633.182206 607.002988 " clip-path="url(#p88c06425a1)" style="fill: none; stroke: #d55e00; stroke-opacity: 0.8; stroke-width: 1.5495"/> 
<path d="M 646.595964 631.725922 L 646.595964 607.002988 " clip-path="url(#p88c06425a1)" style="fill: none; stroke: #d55e00; stroke-opacity: 0.8; stroke-width: 1.5495"/> 
</g> 
<g id="LineCollection_4"> 
<path d="M 391.734554 740.094784 L 391.734554 720.316437 " clip-path="url(#p88c06425a1)" style="fill: none; stroke: #cc78bc; stroke-opacity: 0.8; stroke-width: 1.5495"/> 
<path d="M 405.148313 733.91405 L 405.148313 709.191116 " clip-path="url(#p88c06425a1)" style="fill: none; stroke: #cc78bc; stroke-opacity: 0.8; stroke-width: 1.5495"/> 
<path d="M 418.562071 717.432094 L 418.562071 689.412769 " clip-path="url(#p88c06425a1)" style="fill: none; stroke: #cc78bc; stroke-opacity: 0.8; stroke-width: 1.5495"/> 
<path d="M 431.975829 698.065796 L 431.975829 670.870568 " clip-path="url(#p88c06425a1)" style="fill: none; stroke: #cc78bc; stroke-opacity: 0.8; stroke-width: 1.5495"/> 
<path d="M 445.389588 686.940475 L 445.389588 658.097052 " clip-path="url(#p88c06425a1)" style="fill: none; stroke: #cc78bc; stroke-opacity: 0.8; stroke-width: 1.5495"/> 
<path d="M 458.803346 674.991057 L 458.803346 646.971731 " clip-path="url(#p88c06425a1)" style="fill: none; stroke: #cc78bc; stroke-opacity: 0.8; stroke-width: 1.5495"/> 
<path d="M 472.217105 669.222372 L 472.217105 639.554851 " clip-path="url(#p88c06425a1)" style="fill: none; stroke: #cc78bc; stroke-opacity: 0.8; stroke-width: 1.5495"/> 
<path d="M 485.630863 663.453688 L 485.630863 631.313873 " clip-path="url(#p88c06425a1)" style="fill: none; stroke: #cc78bc; stroke-opacity: 0.8; stroke-width: 1.5495"/> 
<path d="M 499.044622 659.745247 L 499.044622 630.077726 " clip-path="url(#p88c06425a1)" style="fill: none; stroke: #cc78bc; stroke-opacity: 0.8; stroke-width: 1.5495"/> 
<path d="M 512.45838 658.097052 L 512.45838 626.781335 " clip-path="url(#p88c06425a1)" style="fill: none; stroke: #cc78bc; stroke-opacity: 0.8; stroke-width: 1.5495"/> 
<path d="M 525.872138 656.448856 L 525.872138 626.781335 " clip-path="url(#p88c06425a1)" style="fill: none; stroke: #cc78bc; stroke-opacity: 0.8; stroke-width: 1.5495"/> 
<path d="M 539.285897 654.800661 L 539.285897 624.309042 " clip-path="url(#p88c06425a1)" style="fill: none; stroke: #cc78bc; stroke-opacity: 0.8; stroke-width: 1.5495"/> 
<path d="M 552.699655 653.564514 L 552.699655 624.721091 " clip-path="url(#p88c06425a1)" style="fill: none; stroke: #cc78bc; stroke-opacity: 0.8; stroke-width: 1.5495"/> 
<path d="M 566.113414 651.916318 L 566.113414 623.896993 " clip-path="url(#p88c06425a1)" style="fill: none; stroke: #cc78bc; stroke-opacity: 0.8; stroke-width: 1.5495"/> 
<path d="M 579.527172 651.09222 L 579.527172 623.072895 " clip-path="url(#p88c06425a1)" style="fill: none; stroke: #cc78bc; stroke-opacity: 0.8; stroke-width: 1.5495"/> 
<path d="M 592.940931 651.09222 L 592.940931 622.248797 " clip-path="url(#p88c06425a1)" style="fill: none; stroke: #cc78bc; stroke-opacity: 0.8; stroke-width: 1.5495"/> 
<path d="M 606.354689 651.09222 L 606.354689 622.248797 " clip-path="url(#p88c06425a1)" style="fill: none; stroke: #cc78bc; stroke-opacity: 0.8; stroke-width: 1.5495"/> 
<path d="M 619.768448 651.09222 L 619.768448 622.248797 " clip-path="url(#p88c06425a1)" style="fill: none; stroke: #cc78bc; stroke-opacity: 0.8; stroke-width: 1.5495"/> 
<path d="M 633.182206 651.09222 L 633.182206 622.248797 " clip-path="url(#p88c06425a1)" style="fill: none; stroke: #cc78bc; stroke-opacity: 0.8; stroke-width: 1.5495"/> 
<path d="M 646.595964 651.09222 L 646.595964 622.248797 " clip-path="url(#p88c06425a1)" style="fill: none; stroke: #cc78bc; stroke-opacity: 0.8; stroke-width: 1.5495"/> 
</g> 
<g id="LineCollection_5"> 
<path d="M 391.734554 737.622491 L 391.734554 703.010383 " clip-path="url(#p88c06425a1)" style="fill: none; stroke: #029e73; stroke-opacity: 0.8; stroke-width: 1.5495"/> 
<path d="M 405.148313 721.552583 L 405.148313 694.357356 " clip-path="url(#p88c06425a1)" style="fill: none; stroke: #029e73; stroke-opacity: 0.8; stroke-width: 1.5495"/> 
<path d="M 418.562071 702.186285 L 418.562071 674.991057 " clip-path="url(#p88c06425a1)" style="fill: none; stroke: #029e73; stroke-opacity: 0.8; stroke-width: 1.5495"/> 
<path d="M 431.975829 679.935644 L 431.975829 652.740416 " clip-path="url(#p88c06425a1)" style="fill: none; stroke: #029e73; stroke-opacity: 0.8; stroke-width: 1.5495"/> 
<path d="M 445.389588 661.805492 L 445.389588 634.610264 " clip-path="url(#p88c06425a1)" style="fill: none; stroke: #029e73; stroke-opacity: 0.8; stroke-width: 1.5495"/> 
<path d="M 458.803346 646.971731 L 458.803346 619.776504 " clip-path="url(#p88c06425a1)" style="fill: none; stroke: #029e73; stroke-opacity: 0.8; stroke-width: 1.5495"/> 
<path d="M 472.217105 639.554851 L 472.217105 612.359623 " clip-path="url(#p88c06425a1)" style="fill: none; stroke: #029e73; stroke-opacity: 0.8; stroke-width: 1.5495"/> 
<path d="M 485.630863 631.725922 L 485.630863 605.354792 " clip-path="url(#p88c06425a1)" style="fill: none; stroke: #029e73; stroke-opacity: 0.8; stroke-width: 1.5495"/> 
<path d="M 499.044622 629.253628 L 499.044622 601.234303 " clip-path="url(#p88c06425a1)" style="fill: none; stroke: #029e73; stroke-opacity: 0.8; stroke-width: 1.5495"/> 
<path d="M 512.45838 626.781335 L 512.45838 598.762009 " clip-path="url(#p88c06425a1)" style="fill: none; stroke: #029e73; stroke-opacity: 0.8; stroke-width: 1.5495"/> 
<path d="M 525.872138 623.484944 L 525.872138 597.113814 " clip-path="url(#p88c06425a1)" style="fill: none; stroke: #029e73; stroke-opacity: 0.8; stroke-width: 1.5495"/> 
<path d="M 539.285897 621.836748 L 539.285897 595.465618 " clip-path="url(#p88c06425a1)" style="fill: none; stroke: #029e73; stroke-opacity: 0.8; stroke-width: 1.5495"/> 
<path d="M 552.699655 620.600601 L 552.699655 594.229472 " clip-path="url(#p88c06425a1)" style="fill: none; stroke: #029e73; stroke-opacity: 0.8; stroke-width: 1.5495"/> 
<path d="M 566.113414 619.364455 L 566.113414 592.993325 " clip-path="url(#p88c06425a1)" style="fill: none; stroke: #029e73; stroke-opacity: 0.8; stroke-width: 1.5495"/> 
<path d="M 579.527172 618.952406 L 579.527172 592.581276 " clip-path="url(#p88c06425a1)" style="fill: none; stroke: #029e73; stroke-opacity: 0.8; stroke-width: 1.5495"/> 
<path d="M 592.940931 618.540357 L 592.940931 592.169227 " clip-path="url(#p88c06425a1)" style="fill: none; stroke: #029e73; stroke-opacity: 0.8; stroke-width: 1.5495"/> 
<path d="M 606.354689 618.540357 L 606.354689 592.169227 " clip-path="url(#p88c06425a1)" style="fill: none; stroke: #029e73; stroke-opacity: 0.8; stroke-width: 1.5495"/> 
<path d="M 619.768448 618.540357 L 619.768448 592.169227 " clip-path="url(#p88c06425a1)" style="fill: none; stroke: #029e73; stroke-opacity: 0.8; stroke-width: 1.5495"/> 
<path d="M 633.182206 618.540357 L 633.182206 592.169227 " clip-path="url(#p88c06425a1)" style="fill: none; stroke: #029e73; stroke-opacity: 0.8; stroke-width: 1.5495"/> 
<path d="M 646.595964 618.540357 L 646.595964 592.169227 " clip-path="url(#p88c06425a1)" style="fill: none; stroke: #029e73; stroke-opacity: 0.8; stroke-width: 1.5495"/> 
</g> 
<g id="line2d_126"> 
<path d="M 391.734554 688.176622 L 405.148313 675.403106 L 418.562071 654.800661 L 431.975829 634.198215 L 445.389588 621.01265 L 458.803346 604.118645 L 472.217105 597.525863 L 485.630863 589.284885 L 499.044622 585.576444 L 512.45838 581.868004 L 525.872138 579.80776 L 539.285897 577.335466 L 552.699655 576.923417 L 566.113414 574.863173 L 579.527172 574.039075 L 592.940931 573.627026 L 606.354689 573.627026 L 619.768448 573.627026 L 633.182206 573.627026 L 646.595964 573.627026 " clip-path="url(#p88c06425a1)" style="fill: none; stroke: #0173b2; stroke-opacity: 0.8; stroke-width: 1.5495; stroke-linecap: square"/> 
</g> 
<g id="line2d_127"> 
<path d="M 391.734554 700.12604 L 405.148313 689.824818 L 418.562071 663.041639 L 431.975829 641.615096 L 445.389588 623.484944 L 458.803346 607.415036 L 472.217105 600.410205 L 485.630863 591.345129 L 499.044622 588.048738 L 512.45838 585.164396 L 525.872138 582.692102 L 539.285897 579.80776 L 552.699655 579.395711 L 566.113414 577.335466 L 579.527172 576.923417 L 592.940931 576.511369 L 606.354689 576.511369 L 619.768448 576.511369 L 633.182206 576.511369 L 646.595964 576.511369 " clip-path="url(#p88c06425a1)" style="fill: none; stroke: #de8f05; stroke-opacity: 0.8; stroke-width: 1.5495; stroke-linecap: square"/> 
</g> 
<g id="line2d_128"> 
<path d="M 391.734554 738.858637 L 405.148313 727.321268 L 418.562071 707.130872 L 431.975829 683.644084 L 445.389588 664.277785 L 458.803346 650.680172 L 472.217105 641.615096 L 485.630863 634.610264 L 499.044622 630.489775 L 512.45838 628.017482 L 525.872138 625.545188 L 539.285897 623.484944 L 552.699655 622.248797 L 566.113414 621.01265 L 579.527172 619.776504 L 592.940931 619.364455 L 606.354689 619.364455 L 619.768448 619.364455 L 633.182206 619.364455 L 646.595964 619.364455 " clip-path="url(#p88c06425a1)" style="fill: none; stroke: #d55e00; stroke-opacity: 0.8; stroke-width: 1.5495; stroke-linecap: square"/> 
</g> 
<g id="line2d_129"> 
<path d="M 391.734554 730.20561 L 405.148313 721.552583 L 418.562071 703.422431 L 431.975829 684.468182 L 445.389588 672.518764 L 458.803346 660.981394 L 472.217105 654.388612 L 485.630863 647.38378 L 499.044622 644.911487 L 512.45838 642.439193 L 525.872138 641.615096 L 539.285897 639.554851 L 552.699655 639.142802 L 566.113414 637.906655 L 579.527172 637.082558 L 592.940931 636.670509 L 606.354689 636.670509 L 619.768448 636.670509 L 633.182206 636.670509 L 646.595964 636.670509 " clip-path="url(#p88c06425a1)" style="fill: none; stroke: #cc78bc; stroke-opacity: 0.8; stroke-width: 1.5495; stroke-linecap: square"/> 
</g> 
<g id="line2d_130"> 
<path d="M 391.734554 720.316437 L 405.148313 707.954969 L 418.562071 688.588671 L 431.975829 666.33803 L 445.389588 648.207878 L 458.803346 633.374118 L 472.217105 625.957237 L 485.630863 618.540357 L 499.044622 615.243966 L 512.45838 612.771672 L 525.872138 610.299379 L 539.285897 608.651183 L 552.699655 607.415036 L 566.113414 606.17889 L 579.527172 605.766841 L 592.940931 605.354792 L 606.354689 605.354792 L 619.768448 605.354792 L 633.182206 605.354792 L 646.595964 605.354792 " clip-path="url(#p88c06425a1)" style="fill: none; stroke: #029e73; stroke-opacity: 0.8; stroke-width: 1.5495; stroke-linecap: square"/> 
</g> 
<g id="patch_33"> 
<path d="M 379.3 760.45 L 379.3 551.5 " style="fill: none; stroke: #000000; stroke-width: 0.8264; stroke-linejoin: miter; stroke-linecap: square"/> 
</g> 
<g id="patch_34"> 
<path d="M 659.5 760.45 L 659.5 551.5 " style="fill: none; stroke: #000000; stroke-width: 0.8264; stroke-linejoin: miter; stroke-linecap: square"/> 
</g> 
<g id="patch_35"> 
<path d="M 379.3 760.45 L 659.5 760.45 " style="fill: none; stroke: #000000; stroke-width: 0.8264; stroke-linejoin: miter; stroke-linecap: square"/> 
</g> 
<g id="patch_36"> 
<path d="M 379.3 551.5 L 659.5 551.5 " style="fill: none; stroke: #000000; stroke-width: 0.8264; stroke-linejoin: miter; stroke-linecap: square"/> 
</g> 
<g id="legend_6"> 
<g id="patch_37"> 
<path d="M 522.637184 755.285 L 652.269 755.285 Q 654.335 755.285 654.335 753.219 L 654.335 678.439484 Q 654.335 676.373484 652.269 676.373484 L 522.637184 676.373484 Q 520.571184 676.373484 520.571184 678.439484 L 520.571184 753.219 Q 520.571184 755.285 522.637184 755.285 z 
" style="fill: #ffffff; opacity: 0.8; stroke: #cccccc; stroke-width: 1.033; stroke-linejoin: miter"/> 
</g> 
<g id="LineCollection_6"> 
<path d="M 535.033184 689.90417 L 535.033184 679.57417 " style="fill: none; stroke: #0173b2; stroke-opacity: 0.8; stroke-width: 1.5495"/> 
</g> 
<g id="line2d_131"> 
<path d="M 524.703184 684.73917 L 545.363184 684.73917 " style="fill: none; stroke: #0173b2; stroke-opacity: 0.8; stroke-width: 1.5495; stroke-linecap: square"/> 
</g> 
<g id="line2d_132"/> 
<g id="text_123"> 
<text style="font-family:&quot;Liberation Sans&quot;,sans-serif;font-size:10.929px;text-anchor:start" x="553.627184" y="688.35467" textLength="34.30" lengthAdjust="spacingAndGlyphs">LASSO</text> 
</g> 
<g id="LineCollection_7"> 
<path d="M 535.033184 705.066673 L 535.033184 694.736673 " style="fill: none; stroke: #de8f05; stroke-opacity: 0.8; stroke-width: 1.5495"/> 
</g> 
<g id="line2d_133"> 
<path d="M 524.703184 699.901673 L 545.363184 699.901673 " style="fill: none; stroke: #de8f05; stroke-opacity: 0.8; stroke-width: 1.5495; stroke-linecap: square"/> 
</g> 
<g id="line2d_134"/> 
<g id="text_124"> 
<text style="font-family:&quot;Liberation Sans&quot;,sans-serif;font-size:10.929px;text-anchor:start" x="553.627184" y="703.517173" textLength="96.58" lengthAdjust="spacingAndGlyphs">RNNCRF (Pairwise)</text> 
</g> 
<g id="LineCollection_8"> 
<path d="M 535.033184 720.229177 L 535.033184 709.899177 " style="fill: none; stroke: #029e73; stroke-opacity: 0.8; stroke-width: 1.5495"/> 
</g> 
<g id="line2d_135"> 
<path d="M 524.703184 715.064177 L 545.363184 715.064177 " style="fill: none; stroke: #029e73; stroke-opacity: 0.8; stroke-width: 1.5495; stroke-linecap: square"/> 
</g> 
<g id="line2d_136"/> 
<g id="text_125"> 
<text style="font-family:&quot;Liberation Sans&quot;,sans-serif;font-size:10.929px;text-anchor:start" x="553.627184" y="718.679677" textLength="69.20" lengthAdjust="spacingAndGlyphs">RNN (LastHF)</text> 
</g> 
<g id="LineCollection_9"> 
<path d="M 535.033184 735.39168 L 535.033184 725.06168 " style="fill: none; stroke: #d55e00; stroke-opacity: 0.8; stroke-width: 1.5495"/> 
</g> 
<g id="line2d_137"> 
<path d="M 524.703184 730.22668 L 545.363184 730.22668 " style="fill: none; stroke: #d55e00; stroke-opacity: 0.8; stroke-width: 1.5495; stroke-linecap: square"/> 
</g> 
<g id="line2d_138"/> 
<g id="text_126"> 
<text style="font-family:&quot;Liberation Sans&quot;,sans-serif;font-size:10.929px;text-anchor:start" x="553.627184" y="733.84218" textLength="51.75" lengthAdjust="spacingAndGlyphs">CNN-Wide</text> 
</g> 
<g id="LineCollection_10"> 
<path d="M 535.033184 750.554183 L 535.033184 740.224183 " style="fill: none; stroke: #cc78bc; stroke-opacity: 0.8; stroke-width: 1.5495"/> 
</g> 
<g id="line2d_139"> 
<path d="M 524.703184 745.389183 L 545.363184 745.389183 " style="fill: none; stroke: #cc78bc; stroke-opacity: 0.8; stroke-width: 1.5495; stroke-linecap: square"/> 
</g> 
<g id="line2d_140"/> 
<g id="text_127"> 
<text style="font-family:&quot;Liberation Sans&quot;,sans-serif;font-size:10.929px;text-anchor:start" x="553.627184" y="749.004683" textLength="20.90" lengthAdjust="spacingAndGlyphs">MLP</text> 
</g> 
</g> 
</g> 
<g id="text_128"> 
<text style="font-family:&quot;Liberation Sans&quot;,sans-serif;font-size:15.301px;font-weight:700;text-anchor:start" x="13.3" y="10.3" textLength="11.19" lengthAdjust="spacingAndGlyphs">A</text> 
</g> 
<g id="text_129"> 
<text style="font-family:&quot;Liberation Sans&quot;,sans-serif;font-size:15.301px;font-weight:700;text-anchor:start" x="354.5" y="10.3" textLength="11.02" lengthAdjust="spacingAndGlyphs">B</text> 
</g> 
<g id="text_130"> 
<text style="font-family:&quot;Liberation Sans&quot;,sans-serif;font-size:15.301px;font-weight:700;text-anchor:start" x="13.3" y="277.8" textLength="10.61" lengthAdjust="spacingAndGlyphs">C</text> 
</g> 
<g id="text_131"> 
<text style="font-family:&quot;Liberation Sans&quot;,sans-serif;font-size:15.301px;font-weight:700;text-anchor:start" x="354.5" y="277.8" textLength="12.00" lengthAdjust="spacingAndGlyphs">D</text> 
</g> 
<g id="text_132"> 
<text style="font-family:&quot;Liberation Sans&quot;,sans-serif;font-size:15.301px;font-weight:700;text-anchor:start" x="13.3" y="545.4" textLength="9.88" lengthAdjust="spacingAndGlyphs">E</text> 
</g> 
<g id="text_133"> 
<text style="font-family:&quot;Liberation Sans&quot;,sans-serif;font-size:15.301px;font-weight:700;text-anchor:start" x="354.5" y="545.4" textLength="9.88" lengthAdjust="spacingAndGlyphs">F</text> 
</g> 
</g> 
<defs> 
<clipPath id="p35fcb42cb3"> 
<rect x="37.53" y="16.47" width="280.92" height="208.93"/> 
</clipPath> 
<clipPath id="pb8ad8e4391"> 
<rect x="379.3" y="16.47" width="280.2" height="208.93"/> 
</clipPath> 
<clipPath id="p4486cd3914"> 
<rect x="37.53" y="284.06" width="280.92" height="208.7"/> 
</clipPath> 
<clipPath id="p6d5fb98dcd"> 
<rect x="379.3" y="284.06" width="280.2" height="208.7"/> 
</clipPath> 
<clipPath id="pd3f62446b9"> 
<rect x="37.53" y="551.5" width="280.92" height="208.95"/> 
</clipPath> 
<clipPath id="p88c06425a1"> 
<rect x="379.3" y="551.5" width="280.2" height="208.95"/> 
</clipPath> 
</defs> 
</svg> 

</body></html>
